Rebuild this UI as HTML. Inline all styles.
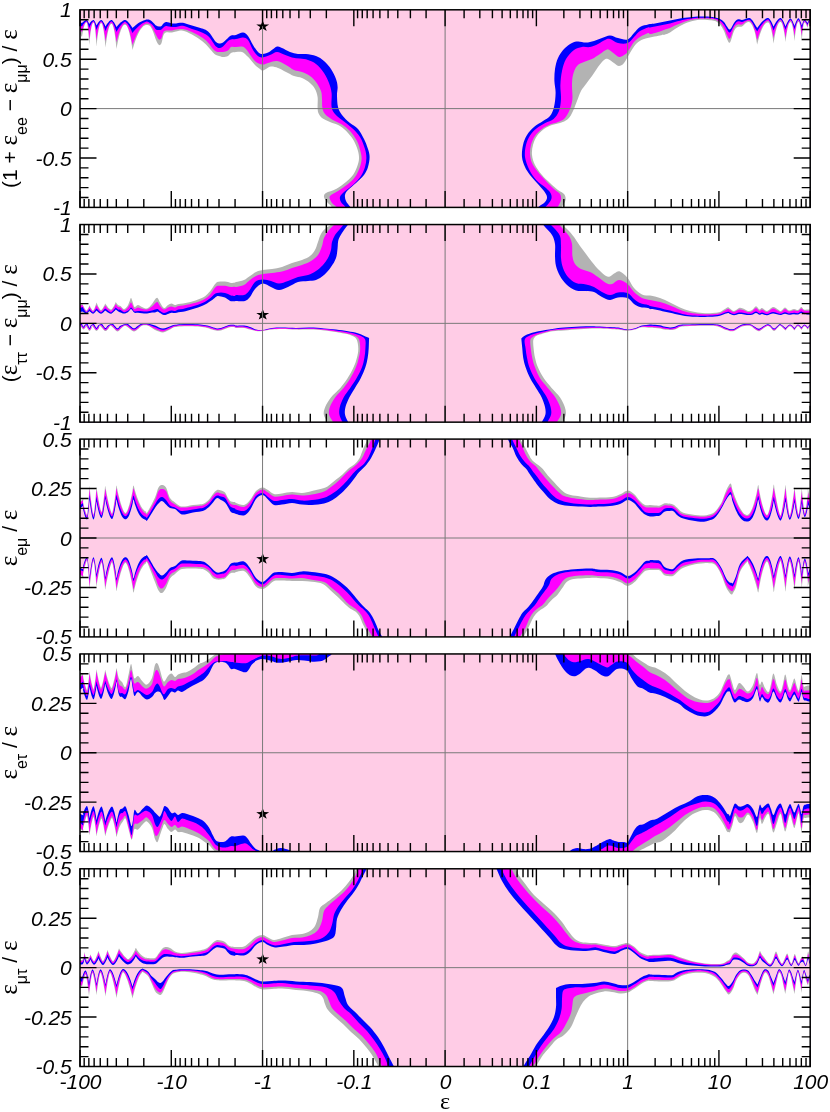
<!DOCTYPE html>
<html><head><meta charset="utf-8"><title>chart</title>
<style>
html,body{margin:0;padding:0;background:#fff;}
body{width:830px;height:1112px;overflow:hidden;}
svg{display:block;}
text{font-family:"Liberation Sans",sans-serif;fill:#000;}
.tl{font-size:21px;font-style:italic;}
.yl{font-size:21px;}
.xe{font-family:"Liberation Serif",serif;font-size:24px;}
.sub{font-size:16px;}
.eps{font-family:"Liberation Serif",serif;font-size:25px;}
</style></head><body>
<svg width="830" height="1112" viewBox="0 0 830 1112">
<rect width="830" height="1112" fill="#fff"/>
<defs>
<clipPath id="c0"><rect x="80" y="9.8" width="730.2" height="197.6"/></clipPath>
<clipPath id="c1"><rect x="80" y="224.55" width="730.2" height="197.6"/></clipPath>
<clipPath id="c2"><rect x="80" y="439.1" width="730.2" height="197.8"/></clipPath>
<clipPath id="c3"><rect x="80" y="653.95" width="730.2" height="197.6"/></clipPath>
<clipPath id="c4"><rect x="80" y="868.8" width="730.2" height="197.7"/></clipPath>
</defs>
<g clip-path="url(#c0)">
<rect x="80" y="9.8" width="730.2" height="197.6" fill="#ffcce6"/>
<path d="M76,21C77,21.33 80.8,22.6 82,23C82.11,22.89 82.33,22.65 82.54,22.45C82.75,22.24 82.98,22.02 83.26,21.77C83.55,21.53 83.92,21.22 84.25,20.99C84.58,20.76 84.95,20.54 85.24,20.39C85.52,20.24 85.75,20.17 85.96,20.1C86.17,20.04 86.36,19.99 86.5,20C86.64,20.01 86.7,20.05 86.82,20.13C86.95,20.22 87.09,20.32 87.26,20.52C87.43,20.72 87.65,21.01 87.85,21.32C88.05,21.63 88.27,22.04 88.44,22.36C88.62,22.69 88.75,22.99 88.88,23.26C89,23.53 89.14,23.85 89.2,24C89.3,23.85 89.52,23.53 89.72,23.26C89.92,22.99 90.13,22.69 90.4,22.36C90.68,22.04 91.03,21.63 91.35,21.32C91.67,21.01 92.02,20.72 92.3,20.52C92.57,20.32 92.78,20.22 92.98,20.13C93.18,20.05 93.35,19.99 93.5,20C93.65,20.01 93.72,20.07 93.86,20.18C94,20.3 94.15,20.45 94.34,20.72C94.53,20.99 94.78,21.39 95,21.81C95.22,22.24 95.47,22.81 95.66,23.25C95.85,23.7 96,24.11 96.14,24.48C96.28,24.86 96.43,25.3 96.5,25.5C96.61,25.3 96.84,24.86 97.06,24.48C97.28,24.11 97.52,23.7 97.82,23.25C98.11,22.81 98.51,22.24 98.85,21.81C99.19,21.39 99.59,20.99 99.88,20.72C100.18,20.45 100.42,20.3 100.64,20.18C100.86,20.07 101.02,19.99 101.2,20C101.38,20.01 101.52,20.08 101.72,20.22C101.92,20.36 102.13,20.53 102.4,20.85C102.68,21.17 103.03,21.65 103.35,22.14C103.67,22.64 104.02,23.32 104.3,23.84C104.57,24.37 104.78,24.85 104.98,25.3C105.18,25.74 105.4,26.26 105.5,26.5C105.64,26.26 105.94,25.74 106.22,25.3C106.5,24.85 106.8,24.37 107.18,23.84C107.56,23.32 108.06,22.64 108.5,22.14C108.94,21.65 109.44,21.17 109.82,20.85C110.2,20.53 110.5,20.36 110.78,20.22C111.06,20.08 111.28,20 111.5,20C111.72,20 111.87,20.08 112.1,20.24C112.33,20.39 112.58,20.57 112.9,20.91C113.22,21.26 113.63,21.77 114,22.31C114.37,22.85 114.78,23.57 115.1,24.14C115.42,24.7 115.67,25.23 115.9,25.71C116.13,26.18 116.38,26.74 116.5,27C116.7,26.74 117.12,26.18 117.52,25.71C117.92,25.23 118.34,24.7 118.88,24.14C119.42,23.57 120.13,22.85 120.75,22.31C121.37,21.77 122.08,21.26 122.62,20.91C123.16,20.57 123.58,20.39 123.98,20.24C124.38,20.08 124.68,19.99 125,20C125.32,20.01 125.55,20.1 125.9,20.27C126.25,20.44 126.62,20.65 127.1,21.04C127.57,21.44 128.2,22.02 128.75,22.64C129.3,23.25 129.93,24.08 130.4,24.73C130.88,25.38 131.25,25.98 131.6,26.52C131.95,27.07 132.32,27.7 132.5,28C132.85,27.69 133.56,27.02 134.24,26.45C134.92,25.87 135.64,25.25 136.56,24.57C137.48,23.89 138.69,23.02 139.75,22.37C140.81,21.73 142.02,21.11 142.94,20.7C143.86,20.28 144.58,20.07 145.26,19.88C145.94,19.7 146.21,19.58 147,19.6C147.79,19.62 149,19.52 150,20C151,20.48 152,21.58 153,22.5C154,23.42 155,24.83 156,25.5C157,26.17 158.08,26.42 159,26.5C159.92,26.58 160.75,26.5 161.5,26C162.25,25.5 162.75,24.17 163.5,23.5C164.25,22.83 165.08,22.17 166,22C166.92,21.83 168,22.25 169,22.5C170,22.75 170.83,23.33 172,23.5C173.17,23.67 174.67,23.62 176,23.5C177.33,23.38 178.83,22.92 180,22.8C181.17,22.68 181.83,22.6 183,22.8C184.17,23 185.5,23.55 187,24C188.5,24.45 190.33,25 192,25.5C193.67,26 195.33,26.5 197,27C198.67,27.5 200.5,28 202,28.5C203.5,29 204.67,29.17 206,30C207.33,30.83 208.83,32.17 210,33.5C211.17,34.83 212,36.58 213,38C214,39.42 215,41.08 216,42C217,42.92 217.83,43.42 219,43.5C220.17,43.58 221.5,43.42 223,42.5C224.5,41.58 226.67,39.15 228,38C229.33,36.85 229.67,36.1 231,35.6C232.33,35.1 234,35.5 236,35C238,34.5 241,32.43 243,32.6C245,32.77 246.33,33.93 248,36C249.67,38.07 251.33,42.33 253,45C254.67,47.67 256.4,50.5 258,52C259.6,53.5 260.6,54.1 262.6,54C264.6,53.9 267.6,52.63 270,51.4C272.4,50.17 275,47.17 277,46.6C279,46.03 279.83,47.1 282,48C284.17,48.9 287.33,51 290,52C292.67,53 295.33,53.67 298,54C300.67,54.33 303,53.67 306,54C309,54.33 313,54.83 316,56C319,57.17 321.5,58.83 324,61C326.5,63.17 329,66 331,69C333,72 334.9,76 336,79C337.1,82 337.43,84.33 337.6,87C337.77,89.67 336.93,91.67 337,95C337.07,98.33 337.17,103.67 338,107C338.83,110.33 340,112.33 342,115C344,117.67 347.33,120.67 350,123C352.67,125.33 355.67,126.33 358,129C360.33,131.67 362.33,135.67 364,139C365.67,142.33 367.07,146 368,149C368.93,152 369.6,154 369.6,157C369.6,160 368.93,164 368,167C367.07,170 366,172.33 364,175C362,177.67 358.67,180.5 356,183C353.33,185.5 349.83,188 348,190C346.17,192 345.33,193.17 345,195C344.67,196.83 345.17,199.07 346,201C346.83,202.93 348.67,204.6 350,206.6C351.33,208.6 353.33,211.93 354,213L70,220L70,24Z" fill="#0000ff"/>
<path d="M76,23C77,23.58 80.8,25.8 82,26.5C82.11,26.3 82.33,25.88 82.54,25.52C82.75,25.16 82.98,24.76 83.26,24.33C83.55,23.9 83.92,23.36 84.25,22.95C84.58,22.54 84.95,22.15 85.24,21.89C85.52,21.63 85.75,21.49 85.96,21.38C86.17,21.26 86.36,21.19 86.5,21.2C86.64,21.21 86.7,21.28 86.82,21.43C86.95,21.58 87.09,21.75 87.26,22.09C87.43,22.42 87.65,22.92 87.85,23.44C88.05,23.97 88.27,24.67 88.44,25.22C88.62,25.77 88.75,26.28 88.88,26.74C89,27.21 89.14,27.75 89.2,28C89.3,27.75 89.52,27.21 89.72,26.74C89.92,26.28 90.13,25.77 90.4,25.22C90.68,24.67 91.03,23.97 91.35,23.44C91.67,22.92 92.02,22.42 92.3,22.09C92.57,21.75 92.78,21.58 92.98,21.43C93.18,21.28 93.35,21.19 93.5,21.2C93.65,21.21 93.72,21.3 93.86,21.5C94,21.69 94.15,21.91 94.34,22.35C94.53,22.78 94.78,23.43 95,24.1C95.22,24.78 95.47,25.69 95.66,26.4C95.85,27.11 96,27.77 96.14,28.37C96.28,28.97 96.43,29.67 96.5,30C96.61,29.68 96.84,28.98 97.06,28.39C97.28,27.8 97.52,27.15 97.82,26.44C98.11,25.74 98.51,24.84 98.85,24.17C99.19,23.5 99.59,22.86 99.88,22.43C100.18,22.01 100.42,21.78 100.64,21.59C100.86,21.4 101.02,21.29 101.2,21.3C101.38,21.31 101.52,21.42 101.72,21.63C101.92,21.84 102.13,22.09 102.4,22.57C102.68,23.04 103.03,23.75 103.35,24.5C103.67,25.24 104.02,26.25 104.3,27.03C104.57,27.82 104.78,28.54 104.98,29.21C105.18,29.87 105.4,30.64 105.5,31C105.64,30.65 105.94,29.89 106.22,29.24C106.5,28.6 106.8,27.88 107.18,27.12C107.56,26.35 108.06,25.36 108.5,24.63C108.94,23.9 109.44,23.21 109.82,22.74C110.2,22.27 110.5,22.03 110.78,21.82C111.06,21.61 111.28,21.49 111.5,21.5C111.72,21.51 111.87,21.62 112.1,21.85C112.33,22.08 112.58,22.35 112.9,22.87C113.22,23.39 113.63,24.16 114,24.96C114.37,25.77 114.78,26.86 115.1,27.71C115.42,28.56 115.67,29.34 115.9,30.06C116.13,30.77 116.38,31.61 116.5,32C116.7,31.62 117.12,30.81 117.52,30.11C117.92,29.42 118.34,28.65 118.88,27.83C119.42,27.01 120.13,25.95 120.75,25.16C121.37,24.38 122.08,23.63 122.62,23.13C123.16,22.63 123.58,22.36 123.98,22.14C124.38,21.92 124.68,21.79 125,21.8C125.32,21.81 125.55,21.93 125.9,22.18C126.25,22.42 126.62,22.71 127.1,23.26C127.57,23.81 128.2,24.63 128.75,25.49C129.3,26.35 129.93,27.52 130.4,28.42C130.88,29.33 131.25,30.17 131.6,30.93C131.95,31.69 132.32,32.59 132.5,33C132.85,32.57 133.56,31.66 134.24,30.87C134.92,30.09 135.64,29.23 136.56,28.3C137.48,27.37 138.69,26.18 139.75,25.29C140.81,24.41 142.02,23.57 142.94,23C143.86,22.43 144.58,22.14 145.26,21.89C145.94,21.64 146.21,21.31 147,21.5C147.79,21.69 149,22.33 150,23C151,23.67 152,24.42 153,25.5C154,26.58 155,28.75 156,29.5C157,30.25 158.08,30 159,30C159.92,30 160.75,29.92 161.5,29.5C162.25,29.08 162.75,28.08 163.5,27.5C164.25,26.92 165.08,26.17 166,26C166.92,25.83 168,26.33 169,26.5C170,26.67 170.83,26.92 172,27C173.17,27.08 174.67,27.17 176,27C177.33,26.83 178.83,26.2 180,26C181.17,25.8 181.83,25.63 183,25.8C184.17,25.97 185.5,26.47 187,27C188.5,27.53 190.33,28.42 192,29C193.67,29.58 195.33,29.92 197,30.5C198.67,31.08 200.5,31.83 202,32.5C203.5,33.17 204.67,33.58 206,34.5C207.33,35.42 208.83,36.67 210,38C211.17,39.33 212,41.08 213,42.5C214,43.92 215,45.58 216,46.5C217,47.42 217.83,48 219,48C220.17,48 221.5,47.67 223,46.5C224.5,45.33 226.67,42.18 228,41C229.33,39.82 229.67,39.73 231,39.4C232.33,39.07 234,39.33 236,39C238,38.67 241,37.23 243,37.4C245,37.57 246.33,37.9 248,40C249.67,42.1 251.33,47.33 253,50C254.67,52.67 256.4,54.77 258,56C259.6,57.23 260.6,57.57 262.6,57.4C264.6,57.23 267.6,55.9 270,55C272.4,54.1 274.67,52.07 277,52C279.33,51.93 281.5,53.7 284,54.6C286.5,55.5 289.33,56.73 292,57.4C294.67,58.07 297.33,58.17 300,58.6C302.67,59.03 305.33,59.1 308,60C310.67,60.9 313.33,61.83 316,64C318.67,66.17 321.83,69.83 324,73C326.17,76.17 327.73,79.67 329,83C330.27,86.33 331.17,89 331.6,93C332.03,97 331.03,103.5 331.6,107C332.17,110.5 333.27,111.83 335,114C336.73,116.17 339.17,117.67 342,120C344.83,122.33 349,125.17 352,128C355,130.83 357.83,133.5 360,137C362.17,140.5 363.93,145.5 365,149C366.07,152.5 366.4,155 366.4,158C366.4,161 365.9,164 365,167C364.1,170 362.83,173.17 361,176C359.17,178.83 356.83,181.33 354,184C351.17,186.67 346.33,189.83 344,192C341.67,194.17 340.5,195.33 340,197C339.5,198.67 340.17,200.4 341,202C341.83,203.6 343.67,204.77 345,206.6C346.33,208.43 348.33,211.93 349,213L70,220L70,24Z" fill="#ff00ff"/>
<path d="M76,26C77,27 80.8,30.8 82,32C82.11,31.57 82.33,30.62 82.54,29.84C82.75,29.07 82.98,28.22 83.26,27.36C83.55,26.5 83.92,25.42 84.25,24.68C84.58,23.93 84.95,23.31 85.24,22.89C85.52,22.47 85.75,22.33 85.96,22.18C86.17,22.03 86.36,21.98 86.5,22C86.64,22.02 86.7,22.05 86.82,22.3C86.95,22.55 87.09,22.8 87.26,23.51C87.43,24.22 87.65,25.29 87.85,26.56C88.05,27.82 88.27,29.64 88.44,31.11C88.62,32.57 88.75,34.02 88.88,35.33C89,36.65 89.14,38.27 89.2,39C89.3,38.28 89.52,36.68 89.72,35.38C89.92,34.08 90.13,32.65 90.4,31.2C90.68,29.75 91.03,27.95 91.35,26.7C91.67,25.45 92.02,24.4 92.3,23.7C92.57,23 92.78,22.75 92.98,22.5C93.18,22.25 93.35,22.2 93.5,22.2C93.65,22.2 93.72,22.25 93.86,22.52C94,22.78 94.15,23.04 94.34,23.78C94.53,24.53 94.78,25.64 95,26.97C95.22,28.29 95.47,30.2 95.66,31.74C95.85,33.27 96,34.78 96.14,36.16C96.28,37.54 96.43,39.23 96.5,40C96.61,39.25 96.84,37.58 97.06,36.23C97.28,34.87 97.52,33.38 97.82,31.87C98.11,30.37 98.51,28.49 98.85,27.19C99.19,25.89 99.59,24.79 99.88,24.06C100.18,23.33 100.42,23.07 100.64,22.81C100.86,22.55 101.02,22.5 101.2,22.5C101.38,22.5 101.52,22.55 101.72,22.83C101.92,23.1 102.13,23.38 102.4,24.15C102.68,24.92 103.03,26.08 103.35,27.46C103.67,28.83 104.02,30.82 104.3,32.41C104.57,34 104.78,35.58 104.98,37.01C105.18,38.44 105.4,40.2 105.5,41C105.64,40.22 105.94,38.51 106.22,37.12C106.5,35.73 106.8,34.19 107.18,32.64C107.56,31.09 108.06,29.16 108.5,27.82C108.94,26.48 109.44,25.35 109.82,24.6C110.2,23.85 110.5,23.59 110.78,23.32C111.06,23.05 111.28,23 111.5,23C111.72,23 111.87,23.06 112.1,23.34C112.33,23.62 112.58,23.9 112.9,24.69C113.22,25.48 113.63,26.68 114,28.09C114.37,29.51 114.78,31.54 115.1,33.18C115.42,34.81 115.67,36.43 115.9,37.9C116.13,39.37 116.38,41.18 116.5,42C116.7,41.21 117.12,39.46 117.52,38.03C117.92,36.61 118.34,35.04 118.88,33.46C119.42,31.87 120.13,29.9 120.75,28.53C121.37,27.16 122.08,26.01 122.62,25.24C123.16,24.47 123.58,24.2 123.98,23.93C124.38,23.65 124.68,23.59 125,23.6C125.32,23.61 125.55,23.66 125.9,23.98C126.25,24.3 126.62,24.61 127.1,25.51C127.57,26.4 128.2,27.74 128.75,29.33C129.3,30.93 129.93,33.22 130.4,35.06C130.88,36.91 131.25,38.73 131.6,40.39C131.95,42.04 132.32,44.08 132.5,45C132.85,44.07 133.56,42.03 134.24,40.36C134.92,38.7 135.64,36.87 136.56,35.02C137.48,33.17 138.69,30.86 139.75,29.26C140.81,27.66 142.02,26.31 142.94,25.41C143.86,24.52 144.58,24.2 145.26,23.88C145.94,23.56 146.21,23.4 147,23.5C147.79,23.6 149,23.58 150,24.5C151,25.42 152,27.25 153,29C154,30.75 155,33.25 156,35C157,36.75 158.08,39 159,39.5C159.92,40 160.75,39.25 161.5,38C162.25,36.75 162.75,33.25 163.5,32C164.25,30.75 165.08,30.75 166,30.5C166.92,30.25 168,30.5 169,30.5C170,30.5 170.83,30.67 172,30.5C173.17,30.33 174.67,29.75 176,29.5C177.33,29.25 178.83,29.08 180,29C181.17,28.92 181.83,28.83 183,29C184.17,29.17 185.5,29.5 187,30C188.5,30.5 190.33,31.25 192,32C193.67,32.75 195.33,33.58 197,34.5C198.67,35.42 200.5,36.5 202,37.5C203.5,38.5 204.67,39.25 206,40.5C207.33,41.75 208.83,43.58 210,45C211.17,46.42 212,47.92 213,49C214,50.08 215,51 216,51.5C217,52 217.83,51.92 219,52C220.17,52.08 221.5,52.23 223,52C224.5,51.77 226.67,51.43 228,50.6C229.33,49.77 229.67,47.6 231,47C232.33,46.4 234.17,47.07 236,47C237.83,46.93 240.33,46.27 242,46.6C243.67,46.93 244.5,47.43 246,49C247.5,50.57 249.33,53.83 251,56C252.67,58.17 254.07,60.57 256,62C257.93,63.43 260.6,64.43 262.6,64.6C264.6,64.77 265.6,63.6 268,63C270.4,62.4 274,60.67 277,61C280,61.33 283.17,63.5 286,65C288.83,66.5 291.33,68.83 294,70C296.67,71.17 299.33,71 302,72C304.67,73 307.67,74.33 310,76C312.33,77.67 314.17,79.5 316,82C317.83,84.5 320,88.17 321,91C322,93.83 321.77,96.17 322,99C322.23,101.83 321.9,105.5 322.4,108C322.9,110.5 323.4,112.1 325,114C326.6,115.9 329.17,117.67 332,119.4C334.83,121.13 339,122.47 342,124.4C345,126.33 347.5,128.23 350,131C352.5,133.77 355.27,137.67 357,141C358.73,144.33 359.63,148 360.4,151C361.17,154 361.73,156.17 361.6,159C361.47,161.83 360.7,165 359.6,168C358.5,171 356.93,174.33 355,177C353.07,179.67 350.83,181.67 348,184C345.17,186.33 340.83,189.17 338,191C335.17,192.83 332.4,193.83 331,195C329.6,196.17 329.43,196.67 329.6,198C329.77,199.33 330.93,201.57 332,203C333.07,204.43 334.67,204.93 336,206.6C337.33,208.27 339.33,211.93 340,213L70,220L70,24Z" fill="#b3b3b3"/>
<path d="M76,28C77,29.5 80.8,35.2 82,37C82.11,36.32 82.33,34.79 82.54,33.59C82.75,32.38 82.98,31.06 83.26,29.77C83.55,28.49 83.92,26.93 84.25,25.88C84.58,24.84 84.95,24.04 85.24,23.5C85.52,22.97 85.75,22.84 85.96,22.67C86.17,22.5 86.36,22.48 86.5,22.5C86.64,22.52 86.7,22.5 86.82,22.76C86.95,23.02 87.09,23.22 87.26,24.05C87.43,24.88 87.65,26.13 87.85,27.75C88.05,29.37 88.27,31.79 88.44,33.79C88.62,35.78 88.75,37.83 88.88,39.7C89,41.57 89.14,43.94 89.2,45C89.3,43.95 89.52,41.62 89.72,39.77C89.92,37.93 90.13,35.9 90.4,33.94C90.68,31.97 91.03,29.58 91.35,27.98C91.67,26.38 92.02,25.15 92.3,24.33C92.57,23.51 92.78,23.31 92.98,23.06C93.18,22.8 93.35,22.8 93.5,22.8C93.65,22.8 93.72,22.8 93.86,23.08C94,23.35 94.15,23.56 94.34,24.44C94.53,25.31 94.78,26.62 95,28.33C95.22,30.04 95.47,32.59 95.66,34.69C95.85,36.79 96,38.95 96.14,40.92C96.28,42.89 96.43,45.38 96.5,46.5C96.61,45.41 96.84,42.96 97.06,41.04C97.28,39.11 97.52,36.99 97.82,34.94C98.11,32.88 98.51,30.38 98.85,28.71C99.19,27.04 99.59,25.76 99.88,24.9C100.18,24.04 100.42,23.84 100.64,23.57C100.86,23.3 101.02,23.3 101.2,23.3C101.38,23.3 101.52,23.3 101.72,23.58C101.92,23.86 102.13,24.08 102.4,24.97C102.68,25.86 103.03,27.2 103.35,28.94C103.67,30.69 104.02,33.3 104.3,35.44C104.57,37.58 104.78,39.79 104.98,41.8C105.18,43.81 105.4,46.36 105.5,47.5C105.64,46.39 105.94,43.92 106.22,41.97C106.5,40.02 106.8,37.87 107.18,35.79C107.56,33.71 108.06,31.18 108.5,29.48C108.94,27.79 109.44,26.49 109.82,25.62C110.2,24.75 110.5,24.54 110.78,24.27C111.06,24 111.28,24 111.5,24C111.72,24 111.87,24 112.1,24.29C112.33,24.58 112.58,24.8 112.9,25.73C113.22,26.65 113.63,28.03 114,29.83C114.37,31.63 114.78,34.33 115.1,36.54C115.42,38.75 115.67,41.04 115.9,43.11C116.13,45.19 116.38,47.82 116.5,49C116.7,47.86 117.12,45.31 117.52,43.3C117.92,41.29 118.34,39.08 118.88,36.94C119.42,34.8 120.13,32.19 120.75,30.44C121.37,28.7 122.08,27.36 122.62,26.47C123.16,25.58 123.58,25.36 123.98,25.08C124.38,24.8 124.68,24.8 125,24.8C125.32,24.8 125.55,24.8 125.9,25.09C126.25,25.38 126.62,25.61 127.1,26.54C127.57,27.47 128.2,28.86 128.75,30.68C129.3,32.5 129.93,35.21 130.4,37.44C130.88,39.67 131.25,41.97 131.6,44.07C131.95,46.16 132.32,48.81 132.5,50C132.85,48.82 133.56,46.19 134.24,44.11C134.92,42.04 135.64,39.75 136.56,37.54C137.48,35.33 138.69,32.63 139.75,30.83C140.81,29.03 142.02,27.65 142.94,26.73C143.86,25.8 144.58,25.58 145.26,25.29C145.94,25 146.21,24.88 147,25C147.79,25.12 149,24.92 150,26C151,27.08 152,29.17 153,31.5C154,33.83 155,37.75 156,40C157,42.25 158.08,44.5 159,45C159.92,45.5 160.75,44.67 161.5,43C162.25,41.33 162.75,36.75 163.5,35C164.25,33.25 165.08,32.92 166,32.5C166.92,32.08 168,32.5 169,32.5C170,32.5 170.83,32.67 172,32.5C173.17,32.33 174.67,31.83 176,31.5C177.33,31.17 178.83,30.62 180,30.5C181.17,30.38 181.83,30.55 183,30.8C184.17,31.05 185.5,31.38 187,32C188.5,32.62 190.33,33.58 192,34.5C193.67,35.42 195.33,36.42 197,37.5C198.67,38.58 200.5,39.83 202,41C203.5,42.17 204.67,43.17 206,44.5C207.33,45.83 208.83,47.67 210,49C211.17,50.33 212,51.5 213,52.5C214,53.5 215,54.42 216,55C217,55.58 217.83,55.67 219,56C220.17,56.33 221.5,57 223,57C224.5,57 226.67,56.67 228,56C229.33,55.33 229.67,53.67 231,53C232.33,52.33 234.17,52.17 236,52C237.83,51.83 240.33,51.5 242,52C243.67,52.5 244.67,53.83 246,55C247.33,56.17 248.5,57.33 250,59C251.5,60.67 253.33,63.33 255,65C256.67,66.67 258.73,68.07 260,69C261.27,69.93 261.6,70.6 262.6,70.6C263.6,70.6 264.6,69.67 266,69C267.4,68.33 269,66.77 271,66.6C273,66.43 275.5,67.1 278,68C280.5,68.9 283.33,70.67 286,72C288.67,73.33 291.33,75 294,76C296.67,77 299.33,76.83 302,78C304.67,79.17 307.83,81.17 310,83C312.17,84.83 313.73,86.67 315,89C316.27,91.33 317.17,94 317.6,97C318.03,100 317.47,104.33 317.6,107C317.73,109.67 317.67,111.17 318.4,113C319.13,114.83 320.07,116.5 322,118C323.93,119.5 327,120.67 330,122C333,123.33 337,124.17 340,126C343,127.83 345.67,130.5 348,133C350.33,135.5 352.33,138 354,141C355.67,144 357.17,148 358,151C358.83,154 359.17,156.33 359,159C358.83,161.67 358,164.33 357,167C356,169.67 354.83,172.5 353,175C351.17,177.5 348.83,179.67 346,182C343.17,184.33 339.33,187.17 336,189C332.67,190.83 328,191.67 326,193C324,194.33 323.83,195.5 324,197C324.17,198.5 325.83,200.5 327,202C328.17,203.5 329.67,204.17 331,206C332.33,207.83 334.33,211.83 335,213L70,220L70,24Z" fill="#ffffff"/>
<path d="M533,213C534,211.93 537,208.43 539,206.6C541,204.77 543.67,203.6 545,202C546.33,200.4 547.17,198.83 547,197C546.83,195.17 545.67,193.33 544,191C542.33,188.67 539.33,185.67 537,183C534.67,180.33 532,177.67 530,175C528,172.33 526.33,170 525,167C523.67,164 522.33,160.67 522,157C521.67,153.33 522.17,148.67 523,145C523.83,141.33 525.17,138 527,135C528.83,132 531.33,129.33 534,127C536.67,124.67 540.33,122.83 543,121C545.67,119.17 548.17,118.33 550,116C551.83,113.67 553.07,110.83 554,107C554.93,103.17 555.53,97.33 555.6,93C555.67,88.67 554.5,85 554.4,81C554.3,77 554.4,72.83 555,69C555.6,65.17 556.5,61.33 558,58C559.5,54.67 561.67,51.5 564,49C566.33,46.5 569.67,44.27 572,43C574.33,41.73 575.67,41.47 578,41.4C580.33,41.33 583.33,42.67 586,42.6C588.67,42.53 591.33,41.77 594,41C596.67,40.23 599.33,38.93 602,38C604.67,37.07 607.33,35.4 610,35.4C612.67,35.4 615.07,37.33 618,38C620.93,38.67 624.93,40.23 627.6,39.4C630.27,38.57 631.93,35.07 634,33C636.07,30.93 637.67,28.4 640,27C642.33,25.6 646.33,25.1 648,24.6C649.67,24.1 648.83,24.18 650,24C651.17,23.82 653.33,23.75 655,23.5C656.67,23.25 658.33,22.83 660,22.5C661.67,22.17 663.33,21.83 665,21.5C666.67,21.17 668.33,20.83 670,20.5C671.67,20.17 673.33,19.83 675,19.5C676.67,19.17 678.33,18.78 680,18.5C681.67,18.22 683.33,18 685,17.8C686.67,17.6 688.33,17.47 690,17.3C691.67,17.13 693.33,16.93 695,16.8C696.67,16.67 698.33,16.55 700,16.5C701.67,16.45 703.33,16.45 705,16.5C706.67,16.55 708.33,16.63 710,16.8C711.67,16.97 713.33,17.13 715,17.5C716.67,17.87 718.5,18.25 720,19C721.5,19.75 722.83,20.75 724,22C725.17,23.25 726,25.25 727,26.5C728,27.75 728.83,30.08 730,29.5C731.17,28.92 732.75,24.67 734,23C735.25,21.33 736.17,20 737.5,19.5C738.83,19 740.58,20.12 742,20C743.42,19.88 744.75,19.13 746,18.8C747.25,18.47 748.42,17.72 749.5,18C750.58,18.28 751.58,19.42 752.5,20.5C753.42,21.58 754.22,23.25 755,24.5C755.78,25.75 756.76,27.3 757.2,28C757.46,27.63 757.99,26.83 758.5,26.15C759,25.47 759.54,24.72 760.22,23.91C760.91,23.1 761.81,22.07 762.6,21.3C763.39,20.53 764.29,19.8 764.98,19.3C765.66,18.81 766.2,18.55 766.7,18.34C767.21,18.12 767.67,18.01 768,18C768.33,17.99 768.4,18.1 768.66,18.29C768.92,18.47 769.19,18.69 769.54,19.11C769.89,19.53 770.35,20.15 770.75,20.8C771.15,21.46 771.61,22.34 771.96,23.03C772.31,23.71 772.58,24.35 772.84,24.93C773.1,25.51 773.37,26.19 773.5,26.5C773.67,26.19 774.01,25.51 774.34,24.93C774.67,24.35 775.02,23.71 775.46,23.03C775.9,22.34 776.49,21.46 777,20.8C777.51,20.15 778.1,19.53 778.54,19.11C778.98,18.69 779.33,18.47 779.66,18.29C779.99,18.1 780.26,18 780.5,18C780.74,18 780.87,18.1 781.1,18.29C781.33,18.47 781.58,18.69 781.9,19.11C782.22,19.53 782.63,20.15 783,20.8C783.37,21.46 783.78,22.34 784.1,23.03C784.42,23.71 784.67,24.35 784.9,24.93C785.13,25.51 785.38,26.19 785.5,26.5C785.62,26.2 785.87,25.57 786.1,25.02C786.33,24.48 786.58,23.88 786.9,23.23C787.22,22.58 787.63,21.75 788,21.14C788.37,20.52 788.78,19.94 789.1,19.54C789.42,19.15 789.67,18.94 789.9,18.77C790.13,18.6 790.32,18.5 790.5,18.5C790.68,18.5 790.79,18.59 790.98,18.75C791.17,18.92 791.37,19.11 791.62,19.48C791.87,19.85 792.21,20.4 792.5,20.97C792.79,21.55 793.13,22.33 793.38,22.93C793.63,23.54 793.83,24.1 794.02,24.61C794.21,25.12 794.4,25.72 794.5,26C794.6,25.72 794.79,25.1 794.98,24.58C795.17,24.05 795.37,23.47 795.62,22.85C795.87,22.23 796.21,21.43 796.5,20.84C796.79,20.25 797.13,19.68 797.38,19.3C797.63,18.92 797.83,18.73 798.02,18.56C798.21,18.39 798.35,18.3 798.5,18.3C798.65,18.3 798.74,18.39 798.9,18.54C799.05,18.7 799.21,18.88 799.42,19.24C799.63,19.59 799.91,20.12 800.15,20.68C800.39,21.23 800.67,21.97 800.88,22.56C801.09,23.14 801.25,23.68 801.4,24.17C801.56,24.66 801.72,25.23 801.8,25.5C801.86,25.29 802,24.83 802.12,24.45C802.25,24.06 802.38,23.63 802.56,23.17C802.73,22.71 802.95,22.12 803.15,21.68C803.35,21.24 803.57,20.83 803.74,20.54C803.92,20.26 804.05,20.12 804.18,19.99C804.3,19.87 804.39,19.81 804.5,19.8C804.61,19.79 804.72,19.84 804.86,19.91C805,19.98 805.15,20.06 805.34,20.22C805.53,20.38 805.78,20.61 806,20.86C806.22,21.1 806.47,21.43 806.66,21.69C806.85,21.95 807,22.19 807.14,22.41C807.28,22.63 807.43,22.88 807.5,23C807.55,22.89 807.65,22.65 807.74,22.45C807.83,22.24 807.93,22.02 808.06,21.77C808.19,21.53 808.35,21.22 808.5,20.99C808.65,20.76 808.81,20.54 808.94,20.39C809.07,20.24 809.17,20.17 809.26,20.1C809.35,20.04 808.04,19.52 809.5,20C810.96,20.48 816.58,22.5 818,23L820,220Z" fill="#0000ff"/>
<path d="M541,213C541.83,211.93 544.33,208.77 546,206.6C547.67,204.43 550.17,202.1 551,200C551.83,197.9 551.83,196 551,194C550.17,192 548.43,190.3 546,188C543.57,185.7 539.2,183.3 536.4,180.2C533.6,177.1 531.1,173.27 529.2,169.4C527.3,165.53 525.53,161.07 525,157C524.47,152.93 525.17,148.6 526,145C526.83,141.4 528.2,138.2 530,135.4C531.8,132.6 534.27,130.27 536.8,128.2C539.33,126.13 542.4,124.53 545.2,123C548,121.47 551.3,121 553.6,119C555.9,117 557.77,114.33 559,111C560.23,107.67 560.77,103.33 561,99C561.23,94.67 560.23,89.67 560.4,85C560.57,80.33 561.07,75.33 562,71C562.93,66.67 564,62.5 566,59C568,55.5 571.33,52 574,50C576.67,48 579.33,47.5 582,47C584.67,46.5 587.33,47.5 590,47C592.67,46.5 595.5,45.17 598,44C600.5,42.83 603,40.83 605,40C607,39.17 607.83,38.5 610,39C612.17,39.5 615.07,42.33 618,43C620.93,43.67 624.93,44 627.6,43C630.27,42 631.93,39 634,37C636.07,35 637.67,32.6 640,31C642.33,29.4 646.33,27.98 648,27.4C649.67,26.82 648.83,27.65 650,27.5C651.17,27.35 653.33,26.83 655,26.5C656.67,26.17 658.33,25.83 660,25.5C661.67,25.17 663.33,24.83 665,24.5C666.67,24.17 668.33,23.92 670,23.5C671.67,23.08 673.33,22.45 675,22C676.67,21.55 678.33,21.22 680,20.8C681.67,20.38 683.33,19.85 685,19.5C686.67,19.15 688.33,18.95 690,18.7C691.67,18.45 693.33,18.17 695,18C696.67,17.83 698.33,17.75 700,17.7C701.67,17.65 703.33,17.68 705,17.7C706.67,17.72 708.33,17.67 710,17.8C711.67,17.93 713.33,18.05 715,18.5C716.67,18.95 718.5,19.5 720,20.5C721.5,21.5 722.83,23 724,24.5C725.17,26 726,28.17 727,29.5C728,30.83 728.83,33.17 730,32.5C731.17,31.83 732.75,27.33 734,25.5C735.25,23.67 736.17,22.08 737.5,21.5C738.83,20.92 740.58,22.17 742,22C743.42,21.83 744.75,20.87 746,20.5C747.25,20.13 748.42,19.38 749.5,19.8C750.58,20.22 751.58,21.63 752.5,23C753.42,24.37 754.22,26.58 755,28C755.78,29.42 756.76,30.8 757.2,31.5C757.46,31.06 757.99,30.1 758.5,29.28C759,28.46 759.54,27.56 760.22,26.59C760.91,25.62 761.81,24.38 762.6,23.46C763.39,22.54 764.29,21.66 764.98,21.07C765.66,20.47 766.2,20.16 766.7,19.9C767.21,19.64 767.67,19.51 768,19.5C768.33,19.49 768.4,19.63 768.66,19.87C768.92,20.11 769.19,20.39 769.54,20.93C769.89,21.48 770.35,22.28 770.75,23.13C771.15,23.97 771.61,25.11 771.96,26C772.31,26.89 772.58,27.72 772.84,28.47C773.1,29.21 773.37,30.09 773.5,30.5C773.67,30.09 774.01,29.21 774.34,28.47C774.67,27.72 775.02,26.89 775.46,26C775.9,25.11 776.49,23.97 777,23.13C777.51,22.28 778.1,21.48 778.54,20.93C778.98,20.39 779.33,20.11 779.66,19.87C779.99,19.63 780.26,19.5 780.5,19.5C780.74,19.5 780.87,19.62 781.1,19.85C781.33,20.08 781.58,20.35 781.9,20.87C782.22,21.39 782.63,22.16 783,22.96C783.37,23.77 783.78,24.86 784.1,25.71C784.42,26.56 784.67,27.34 784.9,28.06C785.13,28.77 785.38,29.61 785.5,30C785.62,29.62 785.87,28.81 786.1,28.11C786.33,27.42 786.58,26.65 786.9,25.83C787.22,25.01 787.63,23.95 788,23.16C788.37,22.38 788.78,21.63 789.1,21.13C789.42,20.63 789.67,20.36 789.9,20.14C790.13,19.92 790.32,19.8 790.5,19.8C790.68,19.8 790.79,19.92 790.98,20.13C791.17,20.34 791.37,20.59 791.62,21.07C791.87,21.54 792.21,22.25 792.5,23C792.79,23.74 793.13,24.75 793.38,25.53C793.63,26.32 793.83,27.04 794.02,27.71C794.21,28.37 794.4,29.14 794.5,29.5C794.6,29.14 794.79,28.35 794.98,27.69C795.17,27.02 795.37,26.29 795.62,25.49C795.87,24.7 796.21,23.69 796.5,22.93C796.79,22.18 797.13,21.46 797.38,20.98C797.63,20.49 797.83,20.24 798.02,20.03C798.21,19.82 798.35,19.7 798.5,19.7C798.65,19.7 798.74,19.81 798.9,20.01C799.05,20.21 799.21,20.45 799.42,20.91C799.63,21.37 799.91,22.05 800.15,22.77C800.39,23.48 800.67,24.45 800.88,25.2C801.09,25.95 801.25,26.65 801.4,27.28C801.56,27.91 801.72,28.66 801.8,29C801.86,28.7 802,28.04 802.12,27.48C802.25,26.92 802.38,26.31 802.56,25.65C802.73,24.98 802.95,24.13 803.15,23.5C803.35,22.88 803.57,22.27 803.74,21.87C803.92,21.46 804.05,21.25 804.18,21.08C804.3,20.9 804.39,20.82 804.5,20.8C804.61,20.78 804.72,20.85 804.86,20.94C805,21.03 805.15,21.14 805.34,21.35C805.53,21.56 805.78,21.86 806,22.19C806.22,22.51 806.47,22.94 806.66,23.28C806.85,23.62 807,23.94 807.14,24.22C807.28,24.51 807.43,24.84 807.5,25C807.55,24.85 807.65,24.53 807.74,24.26C807.83,23.99 807.93,23.69 808.06,23.36C808.19,23.04 808.35,22.63 808.5,22.32C808.65,22.01 808.81,21.72 808.94,21.52C809.07,21.32 809.17,21.22 809.26,21.13C809.35,21.05 808.04,20.52 809.5,21C810.96,21.48 816.58,23.5 818,24L820,220Z" fill="#ff00ff"/>
<path d="M554,213C554.67,211.93 556.83,208.77 558,206.6C559.17,204.43 560.67,202.1 561,200C561.33,197.9 561.17,195.83 560,194C558.83,192.17 556.33,191.17 554,189C551.67,186.83 548.67,183.83 546,181C543.33,178.17 540.33,175 538,172C535.67,169 533.33,166 532,163C530.67,160 530.17,157 530,154C529.83,151 530.17,148 531,145C531.83,142 533.17,138.67 535,136C536.83,133.33 539.5,130.9 542,129C544.5,127.1 547.33,125.77 550,124.6C552.67,123.43 555.5,123.1 558,122C560.5,120.9 563,120.17 565,118C567,115.83 568.77,112.17 570,109C571.23,105.83 572.07,103 572.4,99C572.73,95 571.9,89 572,85C572.1,81 572.17,78.17 573,75C573.83,71.83 575.17,68.17 577,66C578.83,63.83 581.5,63.17 584,62C586.5,60.83 589.33,60.33 592,59C594.67,57.67 597.5,55.6 600,54C602.5,52.4 605,49.73 607,49.4C609,49.07 610,50.73 612,52C614,53.27 617,56.5 619,57C621,57.5 622.57,55.83 624,55C625.43,54.17 625.93,54.17 627.6,52C629.27,49.83 631.93,44.5 634,42C636.07,39.5 637.67,38.5 640,37C642.33,35.5 646.33,33.5 648,33C649.67,32.5 648.83,34 650,34C651.17,34 653.33,33.42 655,33C656.67,32.58 658.33,32.08 660,31.5C661.67,30.92 663.33,30.08 665,29.5C666.67,28.92 668.33,28.67 670,28C671.67,27.33 673.33,26.25 675,25.5C676.67,24.75 678.33,24.17 680,23.5C681.67,22.83 683.33,22.08 685,21.5C686.67,20.92 688.33,20.42 690,20C691.67,19.58 693.33,19.25 695,19C696.67,18.75 698.33,18.58 700,18.5C701.67,18.42 703.33,18.45 705,18.5C706.67,18.55 708.33,18.63 710,18.8C711.67,18.97 713.33,18.88 715,19.5C716.67,20.12 718.5,21.08 720,22.5C721.5,23.92 722.83,25.92 724,28C725.17,30.08 726,33.25 727,35C728,36.75 728.83,39.67 730,38.5C731.17,37.33 732.75,30.33 734,28C735.25,25.67 736.17,25.08 737.5,24.5C738.83,23.92 740.58,25 742,24.5C743.42,24 744.75,22.08 746,21.5C747.25,20.92 748.42,20.5 749.5,21C750.58,21.5 751.58,22.83 752.5,24.5C753.42,26.17 754.22,28.42 755,31C755.78,33.58 756.76,38.2 757.2,40C757.46,39.18 757.99,37.37 758.5,35.9C759,34.43 759.54,32.81 760.22,31.18C760.91,29.54 761.81,27.51 762.6,26.09C763.39,24.68 764.29,23.48 764.98,22.69C765.66,21.9 766.2,21.62 766.7,21.34C767.21,21.06 767.67,21.01 768,21C768.33,20.99 768.4,21.05 768.66,21.3C768.92,21.55 769.19,21.8 769.54,22.51C769.89,23.22 770.35,24.29 770.75,25.56C771.15,26.82 771.61,28.64 771.96,30.11C772.31,31.57 772.58,33.02 772.84,34.33C773.1,35.65 773.37,37.27 773.5,38C773.67,37.25 774.01,35.58 774.34,34.23C774.67,32.87 775.02,31.38 775.46,29.87C775.9,28.37 776.49,26.49 777,25.19C777.51,23.89 778.1,22.79 778.54,22.06C778.98,21.33 779.33,21.07 779.66,20.81C779.99,20.55 780.26,20.5 780.5,20.5C780.74,20.5 780.87,20.55 781.1,20.81C781.33,21.07 781.58,21.33 781.9,22.06C782.22,22.79 782.63,23.89 783,25.19C783.37,26.49 783.78,28.37 784.1,29.87C784.42,31.38 784.67,32.87 784.9,34.23C785.13,35.58 785.38,37.25 785.5,38C785.62,37.27 785.87,35.65 786.1,34.33C786.33,33.02 786.58,31.57 786.9,30.11C787.22,28.64 787.63,26.82 788,25.56C788.37,24.29 788.78,23.22 789.1,22.51C789.42,21.8 789.67,21.55 789.9,21.3C790.13,21.05 790.32,21.01 790.5,21C790.68,20.99 790.79,21.04 790.98,21.27C791.17,21.49 791.37,21.71 791.62,22.34C791.87,22.96 792.21,23.9 792.5,25.02C792.79,26.14 793.13,27.74 793.38,29.04C793.63,30.33 793.83,31.6 794.02,32.77C794.21,33.93 794.4,35.35 794.5,36C794.6,35.34 794.79,33.9 794.98,32.72C795.17,31.55 795.37,30.25 795.62,28.94C795.87,27.63 796.21,26 796.5,24.87C796.79,23.74 797.13,22.79 797.38,22.15C797.63,21.52 797.83,21.3 798.02,21.07C798.21,20.84 798.35,20.8 798.5,20.8C798.65,20.8 798.74,20.84 798.9,21.07C799.05,21.3 799.21,21.52 799.42,22.15C799.63,22.79 799.91,23.74 800.15,24.87C800.39,26 800.67,27.63 800.88,28.94C801.09,30.25 801.25,31.55 801.4,32.72C801.56,33.9 801.72,35.34 801.8,36C801.86,35.39 802,34.04 802.12,32.94C802.25,31.84 802.38,30.63 802.56,29.41C802.73,28.18 802.95,26.66 803.15,25.6C803.35,24.55 803.57,23.66 803.74,23.06C803.92,22.47 804.05,22.26 804.18,22.05C804.3,21.84 804.39,21.83 804.5,21.8C804.61,21.77 804.72,21.82 804.86,21.89C805,21.97 805.15,22.05 805.34,22.26C805.53,22.48 805.78,22.81 806,23.19C806.22,23.58 806.47,24.14 806.66,24.59C806.85,25.03 807,25.48 807.14,25.88C807.28,26.28 807.43,26.78 807.5,27C807.55,26.78 807.65,26.31 807.74,25.92C807.83,25.53 807.93,25.11 808.06,24.68C808.19,24.25 808.35,23.71 808.5,23.34C808.65,22.97 808.81,22.65 808.94,22.45C809.07,22.24 809.17,22.16 809.26,22.09C809.35,22.01 808.04,21.51 809.5,22C810.96,22.49 816.58,24.5 818,25L820,220Z" fill="#b3b3b3"/>
<path d="M558,213C558.67,211.93 560.73,208.77 562,206.6C563.27,204.43 565.27,202.1 565.6,200C565.93,197.9 565.27,195.67 564,194C562.73,192.33 560.33,191.83 558,190C555.67,188.17 552.67,185.5 550,183C547.33,180.5 544.5,178 542,175C539.5,172 536.67,168.33 535,165C533.33,161.67 532.33,158.33 532,155C531.67,151.67 532.17,148.17 533,145C533.83,141.83 535.17,138.67 537,136C538.83,133.33 541.5,130.83 544,129C546.5,127.17 549.33,126 552,125C554.67,124 557.33,124 560,123C562.67,122 565.83,121 568,119C570.17,117 571.5,114 573,111C574.5,108 575.67,104.33 577,101C578.33,97.67 579.5,93.83 581,91C582.5,88.17 584.17,86.5 586,84C587.83,81.5 590,78.83 592,76C594,73.17 596,69.67 598,67C600,64.33 602.33,61.33 604,60C605.67,58.67 606.33,58.5 608,59C609.67,59.5 612.17,61.83 614,63C615.83,64.17 617.33,66 619,66C620.67,66 622.17,65.17 624,63C625.83,60.83 628,56.17 630,53C632,49.83 633.67,46.33 636,44C638.33,41.67 640,40.42 644,39C648,37.58 656.5,36.25 660,35.5C663.5,34.75 663.33,35 665,34.5C666.67,34 668.33,33.42 670,32.5C671.67,31.58 673.33,30.08 675,29C676.67,27.92 678.33,26.92 680,26C681.67,25.08 683.33,24.2 685,23.5C686.67,22.8 688.33,22.3 690,21.8C691.67,21.3 693.33,20.83 695,20.5C696.67,20.17 698.33,19.92 700,19.8C701.67,19.68 703.33,19.73 705,19.8C706.67,19.87 708.33,20 710,20.2C711.67,20.4 713.33,20.28 715,21C716.67,21.72 718.5,22.83 720,24.5C721.5,26.17 722.83,28.58 724,31C725.17,33.42 726,37.08 727,39C728,40.92 728.83,43.83 730,42.5C731.17,41.17 732.75,33.58 734,31C735.25,28.42 736.17,27.75 737.5,27C738.83,26.25 740.58,27.17 742,26.5C743.42,25.83 744.75,23.72 746,23C747.25,22.28 748.42,21.7 749.5,22.2C750.58,22.7 751.58,24.2 752.5,26C753.42,27.8 754.22,29.92 755,33C755.78,36.08 756.76,42.2 757.2,44.5C757.46,43.46 757.99,41.15 758.5,39.32C759,37.49 759.54,35.48 760.22,33.54C760.91,31.59 761.81,29.22 762.6,27.63C763.39,26.05 764.29,24.83 764.98,24.02C765.66,23.21 766.2,23.01 766.7,22.76C767.21,22.5 767.67,22.5 768,22.5C768.33,22.5 768.4,22.5 768.66,22.74C768.92,22.99 769.19,23.17 769.54,23.95C769.89,24.73 770.35,25.88 770.75,27.4C771.15,28.91 771.61,31.18 771.96,33.03C772.31,34.89 772.58,36.81 772.84,38.56C773.1,40.3 773.37,42.51 773.5,43.5C773.67,42.49 774.01,40.22 774.34,38.44C774.67,36.65 775.02,34.69 775.46,32.79C775.9,30.88 776.49,28.57 777,27.02C777.51,25.46 778.1,24.28 778.54,23.48C778.98,22.69 779.33,22.5 779.66,22.25C779.99,22 780.26,22 780.5,22C780.74,22 780.87,22 781.1,22.23C781.33,22.46 781.58,22.64 781.9,23.38C782.22,24.12 782.63,25.22 783,26.67C783.37,28.11 783.78,30.26 784.1,32.03C784.42,33.8 784.67,35.63 784.9,37.29C785.13,38.95 785.38,41.06 785.5,42C785.62,41.07 785.87,38.98 786.1,37.34C786.33,35.69 786.58,33.89 786.9,32.13C787.22,30.38 787.63,28.25 788,26.82C788.37,25.39 788.78,24.3 789.1,23.57C789.42,22.84 789.67,22.66 789.9,22.43C790.13,22.2 790.32,22.2 790.5,22.2C790.68,22.2 790.79,22.2 790.98,22.42C791.17,22.64 791.37,22.8 791.62,23.5C791.87,24.19 792.21,25.23 792.5,26.59C792.79,27.94 793.13,29.97 793.38,31.63C793.63,33.3 793.83,35.01 794.02,36.57C794.21,38.14 794.4,40.11 794.5,41C794.6,40.11 794.79,38.1 794.98,36.53C795.17,34.95 795.37,33.21 795.62,31.53C795.87,29.85 796.21,27.8 796.5,26.43C796.79,25.06 797.13,24.01 797.38,23.31C797.63,22.61 797.83,22.44 798.02,22.22C798.21,22 798.35,22 798.5,22C798.65,22 798.74,22 798.9,22.22C799.05,22.44 799.21,22.61 799.42,23.31C799.63,24.01 799.91,25.06 800.15,26.43C800.39,27.8 800.67,29.85 800.88,31.53C801.09,33.21 801.25,34.95 801.4,36.53C801.56,38.1 801.72,40.11 801.8,41C801.86,40.14 802,38.23 802.12,36.72C802.25,35.2 802.38,33.54 802.56,31.93C802.73,30.32 802.95,28.36 803.15,27.05C803.35,25.73 803.57,24.73 803.74,24.06C803.92,23.38 804.05,23.22 804.18,23.01C804.3,22.8 804.39,22.83 804.5,22.8C804.61,22.77 804.72,22.8 804.86,22.86C805,22.92 805.15,22.97 805.34,23.16C805.53,23.35 805.78,23.64 806,24.01C806.22,24.39 806.47,24.95 806.66,25.41C806.85,25.87 807,26.34 807.14,26.78C807.28,27.21 807.43,27.76 807.5,28C807.55,27.76 807.65,27.24 807.74,26.82C807.83,26.41 807.93,25.95 808.06,25.51C808.19,25.07 808.35,24.53 808.5,24.17C808.65,23.81 808.81,23.53 808.94,23.35C809.07,23.16 809.17,23.12 809.26,23.06C809.35,23 808.04,22.51 809.5,23C810.96,23.49 816.58,25.5 818,26L820,220Z" fill="#ffffff"/>
<polygon points="262.7,20.5 264.3,24.42 269.17,24.51 265.29,27.02 266.7,30.99 262.7,28.62 258.7,30.99 260.11,27.02 256.23,24.51 261.1,24.42" fill="#000"/>
<path d="M262.55,9.8V207.4M445.1,9.8V207.4M627.65,9.8V207.4M80,108.6H810.2" stroke="#7a7a7a" stroke-width="1" fill="none"/>
</g>
<path d="M80,9.8v16.5M80,207.4v-16.5M171.28,9.8v16.5M171.28,207.4v-16.5M262.55,9.8v16.5M262.55,207.4v-16.5M353.83,9.8v16.5M353.83,207.4v-16.5M445.1,9.8v16.5M445.1,207.4v-16.5M536.38,9.8v16.5M536.38,207.4v-16.5M627.65,9.8v16.5M627.65,207.4v-16.5M718.93,9.8v16.5M718.93,207.4v-16.5M810.2,9.8v16.5M810.2,207.4v-16.5M84.18,9.8v8.5M84.18,207.4v-8.5M88.85,9.8v8.5M88.85,207.4v-8.5M94.14,9.8v8.5M94.14,207.4v-8.5M100.25,9.8v8.5M100.25,207.4v-8.5M107.48,9.8v8.5M107.48,207.4v-8.5M116.32,9.8v8.5M116.32,207.4v-8.5M127.73,9.8v8.5M127.73,207.4v-8.5M143.8,9.8v8.5M143.8,207.4v-8.5M175.45,9.8v8.5M175.45,207.4v-8.5M180.12,9.8v8.5M180.12,207.4v-8.5M185.41,9.8v8.5M185.41,207.4v-8.5M191.52,9.8v8.5M191.52,207.4v-8.5M198.75,9.8v8.5M198.75,207.4v-8.5M207.6,9.8v8.5M207.6,207.4v-8.5M219,9.8v8.5M219,207.4v-8.5M235.07,9.8v8.5M235.07,207.4v-8.5M266.73,9.8v8.5M266.73,207.4v-8.5M271.4,9.8v8.5M271.4,207.4v-8.5M276.69,9.8v8.5M276.69,207.4v-8.5M282.8,9.8v8.5M282.8,207.4v-8.5M290.03,9.8v8.5M290.03,207.4v-8.5M298.87,9.8v8.5M298.87,207.4v-8.5M310.28,9.8v8.5M310.28,207.4v-8.5M326.35,9.8v8.5M326.35,207.4v-8.5M357.58,9.8v8.5M357.58,207.4v-8.5M362.28,9.8v8.5M362.28,207.4v-8.5M367.18,9.8v8.5M367.18,207.4v-8.5M373.08,9.8v8.5M373.08,207.4v-8.5M379.88,9.8v8.5M379.88,207.4v-8.5M388.08,9.8v8.5M388.08,207.4v-8.5M397.79,9.8v8.5M397.79,207.4v-8.5M410.39,9.8v8.5M410.39,207.4v-8.5M426.09,9.8v8.5M426.09,207.4v-8.5M464.11,9.8v8.5M464.11,207.4v-8.5M479.81,9.8v8.5M479.81,207.4v-8.5M492.41,9.8v8.5M492.41,207.4v-8.5M502.12,9.8v8.5M502.12,207.4v-8.5M510.32,9.8v8.5M510.32,207.4v-8.5M517.12,9.8v8.5M517.12,207.4v-8.5M523.02,9.8v8.5M523.02,207.4v-8.5M527.92,9.8v8.5M527.92,207.4v-8.5M532.62,9.8v8.5M532.62,207.4v-8.5M563.85,9.8v8.5M563.85,207.4v-8.5M579.92,9.8v8.5M579.92,207.4v-8.5M591.33,9.8v8.5M591.33,207.4v-8.5M600.17,9.8v8.5M600.17,207.4v-8.5M607.4,9.8v8.5M607.4,207.4v-8.5M613.51,9.8v8.5M613.51,207.4v-8.5M618.8,9.8v8.5M618.8,207.4v-8.5M623.47,9.8v8.5M623.47,207.4v-8.5M655.13,9.8v8.5M655.13,207.4v-8.5M671.2,9.8v8.5M671.2,207.4v-8.5M682.6,9.8v8.5M682.6,207.4v-8.5M691.45,9.8v8.5M691.45,207.4v-8.5M698.68,9.8v8.5M698.68,207.4v-8.5M704.79,9.8v8.5M704.79,207.4v-8.5M710.08,9.8v8.5M710.08,207.4v-8.5M714.75,9.8v8.5M714.75,207.4v-8.5M746.4,9.8v8.5M746.4,207.4v-8.5M762.47,9.8v8.5M762.47,207.4v-8.5M773.88,9.8v8.5M773.88,207.4v-8.5M782.72,9.8v8.5M782.72,207.4v-8.5M789.95,9.8v8.5M789.95,207.4v-8.5M796.06,9.8v8.5M796.06,207.4v-8.5M801.35,9.8v8.5M801.35,207.4v-8.5M806.02,9.8v8.5M806.02,207.4v-8.5M80,19.68h8.5M810.2,19.68h-8.5M80,29.56h8.5M810.2,29.56h-8.5M80,39.44h8.5M810.2,39.44h-8.5M80,49.32h8.5M810.2,49.32h-8.5M80,59.2h16.5M810.2,59.2h-16.5M80,69.08h8.5M810.2,69.08h-8.5M80,78.96h8.5M810.2,78.96h-8.5M80,88.84h8.5M810.2,88.84h-8.5M80,98.72h8.5M810.2,98.72h-8.5M80,108.6h16.5M810.2,108.6h-16.5M80,118.48h8.5M810.2,118.48h-8.5M80,128.36h8.5M810.2,128.36h-8.5M80,138.24h8.5M810.2,138.24h-8.5M80,148.12h8.5M810.2,148.12h-8.5M80,158h16.5M810.2,158h-16.5M80,167.88h8.5M810.2,167.88h-8.5M80,177.76h8.5M810.2,177.76h-8.5M80,187.64h8.5M810.2,187.64h-8.5M80,197.52h8.5M810.2,197.52h-8.5" stroke="#000" stroke-width="1.4" fill="none"/>
<rect x="80" y="9.8" width="730.2" height="197.6" fill="none" stroke="#000" stroke-width="1.5"/>
<g clip-path="url(#c1)">
<rect x="80" y="224.55" width="730.2" height="197.6" fill="#ffcce6"/>
<path d="M72,313.2C73.75,312.92 80.4,311.84 82.5,311.5C82.6,311.56 82.79,311.69 82.98,311.81C83.17,311.92 83.37,312.05 83.62,312.2C83.87,312.34 84.21,312.53 84.5,312.69C84.79,312.84 85.13,313 85.38,313.12C85.63,313.23 85.83,313.31 86.02,313.37C86.21,313.44 86.36,313.51 86.5,313.5C86.64,313.49 86.72,313.42 86.86,313.34C87,313.26 87.15,313.16 87.34,313.02C87.53,312.88 87.78,312.68 88,312.48C88.22,312.29 88.47,312.05 88.66,311.87C88.85,311.69 89,311.53 89.14,311.38C89.28,311.24 89.43,311.08 89.5,311C89.58,311.09 89.76,311.27 89.92,311.43C90.08,311.59 90.26,311.77 90.48,311.97C90.7,312.18 90.99,312.45 91.25,312.66C91.51,312.88 91.8,313.1 92.02,313.26C92.24,313.42 92.42,313.53 92.58,313.62C92.74,313.71 92.86,313.81 93,313.8C93.14,313.79 93.26,313.7 93.42,313.59C93.58,313.49 93.76,313.36 93.98,313.17C94.2,312.98 94.49,312.71 94.75,312.46C95.01,312.21 95.3,311.89 95.52,311.65C95.74,311.4 95.92,311.2 96.08,311.01C96.24,310.81 96.42,310.6 96.5,310.5C96.61,310.6 96.83,310.81 97.04,311.01C97.25,311.2 97.48,311.4 97.76,311.65C98.05,311.89 98.42,312.21 98.75,312.46C99.08,312.71 99.45,312.98 99.74,313.17C100.02,313.36 100.25,313.49 100.46,313.59C100.67,313.7 100.83,313.8 101,313.8C101.17,313.8 101.31,313.7 101.5,313.59C101.7,313.49 101.91,313.36 102.18,313.17C102.44,312.98 102.79,312.71 103.1,312.46C103.41,312.21 103.76,311.89 104.02,311.65C104.29,311.4 104.5,311.2 104.7,311.01C104.89,310.81 105.1,310.6 105.2,310.5C105.34,310.6 105.63,310.81 105.9,311.01C106.17,311.2 106.46,311.4 106.82,311.65C107.19,311.89 107.67,312.21 108.1,312.46C108.53,312.71 109.01,312.98 109.38,313.17C109.74,313.36 110.03,313.49 110.3,313.59C110.57,313.7 110.79,313.81 111,313.8C111.21,313.79 111.35,313.66 111.58,313.53C111.8,313.39 112.04,313.22 112.34,312.98C112.65,312.73 113.05,312.38 113.4,312.05C113.75,311.72 114.15,311.31 114.46,310.99C114.76,310.68 115,310.41 115.22,310.16C115.45,309.91 115.68,309.63 115.8,309.5C116.24,309.84 117.22,310.7 118,311.2C118.78,311.7 119.5,312.12 120.5,312.5C121.5,312.88 122.83,313.5 124,313.5C125.17,313.5 126.58,313 127.5,312.5C128.42,312 128.92,311.08 129.5,310.5C130.08,309.92 130.5,309 131,309C131.5,309 131.92,309.87 132.5,310.5C133.08,311.13 133.58,312.42 134.5,312.8C135.42,313.18 136.75,312.73 138,312.8C139.25,312.87 140.5,313.08 142,313.2C143.5,313.32 145.33,313.62 147,313.5C148.67,313.38 150.67,312.67 152,312.5C153.33,312.33 154.08,312.67 155,312.5C155.92,312.33 156.67,311.42 157.5,311.5C158.33,311.58 158.92,312.42 160,313C161.08,313.58 162.67,314.83 164,315C165.33,315.17 166.75,314.37 168,314C169.25,313.63 170.33,312.97 171.5,312.8C172.67,312.63 173.83,313.1 175,313C176.17,312.9 177.17,312.4 178.5,312.2C179.83,312 181.42,312.08 183,311.8C184.58,311.52 186.33,310.97 188,310.5C189.67,310.03 191.33,309.5 193,309C194.67,308.5 196.33,308.08 198,307.5C199.67,306.92 201.5,306.17 203,305.5C204.5,304.83 205.67,304.28 207,303.5C208.33,302.72 209.83,301.63 211,300.8C212.17,299.97 213,299.27 214,298.5C215,297.73 215.83,296.53 217,296.2C218.17,295.87 219.67,296.28 221,296.5C222.33,296.72 223.83,297 225,297.5C226.17,298 227,298.88 228,299.5C229,300.12 229.83,300.92 231,301.2C232.17,301.48 234.17,301.23 235,301.2C235.83,301.17 234.33,301.03 236,301C237.67,300.97 242.67,301.67 245,301C247.33,300.33 248.33,299 250,297C251.67,295 252.9,291.23 255,289C257.1,286.77 259.93,283.93 262.6,283.6C265.27,283.27 268.27,285.93 271,287C273.73,288.07 276.17,290 279,290C281.83,290 284.83,288.33 288,287C291.17,285.67 294.67,283 298,282C301.33,281 305,281.33 308,281C311,280.67 313.33,281 316,280C318.67,279 321.5,277.17 324,275C326.5,272.83 329,269.83 331,267C333,264.17 334.9,261.17 336,258C337.1,254.83 337.2,251 337.6,248C338,245 337.67,242.5 338.4,240C339.13,237.5 340.57,235.33 342,233C343.43,230.67 345.67,227.67 347,226C348.33,224.33 348.5,224.67 350,223C351.5,221.33 355,217.17 356,216L72,215Z" fill="#0000ff"/>
<path d="M72,311.5C73.75,310.75 80.4,307.9 82.5,307C82.6,307.16 82.79,307.5 82.98,307.81C83.17,308.12 83.37,308.46 83.62,308.85C83.87,309.25 84.21,309.77 84.5,310.19C84.79,310.61 85.13,311.06 85.38,311.38C85.63,311.7 85.83,311.92 86.02,312.11C86.21,312.3 86.36,312.48 86.5,312.5C86.64,312.52 86.72,312.37 86.86,312.25C87,312.13 87.15,311.99 87.34,311.79C87.53,311.58 87.78,311.3 88,311.03C88.22,310.76 88.47,310.43 88.66,310.18C88.85,309.93 89,309.71 89.14,309.52C89.28,309.32 89.43,309.1 89.5,309C89.58,309.1 89.76,309.32 89.92,309.52C90.08,309.71 90.26,309.93 90.48,310.18C90.7,310.43 90.99,310.76 91.25,311.03C91.51,311.3 91.8,311.58 92.02,311.79C92.24,311.99 92.42,312.13 92.58,312.25C92.74,312.37 92.86,312.51 93,312.5C93.14,312.49 93.26,312.35 93.42,312.22C93.58,312.08 93.76,311.92 93.98,311.69C94.2,311.45 94.49,311.12 94.75,310.82C95.01,310.51 95.3,310.13 95.52,309.85C95.74,309.56 95.92,309.32 96.08,309.09C96.24,308.87 96.42,308.62 96.5,308.5C96.61,308.62 96.83,308.87 97.04,309.09C97.25,309.32 97.48,309.56 97.76,309.85C98.05,310.13 98.42,310.51 98.75,310.82C99.08,311.12 99.45,311.45 99.74,311.69C100.02,311.92 100.25,312.08 100.46,312.22C100.67,312.35 100.83,312.5 101,312.5C101.17,312.5 101.31,312.35 101.5,312.22C101.7,312.08 101.91,311.92 102.18,311.69C102.44,311.45 102.79,311.12 103.1,310.82C103.41,310.51 103.76,310.13 104.02,309.85C104.29,309.56 104.5,309.32 104.7,309.09C104.89,308.87 105.1,308.62 105.2,308.5C105.34,308.62 105.63,308.87 105.9,309.09C106.17,309.32 106.46,309.56 106.82,309.85C107.19,310.13 107.67,310.51 108.1,310.82C108.53,311.12 109.01,311.45 109.38,311.69C109.74,311.92 110.03,312.08 110.3,312.22C110.57,312.35 110.79,312.51 111,312.5C111.21,312.49 111.35,312.32 111.58,312.15C111.8,311.98 112.04,311.77 112.34,311.48C112.65,311.19 113.05,310.78 113.4,310.4C113.75,310.01 114.15,309.54 114.46,309.18C114.76,308.82 115,308.52 115.22,308.24C115.45,307.96 115.68,307.65 115.8,307.5C116.24,307.9 117.22,309.08 118,309.5C118.78,309.92 119.5,309.55 120.5,310C121.5,310.45 122.83,312.03 124,312.2C125.17,312.37 126.58,311.45 127.5,311C128.42,310.55 128.92,310.08 129.5,309.5C130.08,308.92 130.5,307.58 131,307.5C131.5,307.42 131.92,308.33 132.5,309C133.08,309.67 133.58,311.17 134.5,311.5C135.42,311.83 136.75,311.05 138,311C139.25,310.95 140.5,311.12 142,311.2C143.5,311.28 145.33,311.62 147,311.5C148.67,311.38 150.67,310.83 152,310.5C153.33,310.17 154.08,309.75 155,309.5C155.92,309.25 156.67,308.75 157.5,309C158.33,309.25 158.92,310.33 160,311C161.08,311.67 162.67,312.92 164,313C165.33,313.08 166.75,311.92 168,311.5C169.25,311.08 170.33,310.58 171.5,310.5C172.67,310.42 173.83,311.17 175,311C176.17,310.83 177.17,309.83 178.5,309.5C179.83,309.17 181.42,309.33 183,309C184.58,308.67 186.33,307.97 188,307.5C189.67,307.03 191.33,306.65 193,306.2C194.67,305.75 196.33,305.37 198,304.8C199.67,304.23 201.5,303.52 203,302.8C204.5,302.08 205.67,301.38 207,300.5C208.33,299.62 209.83,298.5 211,297.5C212.17,296.5 213,295.25 214,294.5C215,293.75 215.83,293.33 217,293C218.17,292.67 219.67,292.5 221,292.5C222.33,292.5 223.83,292.75 225,293C226.17,293.25 227,293.58 228,294C229,294.42 229.83,295.17 231,295.5C232.17,295.83 234.17,296.08 235,296C235.83,295.92 234.5,295.17 236,295C237.5,294.83 241.83,295.67 244,295C246.17,294.33 247.17,293.17 249,291C250.83,288.83 252.73,283.9 255,282C257.27,280.1 259.93,279.77 262.6,279.6C265.27,279.43 268.27,280.33 271,281C273.73,281.67 276.17,283.6 279,283.6C281.83,283.6 284.83,282.1 288,281C291.17,279.9 294.67,278 298,277C301.33,276 305,276 308,275C311,274 313.5,272.67 316,271C318.5,269.33 321,267.17 323,265C325,262.83 326.67,260.5 328,258C329.33,255.5 330.33,252.67 331,250C331.67,247.33 331.33,244.5 332,242C332.67,239.5 333.67,237.17 335,235C336.33,232.83 338.33,231 340,229C341.67,227 343.17,225.17 345,223C346.83,220.83 350,217.17 351,216L72,215Z" fill="#ff00ff"/>
<path d="M72,308.5C73.75,307.92 80.4,305.7 82.5,305C82.6,305.21 82.79,305.64 82.98,306.03C83.17,306.42 83.37,306.84 83.62,307.33C83.87,307.81 84.21,308.45 84.5,308.95C84.79,309.45 85.13,309.97 85.38,310.33C85.63,310.7 85.83,310.93 86.02,311.13C86.21,311.32 86.36,311.49 86.5,311.5C86.64,311.51 86.72,311.36 86.86,311.21C87,311.06 87.15,310.88 87.34,310.6C87.53,310.32 87.78,309.92 88,309.54C88.22,309.15 88.47,308.67 88.66,308.29C88.85,307.92 89,307.59 89.14,307.29C89.28,306.99 89.43,306.66 89.5,306.5C89.58,306.66 89.76,306.99 89.92,307.29C90.08,307.59 90.26,307.92 90.48,308.29C90.7,308.67 90.99,309.15 91.25,309.54C91.51,309.92 91.8,310.32 92.02,310.6C92.24,310.88 92.42,311.06 92.58,311.21C92.74,311.36 92.86,311.51 93,311.5C93.14,311.49 93.26,311.32 93.42,311.13C93.58,310.93 93.76,310.7 93.98,310.33C94.2,309.97 94.49,309.45 94.75,308.95C95.01,308.45 95.3,307.81 95.52,307.33C95.74,306.84 95.92,306.42 96.08,306.03C96.24,305.64 96.42,305.21 96.5,305C96.61,305.2 96.83,305.61 97.04,305.98C97.25,306.35 97.48,306.76 97.76,307.22C98.05,307.69 98.42,308.29 98.75,308.77C99.08,309.25 99.45,309.74 99.74,310.09C100.02,310.43 100.25,310.66 100.46,310.85C100.67,311.03 100.83,311.2 101,311.2C101.17,311.2 101.31,311.04 101.5,310.87C101.7,310.7 101.91,310.5 102.18,310.18C102.44,309.86 102.79,309.4 103.1,308.96C103.41,308.52 103.76,307.97 104.02,307.54C104.29,307.12 104.5,306.74 104.7,306.4C104.89,306.06 105.1,305.68 105.2,305.5C105.34,305.67 105.63,306.02 105.9,306.34C106.17,306.66 106.46,307 106.82,307.4C107.19,307.8 107.67,308.31 108.1,308.72C108.53,309.13 109.01,309.55 109.38,309.85C109.74,310.15 110.03,310.34 110.3,310.5C110.57,310.66 110.79,310.81 111,310.8C111.21,310.79 111.35,310.61 111.58,310.41C111.8,310.21 112.04,309.96 112.34,309.58C112.65,309.2 113.05,308.66 113.4,308.13C113.75,307.61 114.15,306.94 114.46,306.44C114.76,305.93 115,305.48 115.22,305.08C115.45,304.67 115.68,304.22 115.8,304C116.24,304.56 117.22,306.22 118,306.8C118.78,307.38 119.5,306.88 120.5,307.5C121.5,308.12 122.83,310.42 124,310.5C125.17,310.58 126.58,308.92 127.5,308C128.42,307.08 128.92,305.92 129.5,305C130.08,304.08 130.5,302.5 131,302.5C131.5,302.5 131.92,303.92 132.5,305C133.08,306.08 133.58,308.58 134.5,309C135.42,309.42 136.75,307.53 138,307.5C139.25,307.47 140.5,308.47 142,308.8C143.5,309.13 145.33,309.88 147,309.5C148.67,309.12 150.67,307.5 152,306.5C153.33,305.5 154.08,304.25 155,303.5C155.92,302.75 156.67,301.58 157.5,302C158.33,302.42 158.92,304.75 160,306C161.08,307.25 162.67,309.25 164,309.5C165.33,309.75 166.75,308 168,307.5C169.25,307 170.33,306.5 171.5,306.5C172.67,306.5 173.83,307.58 175,307.5C176.17,307.42 177.17,306.33 178.5,306C179.83,305.67 181.42,305.75 183,305.5C184.58,305.25 186.33,304.88 188,304.5C189.67,304.12 191.33,303.62 193,303.2C194.67,302.78 196.33,302.53 198,302C199.67,301.47 201.5,300.75 203,300C204.5,299.25 205.67,298.58 207,297.5C208.33,296.42 209.83,294.92 211,293.5C212.17,292.08 213,290.25 214,289C215,287.75 215.83,286.53 217,286C218.17,285.47 219.67,285.83 221,285.8C222.33,285.77 223.83,285.68 225,285.8C226.17,285.92 227,286.3 228,286.5C229,286.7 229.83,286.95 231,287C232.17,287.05 234.17,286.8 235,286.8C235.83,286.8 234.5,287.3 236,287C237.5,286.7 241.67,286.17 244,285C246.33,283.83 248,281.5 250,280C252,278.5 253.9,277 256,276C258.1,275 259.93,274.5 262.6,274C265.27,273.5 268.77,273.4 272,273C275.23,272.6 278.67,272.43 282,271.6C285.33,270.77 288.67,269.1 292,268C295.33,266.9 298.83,266.17 302,265C305.17,263.83 308.33,262.67 311,261C313.67,259.33 316.17,257.5 318,255C319.83,252.5 321,248.83 322,246C323,243.17 322.83,240.67 324,238C325.17,235.33 327,232.5 329,230C331,227.5 333.83,225.33 336,223C338.17,220.67 341,217.17 342,216L72,215Z" fill="#b3b3b3"/>
<path d="M72,307.5C73.75,306.92 80.4,304.7 82.5,304C82.6,304.23 82.79,304.71 82.98,305.13C83.17,305.56 83.37,306.02 83.62,306.53C83.87,307.04 84.21,307.7 84.5,308.2C84.79,308.7 85.13,309.2 85.38,309.54C85.63,309.87 85.83,310.07 86.02,310.23C86.21,310.39 86.36,310.49 86.5,310.5C86.64,310.51 86.72,310.41 86.86,310.27C87,310.14 87.15,309.97 87.34,309.69C87.53,309.4 87.78,308.98 88,308.56C88.22,308.13 88.47,307.57 88.66,307.14C88.85,306.71 89,306.32 89.14,305.96C89.28,305.6 89.43,305.19 89.5,305C89.58,305.19 89.76,305.6 89.92,305.96C90.08,306.32 90.26,306.71 90.48,307.14C90.7,307.57 90.99,308.13 91.25,308.56C91.51,308.98 91.8,309.4 92.02,309.69C92.24,309.97 92.42,310.14 92.58,310.27C92.74,310.41 92.86,310.52 93,310.5C93.14,310.48 93.26,310.36 93.42,310.17C93.58,309.97 93.76,309.73 93.98,309.31C94.2,308.9 94.49,308.29 94.75,307.67C95.01,307.05 95.3,306.24 95.52,305.61C95.74,304.98 95.92,304.41 96.08,303.9C96.24,303.38 96.42,302.78 96.5,302.5C96.61,302.76 96.83,303.32 97.04,303.81C97.25,304.29 97.48,304.83 97.76,305.42C98.05,306.01 98.42,306.77 98.75,307.35C99.08,307.93 99.45,308.5 99.74,308.89C100.02,309.28 100.25,309.5 100.46,309.69C100.67,309.87 100.83,309.99 101,310C101.17,310.01 101.31,309.89 101.5,309.73C101.7,309.57 101.91,309.37 102.18,309.04C102.44,308.7 102.79,308.2 103.1,307.7C103.41,307.2 103.76,306.54 104.02,306.03C104.29,305.52 104.5,305.06 104.7,304.63C104.89,304.21 105.1,303.73 105.2,303.5C105.34,303.71 105.63,304.16 105.9,304.55C106.17,304.94 106.46,305.36 106.82,305.83C107.19,306.31 107.67,306.92 108.1,307.38C108.53,307.84 109.01,308.3 109.38,308.61C109.74,308.92 110.03,309.1 110.3,309.25C110.57,309.4 110.79,309.51 111,309.5C111.21,309.49 111.35,309.37 111.58,309.19C111.8,309 112.04,308.78 112.34,308.39C112.65,308 113.05,307.43 113.4,306.85C113.75,306.27 114.15,305.51 114.46,304.92C114.76,304.33 115,303.79 115.22,303.31C115.45,302.82 115.68,302.26 115.8,302C116.24,302.6 117.22,304.33 118,305C118.78,305.67 119.5,305.33 120.5,306C121.5,306.67 122.83,309 124,309C125.17,309 126.58,307.25 127.5,306C128.42,304.75 128.92,302.83 129.5,301.5C130.08,300.17 130.5,298 131,298C131.5,298 131.92,300 132.5,301.5C133.08,303 133.58,306.42 134.5,307C135.42,307.58 136.75,305 138,305C139.25,305 140.5,306.42 142,307C143.5,307.58 145.33,309 147,308.5C148.67,308 150.67,305.5 152,304C153.33,302.5 154.08,300.5 155,299.5C155.92,298.5 156.67,297.5 157.5,298C158.33,298.5 158.92,300.83 160,302.5C161.08,304.17 162.67,307.58 164,308C165.33,308.42 166.75,305.75 168,305C169.25,304.25 170.33,303.5 171.5,303.5C172.67,303.5 173.83,304.92 175,305C176.17,305.08 177.17,304.25 178.5,304C179.83,303.75 181.42,303.75 183,303.5C184.58,303.25 186.33,302.88 188,302.5C189.67,302.12 191.33,301.7 193,301.2C194.67,300.7 196.33,300.12 198,299.5C199.67,298.88 201.5,298.33 203,297.5C204.5,296.67 205.67,295.75 207,294.5C208.33,293.25 209.83,291.5 211,290C212.17,288.5 213,286.8 214,285.5C215,284.2 215.83,282.87 217,282.2C218.17,281.53 219.67,281.62 221,281.5C222.33,281.38 223.83,281.42 225,281.5C226.17,281.58 227,281.75 228,282C229,282.25 229.83,282.92 231,283C232.17,283.08 234.17,282.67 235,282.5C235.83,282.33 234.5,282.42 236,282C237.5,281.58 241.67,281 244,280C246.33,279 248,277.33 250,276C252,274.67 253.9,273 256,272C258.1,271 259.93,270.5 262.6,270C265.27,269.5 268.77,269.5 272,269C275.23,268.5 278.67,268 282,267C285.33,266 288.67,264.17 292,263C295.33,261.83 299,261.17 302,260C305,258.83 307.83,257.67 310,256C312.17,254.33 313.67,252.33 315,250C316.33,247.67 317,244.67 318,242C319,239.33 319.67,236.33 321,234C322.33,231.67 323.83,229.83 326,228C328.17,226.17 331.67,225 334,223C336.33,221 339,217.17 340,216L72,215Z" fill="#ffffff"/>
<path d="M72,324.5C73.55,324.38 79.58,323.71 81.3,323.8C83.02,323.89 82,324.62 82.29,325.01C82.58,325.41 82.81,325.93 83.02,326.18C83.22,326.42 83.34,326.5 83.5,326.5C83.66,326.5 83.78,326.42 83.98,326.18C84.19,325.93 84.16,325.41 84.71,325.01C85.26,324.62 86.7,323.7 87.3,323.8C87.9,323.9 88,325.01 88.29,325.6C88.58,326.19 88.81,326.95 89.02,327.32C89.22,327.69 89.34,327.8 89.5,327.8C89.66,327.8 89.78,327.69 89.98,327.32C90.19,326.95 90.12,326.19 90.71,325.6C91.3,325.01 92.81,323.8 93.5,323.8C94.19,323.8 94.46,325.01 94.85,325.6C95.24,326.19 95.56,326.95 95.84,327.32C96.12,327.69 96.28,327.8 96.5,327.8C96.72,327.8 96.88,327.69 97.16,327.32C97.44,326.95 97.43,326.19 98.15,325.6C98.87,325.01 100.64,323.79 101.5,323.8C102.36,323.81 102.78,325.07 103.3,325.69C103.82,326.31 104.25,327.11 104.62,327.5C104.99,327.88 105.21,328 105.5,328C105.79,328 106.01,327.88 106.38,327.5C106.75,327.11 106.71,326.31 107.7,325.69C108.69,325.07 111.14,323.79 112.3,323.8C113.46,323.81 113.96,325.13 114.64,325.78C115.32,326.43 115.88,327.27 116.36,327.67C116.83,328.08 117.12,328.2 117.5,328.2C117.88,328.2 118.17,328.08 118.64,327.67C119.12,327.27 119,326.43 120.36,325.78C121.72,325.13 125.19,323.8 126.8,323.8C128.41,323.8 129.1,325.13 130.04,325.78C130.98,326.43 131.76,327.27 132.42,327.67C133.08,328.08 133.47,328.2 134,328.2C134.53,328.2 134.92,328.08 135.58,327.67C136.24,327.27 136.89,326.43 137.96,325.78C139.03,325.13 140.33,324.13 142,323.8C143.67,323.47 145.83,323.52 148,323.8C150.17,324.08 153.17,324.88 155,325.5C156.83,326.12 157.67,327 159,327.5C160.33,328 161.67,328.5 163,328.5C164.33,328.5 165.67,327.92 167,327.5C168.33,327.08 169.67,326.45 171,326C172.33,325.55 173.33,325.1 175,324.8C176.67,324.5 178.5,324.33 181,324.2C183.5,324.07 186.83,323.95 190,324C193.17,324.05 197.17,324.25 200,324.5C202.83,324.75 205,325.08 207,325.5C209,325.92 210.33,326.5 212,327C213.67,327.5 215.5,328.33 217,328.5C218.5,328.67 219.67,328.33 221,328C222.33,327.67 223.67,327 225,326.5C226.33,326 227.5,325.28 229,325C230.5,324.72 232.83,324.7 234,324.8C235.17,324.9 234.33,325.47 236,325.6C237.67,325.73 241.67,325.37 244,325.6C246.33,325.83 248,326.33 250,327C252,327.67 253.9,329.1 256,329.6C258.1,330.1 259.93,330.27 262.6,330C265.27,329.73 268.77,328.4 272,328C275.23,327.6 278,327.6 282,327.6C286,327.6 291.33,328 296,328C300.67,328 305.33,327.53 310,327.6C314.67,327.67 319.67,328.07 324,328.4C328.33,328.73 332,329.12 336,329.6C340,330.08 344.37,330.7 348,331.3C351.63,331.9 354.28,332.08 357.8,333.2C361.32,334.32 366.84,337.04 369.1,338C369.02,340.08 368.93,345.1 368.7,348.4C368.47,351.7 368.25,354.65 367.7,357.8C367.15,360.95 366.58,363.83 365.4,367.3C364.22,370.77 362.33,375.15 360.6,378.6C358.87,382.05 356.88,384.85 355,388C353.12,391.15 350.88,394.33 349.3,397.5C347.72,400.67 346.22,404.17 345.5,407C344.78,409.83 344.6,412.07 345,414.5C345.4,416.93 346.73,419.02 347.9,421.6C349.07,424.18 351.32,428.6 352,430L72,440Z" fill="#0000ff"/>
<path d="M72,325.02C73.44,324.93 79.01,324.33 80.67,324.47C82.33,324.6 81.58,325.39 81.94,325.84C82.31,326.28 82.62,326.87 82.88,327.15C83.14,327.43 83.29,327.51 83.5,327.51C83.71,327.51 83.86,327.43 84.12,327.15C84.38,326.87 84.63,326.28 85.06,325.84C85.48,325.39 86.19,324.36 86.67,324.47C87.15,324.57 87.58,325.81 87.94,326.45C88.31,327.1 88.62,327.95 88.88,328.35C89.14,328.76 89.29,328.88 89.5,328.88C89.71,328.88 89.86,328.76 90.12,328.35C90.38,327.95 90.6,327.1 91.06,326.45C91.51,325.81 92.3,324.47 92.87,324.47C93.44,324.47 94.03,325.81 94.5,326.45C94.98,327.1 95.37,327.95 95.7,328.35C96.03,328.76 96.23,328.88 96.5,328.88C96.77,328.88 96.97,328.76 97.3,328.35C97.63,327.95 97.9,327.1 98.5,326.45C99.09,325.81 100.13,324.45 100.87,324.47C101.61,324.48 102.35,325.87 102.95,326.54C103.56,327.22 104.06,328.11 104.48,328.53C104.91,328.95 105.16,329.09 105.5,329.09C105.84,329.09 106.09,328.95 106.52,328.53C106.94,328.11 107.19,327.22 108.05,326.54C108.91,325.87 110.63,324.45 111.67,324.47C112.71,324.48 113.54,325.94 114.29,326.65C115.05,327.36 115.68,328.29 116.22,328.74C116.75,329.18 117.07,329.32 117.5,329.32C117.93,329.32 118.25,329.18 118.78,328.74C119.32,328.29 119.48,327.36 120.71,326.65C121.94,325.94 124.67,324.47 126.17,324.47C127.67,324.47 128.68,325.94 129.69,326.65C130.71,327.36 131.56,328.29 132.28,328.74C133,329.18 133.43,329.32 134,329.32C134.57,329.32 135,329.18 135.72,328.74C136.44,328.29 137.26,327.36 138.31,326.65C139.35,325.94 140.38,324.83 142,324.47C143.62,324.1 145.83,324.04 148,324.47C150.17,324.89 153.17,326.31 155,327.04C156.83,327.77 157.67,328.39 159,328.87C160.33,329.34 161.67,329.89 163,329.87C164.33,329.84 165.67,329.17 167,328.69C168.33,328.21 169.67,327.53 171,327.01C172.33,326.5 173.33,325.95 175,325.61C176.67,325.26 178.5,325.11 181,324.97C183.5,324.83 186.83,324.72 190,324.77C193.17,324.82 197.17,325.01 200,325.27C202.83,325.53 205,325.91 207,326.34C209,326.77 210.33,327.35 212,327.84C213.67,328.33 215.5,329.1 217,329.27C218.5,329.44 219.67,329.16 221,328.84C222.33,328.52 223.67,327.84 225,327.34C226.33,326.84 227.5,326.13 229,325.84C230.5,325.55 232.83,325.5 234,325.61C235.17,325.71 234.33,326.3 236,326.44C237.67,326.58 241.67,326.19 244,326.44C246.33,326.69 248,327.3 250,327.91C252,328.52 253.9,329.68 256,330.09C258.1,330.5 259.93,330.61 262.6,330.35C265.27,330.1 268.77,328.94 272,328.56C275.23,328.18 278,328.09 282,328.09C286,328.09 291.33,328.52 296,328.56C300.67,328.6 305.33,328.21 310,328.3C314.67,328.39 319.67,328.74 324,329.1C328.33,329.46 332,329.91 336,330.44C340,330.97 344.37,331.59 348,332.3C351.63,333.01 354.98,333.6 357.8,334.7C360.62,335.8 363.63,336.62 364.9,338.9C366.17,341.18 365.48,345.25 365.4,348.4C365.32,351.55 364.97,354.65 364.4,357.8C363.83,360.95 363.33,363.83 362,367.3C360.67,370.77 358.37,375.15 356.4,378.6C354.43,382.05 352.33,384.85 350.2,388C348.07,391.15 345.33,394.33 343.6,397.5C341.87,400.67 340.5,404.17 339.8,407C339.1,409.83 339,412.07 339.4,414.5C339.8,416.93 341.1,419.02 342.2,421.6C343.3,424.18 345.37,428.6 346,430L72,440Z" fill="#ff00ff"/>
<path d="M72,325.62C73.33,325.56 78.36,325.03 79.95,325.23C81.54,325.42 81.09,326.27 81.55,326.78C82.01,327.28 82.39,327.94 82.72,328.26C83.04,328.58 83.24,328.67 83.5,328.67C83.76,328.67 83.96,328.58 84.28,328.26C84.61,327.94 85.17,327.28 85.45,326.78C85.73,326.27 85.6,325.12 85.95,325.23C86.3,325.33 87.09,326.71 87.55,327.43C88.01,328.15 88.39,329.09 88.72,329.54C89.04,329.99 89.24,330.12 89.5,330.12C89.76,330.12 89.96,329.99 90.28,329.54C90.61,329.09 91.14,328.15 91.45,327.43C91.76,326.71 91.71,325.23 92.15,325.23C92.59,325.23 93.54,326.71 94.11,327.43C94.67,328.15 95.14,329.09 95.54,329.54C95.94,329.99 96.18,330.12 96.5,330.12C96.82,330.12 97.06,329.99 97.46,329.54C97.86,329.09 98.44,328.15 98.89,327.43C99.34,326.71 99.54,325.21 100.15,325.23C100.76,325.24 101.86,326.77 102.56,327.52C103.25,328.27 103.83,329.25 104.32,329.71C104.81,330.18 105.11,330.33 105.5,330.33C105.89,330.33 106.19,330.18 106.68,329.71C107.17,329.25 107.73,328.27 108.44,327.52C109.15,326.77 110.04,325.2 110.95,325.23C111.86,325.25 113.05,326.86 113.9,327.64C114.75,328.43 115.46,329.46 116.06,329.96C116.66,330.45 117.02,330.6 117.5,330.6C117.98,330.6 118.34,330.45 118.94,329.96C119.54,329.46 120.02,328.43 121.1,327.64C122.19,326.86 124.08,325.23 125.45,325.23C126.82,325.23 128.19,326.86 129.3,327.64C130.41,328.43 131.34,329.46 132.12,329.96C132.9,330.45 133.37,330.6 134,330.6C134.63,330.6 135.1,330.45 135.88,329.96C136.66,329.46 137.68,328.43 138.7,327.64C139.72,326.86 140.45,325.63 142,325.23C143.55,324.82 145.83,324.63 148,325.23C150.17,325.82 153.17,327.93 155,328.8C156.83,329.67 157.67,329.99 159,330.42C160.33,330.86 161.67,331.49 163,331.42C164.33,331.36 165.67,330.59 167,330.05C168.33,329.51 169.67,328.76 171,328.17C172.33,327.59 173.33,326.91 175,326.53C176.67,326.14 178.5,326 181,325.85C183.5,325.7 186.83,325.6 190,325.65C193.17,325.7 197.17,325.88 200,326.15C202.83,326.42 205,326.86 207,327.3C209,327.74 210.33,328.32 212,328.8C213.67,329.27 215.5,329.98 217,330.15C218.5,330.32 219.67,330.11 221,329.8C222.33,329.49 223.67,328.8 225,328.3C226.33,327.8 227.5,327.1 229,326.8C230.5,326.5 232.83,326.43 234,326.53C235.17,326.63 234.33,327.25 236,327.4C237.67,327.55 241.67,327.14 244,327.4C246.33,327.66 248,328.41 250,328.95C252,329.49 253.9,330.35 256,330.65C258.1,330.95 259.93,330.99 262.6,330.75C265.27,330.51 268.77,329.55 272,329.2C275.23,328.85 278,328.65 282,328.65C286,328.65 291.33,329.13 296,329.2C300.67,329.28 305.33,328.98 310,329.1C314.67,329.22 319.67,329.52 324,329.9C328.33,330.28 332.33,330.85 336,331.4C339.67,331.95 343.17,332.58 346,333.2C348.83,333.82 350.87,334.15 353,335.1C355.13,336.05 357.6,336.68 358.8,338.9C360,341.12 360.2,345.25 360.2,348.4C360.2,351.55 359.52,354.65 358.8,357.8C358.08,360.95 357.33,363.83 355.9,367.3C354.47,370.77 352.25,375.15 350.2,378.6C348.15,382.05 346.12,384.85 343.6,388C341.08,391.15 337.38,394.33 335.1,397.5C332.82,400.67 330.92,404.17 329.9,407C328.88,409.83 328.52,412.07 329,414.5C329.48,416.93 331.47,419.02 332.8,421.6C334.13,424.18 336.3,428.6 337,430L72,440Z" fill="#b3b3b3"/>
<path d="M72,326C73.25,325.95 77.95,325.47 79.5,325.7C81.05,325.93 80.78,326.82 81.3,327.37C81.82,327.91 82.25,328.62 82.62,328.96C82.99,329.3 83.21,329.4 83.5,329.4C83.79,329.4 84.01,329.3 84.38,328.96C84.75,328.62 85.51,327.91 85.7,327.37C85.89,326.82 85.23,325.59 85.5,325.7C85.77,325.81 86.78,327.28 87.3,328.04C87.82,328.8 88.25,329.8 88.62,330.28C88.99,330.75 89.21,330.9 89.5,330.9C89.79,330.9 90.01,330.75 90.38,330.28C90.75,329.8 91.48,328.8 91.7,328.04C91.92,327.28 91.34,325.7 91.7,325.7C92.06,325.7 93.24,327.28 93.86,328.04C94.48,328.8 95,329.8 95.44,330.28C95.88,330.75 96.15,330.9 96.5,330.9C96.85,330.9 97.12,330.75 97.56,330.28C98,329.8 98.78,328.8 99.14,328.04C99.5,327.28 99.17,325.69 99.7,325.7C100.23,325.71 101.56,327.34 102.31,328.13C103.06,328.92 103.69,329.96 104.22,330.45C104.76,330.95 105.07,331.1 105.5,331.1C105.93,331.1 106.24,330.95 106.78,330.45C107.31,329.96 108.07,328.92 108.69,328.13C109.31,327.34 109.67,325.68 110.5,325.7C111.33,325.72 112.74,327.43 113.65,328.26C114.56,329.1 115.32,330.19 115.96,330.72C116.6,331.24 116.99,331.4 117.5,331.4C118.01,331.4 118.4,331.24 119.04,330.72C119.68,330.19 120.36,329.1 121.35,328.26C122.34,327.43 123.72,325.7 125,325.7C126.28,325.7 127.88,327.43 129.05,328.26C130.22,329.1 131.2,330.19 132.02,330.72C132.84,331.24 133.34,331.4 134,331.4C134.66,331.4 135.16,331.24 135.98,330.72C136.8,330.19 137.95,329.1 138.95,328.26C139.95,327.43 140.49,326.13 142,325.7C143.51,325.27 145.83,325 148,325.7C150.17,326.4 153.17,328.95 155,329.9C156.83,330.85 157.67,330.98 159,331.4C160.33,331.82 161.67,332.48 163,332.4C164.33,332.32 165.67,331.48 167,330.9C168.33,330.32 169.67,329.53 171,328.9C172.33,328.27 173.33,327.52 175,327.1C176.67,326.68 178.5,326.55 181,326.4C183.5,326.25 186.83,326.15 190,326.2C193.17,326.25 197.17,326.42 200,326.7C202.83,326.98 205,327.45 207,327.9C209,328.35 210.33,328.93 212,329.4C213.67,329.87 215.5,330.53 217,330.7C218.5,330.87 219.67,330.7 221,330.4C222.33,330.1 223.67,329.4 225,328.9C226.33,328.4 227.5,327.7 229,327.4C230.5,327.1 232.83,327 234,327.1C235.17,327.2 234.33,327.85 236,328C237.67,328.15 241.67,327.73 244,328C246.33,328.27 248,329.1 250,329.6C252,330.1 253.9,330.77 256,331C258.1,331.23 259.93,331.23 262.6,331C265.27,330.77 268.77,329.93 272,329.6C275.23,329.27 278,329 282,329C286,329 291.33,329.5 296,329.6C300.67,329.7 305.33,329.47 310,329.6C314.67,329.73 319.67,330 324,330.4C328.33,330.8 332.67,331.47 336,332C339.33,332.53 341.63,333.08 344,333.6C346.37,334.12 348.13,334.22 350.2,335.1C352.27,335.98 355.05,336.68 356.4,338.9C357.75,341.12 358.22,345.25 358.3,348.4C358.38,351.55 357.68,354.65 356.9,357.8C356.12,360.95 355.18,363.83 353.6,367.3C352.02,370.77 349.62,375.15 347.4,378.6C345.18,382.05 343.05,384.85 340.3,388C337.55,391.15 333.42,394.33 330.9,397.5C328.38,400.67 326.38,404.17 325.2,407C324.02,409.83 323.48,412.07 323.8,414.5C324.12,416.93 325.9,419.02 327.1,421.6C328.3,424.18 330.35,428.6 331,430L72,440Z" fill="#ffffff"/>
<path d="M537,216C537.67,217 539.67,220.17 541,222C542.33,223.83 543.17,224.83 545,227C546.83,229.17 550.33,232.17 552,235C553.67,237.83 554.5,240.5 555,244C555.5,247.5 554.83,252.33 555,256C555.17,259.67 555.17,262.67 556,266C556.83,269.33 558.17,272.83 560,276C561.83,279.17 564.33,282.6 567,285C569.67,287.4 572.83,289.4 576,290.4C579.17,291.4 583,290.73 586,291C589,291.27 591.33,291 594,292C596.67,293 599.33,295.67 602,297C604.67,298.33 607.33,299.9 610,300C612.67,300.1 615.07,297.93 618,297.6C620.93,297.27 624.93,296.93 627.6,298C630.27,299.07 631.93,302.5 634,304C636.07,305.5 637.67,306.33 640,307C642.33,307.67 646.33,307.67 648,308C649.67,308.33 648.83,308.75 650,309C651.17,309.25 653.33,309.25 655,309.5C656.67,309.75 658.33,310.12 660,310.5C661.67,310.88 663.33,311.42 665,311.8C666.67,312.18 668.33,312.43 670,312.8C671.67,313.17 673.33,313.63 675,314C676.67,314.37 678.33,314.67 680,315C681.67,315.33 683.33,315.75 685,316C686.67,316.25 688.33,316.37 690,316.5C691.67,316.63 693.33,316.72 695,316.8C696.67,316.88 698.33,316.97 700,317C701.67,317.03 703.33,317.03 705,317C706.67,316.97 708.33,316.88 710,316.8C711.67,316.72 713.33,316.67 715,316.5C716.67,316.33 718.5,316.18 720,315.8C721.5,315.42 722.67,314.67 724,314.2C725.33,313.73 727,313.03 728,313C729,312.97 729,313.63 730,314C731,314.37 732.5,315.2 734,315.2C735.5,315.2 737.5,314.17 739,314C740.5,313.83 741.5,314.03 743,314.2C744.5,314.37 746.5,314.9 748,315C749.5,315.1 750.67,315.13 752,314.8C753.33,314.47 754.75,313 756,313C757.25,313 758.5,314.63 759.5,314.8C760.5,314.97 760.75,313.93 762,314C763.25,314.07 765.17,315.28 767,315.2C768.83,315.12 771.17,313.62 773,313.5C774.83,313.38 776.67,314.25 778,314.5C779.33,314.75 779.83,315.12 781,315C782.17,314.88 783.67,313.83 785,313.8C786.33,313.77 787.5,314.73 789,314.8C790.5,314.87 792.5,314.25 794,314.2C795.5,314.15 796.8,314.7 798,314.5C799.2,314.3 800.2,313.08 801.2,313C802.2,312.92 802.7,313.75 804,314C805.3,314.25 806.67,314.37 809,314.5C811.33,314.63 816.5,314.75 818,314.8L820,215Z" fill="#0000ff"/>
<path d="M543,216C543.83,217 546.17,220 548,222C549.83,224 552,225.67 554,228C556,230.33 558.83,233 560,236C561.17,239 560.83,242.33 561,246C561.17,249.67 560.67,254.33 561,258C561.33,261.67 561.83,264.83 563,268C564.17,271.17 565.83,274.5 568,277C570.17,279.5 573,281.77 576,283C579,284.23 583,283.73 586,284.4C589,285.07 591.33,285.73 594,287C596.67,288.27 599.33,290.67 602,292C604.67,293.33 607.33,294.93 610,295C612.67,295.07 615.07,292.73 618,292.4C620.93,292.07 624.93,291.9 627.6,293C630.27,294.1 631.93,297.33 634,299C636.07,300.67 637.67,302 640,303C642.33,304 646.33,304.5 648,305C649.67,305.5 648.83,305.67 650,306C651.17,306.33 653.33,306.67 655,307C656.67,307.33 658.33,307.58 660,308C661.67,308.42 663.33,309.08 665,309.5C666.67,309.92 668.33,310.08 670,310.5C671.67,310.92 673.33,311.55 675,312C676.67,312.45 678.33,312.78 680,313.2C681.67,313.62 683.33,314.17 685,314.5C686.67,314.83 688.33,315.03 690,315.2C691.67,315.37 693.33,315.4 695,315.5C696.67,315.6 698.33,315.75 700,315.8C701.67,315.85 703.33,315.85 705,315.8C706.67,315.75 708.33,315.6 710,315.5C711.67,315.4 713.33,315.37 715,315.2C716.67,315.03 718.5,314.87 720,314.5C721.5,314.13 722.67,313.45 724,313C725.33,312.55 727,311.88 728,311.8C729,311.72 729,312.13 730,312.5C731,312.87 732.5,314 734,314C735.5,314 737.5,312.7 739,312.5C740.5,312.3 741.5,312.58 743,312.8C744.5,313.02 746.5,313.68 748,313.8C749.5,313.92 750.67,313.88 752,313.5C753.33,313.12 754.75,311.5 756,311.5C757.25,311.5 758.5,313.33 759.5,313.5C760.5,313.67 760.75,312.42 762,312.5C763.25,312.58 765.17,314.08 767,314C768.83,313.92 771.17,312.13 773,312C774.83,311.87 776.67,312.9 778,313.2C779.33,313.5 779.83,313.97 781,313.8C782.17,313.63 783.67,312.25 785,312.2C786.33,312.15 787.5,313.4 789,313.5C790.5,313.6 792.5,312.85 794,312.8C795.5,312.75 796.8,313.42 798,313.2C799.2,312.98 800.2,311.57 801.2,311.5C802.2,311.43 802.7,312.55 804,312.8C805.3,313.05 806.67,312.93 809,313C811.33,313.07 816.5,313.17 818,313.2L820,215Z" fill="#ff00ff"/>
<path d="M552,216C552.83,217 555.17,219.83 557,222C558.83,224.17 561,226.67 563,229C565,231.33 567.5,233.5 569,236C570.5,238.5 571.43,240.67 572,244C572.57,247.33 571.9,252.67 572.4,256C572.9,259.33 573.57,261.83 575,264C576.43,266.17 578.5,267.67 581,269C583.5,270.33 587.17,270.67 590,272C592.83,273.33 595.33,275.17 598,277C600.67,278.83 603.67,281.83 606,283C608.33,284.17 609.83,284.5 612,284C614.17,283.5 616.4,280 619,280C621.6,280 625.1,282 627.6,284C630.1,286 631.6,289.67 634,292C636.4,294.33 639.33,296.67 642,298C644.67,299.33 647.83,299.5 650,300C652.17,300.5 653.33,300.67 655,301C656.67,301.33 658.33,301.58 660,302C661.67,302.42 663.33,302.92 665,303.5C666.67,304.08 668.33,304.83 670,305.5C671.67,306.17 673.33,306.78 675,307.5C676.67,308.22 678.33,309.13 680,309.8C681.67,310.47 683.33,311 685,311.5C686.67,312 688.33,312.47 690,312.8C691.67,313.13 693.33,313.3 695,313.5C696.67,313.7 698.33,313.88 700,314C701.67,314.12 703.33,314.17 705,314.2C706.67,314.23 708.33,314.23 710,314.2C711.67,314.17 713.33,314.17 715,314C716.67,313.83 718.5,313.7 720,313.2C721.5,312.7 722.67,311.7 724,311C725.33,310.3 727,309.17 728,309C729,308.83 729,309.5 730,310C731,310.5 732.5,312.08 734,312C735.5,311.92 737.5,309.83 739,309.5C740.5,309.17 741.5,309.58 743,310C744.5,310.42 746.5,311.8 748,312C749.5,312.2 750.67,311.87 752,311.2C753.33,310.53 754.75,308.03 756,308C757.25,307.97 758.5,310.75 759.5,311C760.5,311.25 760.75,309.33 762,309.5C763.25,309.67 765.17,312.17 767,312C768.83,311.83 771.17,308.7 773,308.5C774.83,308.3 776.67,310.22 778,310.8C779.33,311.38 779.83,312.3 781,312C782.17,311.7 783.67,309.08 785,309C786.33,308.92 787.5,311.3 789,311.5C790.5,311.7 792.5,310.28 794,310.2C795.5,310.12 796.8,311.28 798,311C799.2,310.72 800.2,308.58 801.2,308.5C802.2,308.42 802.7,310.12 804,310.5C805.3,310.88 806.67,310.72 809,310.8C811.33,310.88 816.5,310.97 818,311L820,215Z" fill="#b3b3b3"/>
<path d="M554,216C554.83,217 556.67,219.67 559,222C561.33,224.33 565.5,227.5 568,230C570.5,232.5 572,234.33 574,237C576,239.67 578,243.17 580,246C582,248.83 584,251.33 586,254C588,256.67 589.83,259.33 592,262C594.17,264.67 596.67,267.67 599,270C601.33,272.33 604.17,274.93 606,276C607.83,277.07 608.5,276.9 610,276.4C611.5,275.9 613.33,273.8 615,273C616.67,272.2 617.9,270.77 620,271.6C622.1,272.43 625.27,275.27 627.6,278C629.93,280.73 631.6,285.27 634,288C636.4,290.73 639.33,293.15 642,294.4C644.67,295.65 647.83,295.15 650,295.5C652.17,295.85 653.33,296.08 655,296.5C656.67,296.92 658.33,297.42 660,298C661.67,298.58 663.33,299.25 665,300C666.67,300.75 668.33,301.67 670,302.5C671.67,303.33 673.33,304.17 675,305C676.67,305.83 678.33,306.75 680,307.5C681.67,308.25 683.33,308.92 685,309.5C686.67,310.08 688.33,310.58 690,311C691.67,311.42 693.33,311.7 695,312C696.67,312.3 698.33,312.6 700,312.8C701.67,313 703.33,313.13 705,313.2C706.67,313.27 708.33,313.27 710,313.2C711.67,313.13 713.33,313 715,312.8C716.67,312.6 718.5,312.55 720,312C721.5,311.45 722.67,310.3 724,309.5C725.33,308.7 727,307.37 728,307.2C729,307.03 729,307.87 730,308.5C731,309.13 732.5,311.08 734,311C735.5,310.92 737.5,308.42 739,308C740.5,307.58 741.5,308 743,308.5C744.5,309 746.5,310.75 748,311C749.5,311.25 750.67,310.8 752,310C753.33,309.2 754.75,306.28 756,306.2C757.25,306.12 758.5,309.2 759.5,309.5C760.5,309.8 760.75,307.75 762,308C763.25,308.25 765.17,311.17 767,311C768.83,310.83 771.17,307.25 773,307C774.83,306.75 776.67,308.83 778,309.5C779.33,310.17 779.83,311.33 781,311C782.17,310.67 783.67,307.58 785,307.5C786.33,307.42 787.5,310.25 789,310.5C790.5,310.75 792.5,309.08 794,309C795.5,308.92 796.8,310.33 798,310C799.2,309.67 800.2,307.08 801.2,307C802.2,306.92 802.7,309.08 804,309.5C805.3,309.92 806.67,309.45 809,309.5C811.33,309.55 816.5,309.75 818,309.8L820,215Z" fill="#ffffff"/>
<path d="M538,430C538.68,428.6 540.87,424.18 542.1,421.6C543.33,419.02 544.92,416.93 545.4,414.5C545.88,412.07 545.62,409.83 545,407C544.38,404.17 543.2,400.67 541.7,397.5C540.2,394.33 537.9,391.15 536,388C534.1,384.85 532.03,382.05 530.3,378.6C528.57,375.15 526.78,370.77 525.6,367.3C524.42,363.83 523.75,360.95 523.2,357.8C522.65,354.65 522.62,351.63 522.3,348.4C521.98,345.17 521.5,340.4 521.3,338.4C522.44,337.64 524.15,335.78 527,334.6C529.85,333.42 534.15,332.23 538.4,331.3C542.65,330.37 548.23,329.62 552.5,329C556.77,328.38 559.42,328 564,327.6C568.58,327.2 574.67,326.8 580,326.6C585.33,326.4 591,326.33 596,326.4C601,326.47 606.33,326.8 610,327C613.67,327.2 615.67,327.27 618,327.6C620.33,327.93 622,328.7 624,329C626,329.3 628,329.57 630,329.4C632,329.23 634,328.63 636,328C638,327.37 639.67,326.18 642,325.6C644.33,325.02 647.83,324.63 650,324.5C652.17,324.37 653.33,324.68 655,324.8C656.67,324.92 658.5,324.92 660,325.2C661.5,325.48 662.33,326.12 664,326.5C665.67,326.88 668.33,327.42 670,327.5C671.67,327.58 672.83,327.28 674,327C675.17,326.72 676,326.17 677,325.8C678,325.43 678.67,325.02 680,324.8C681.33,324.58 682.5,324.6 685,324.5C687.5,324.4 691.67,324.28 695,324.2C698.33,324.12 701.67,324 705,324C708.33,324 712.5,324.03 715,324.2C717.5,324.37 718.5,324.53 720,325C721.5,325.47 722.67,326.42 724,327C725.33,327.58 727,328.13 728,328.5C729,328.87 729,329.12 730,329.2C731,329.28 732.67,329.45 734,329C735.33,328.55 736.67,327.25 738,326.5C739.33,325.75 740.5,324.92 742,324.5C743.5,324.08 745.5,324 747,324C748.5,324 749.67,324 751,324.5C752.33,325 753.67,326.28 755,327C756.33,327.72 757.67,328.88 759,328.8C760.33,328.72 761.67,327.22 763,326.5C764.33,325.78 765.83,324.75 767,324.5C768.17,324.25 768.83,324.33 770,325C771.17,325.67 772.67,328.42 774,328.5C775.33,328.58 776.92,326.22 778,325.5C779.08,324.78 779.25,323.78 780.5,324.2C781.75,324.62 784.5,327.24 785.5,328C786.4,327.3 788.5,324.5 790,324.5C791.5,324.5 793.6,327.3 794.5,328C795.2,327.3 796.83,324.58 798,324.5C799.17,324.42 800.8,326.9 801.5,327.5C802.1,326.9 803.42,324.5 804.5,324.5C805.58,324.5 807.3,326.9 808,327.5C808.4,327 808.33,325.25 810,325C811.67,324.75 816.67,325.83 818,326L820,440Z" fill="#0000ff"/>
<path d="M544,430C544.63,428.6 546.62,424.18 547.8,421.6C548.98,419.02 550.63,416.93 551.1,414.5C551.57,412.07 551.3,409.83 550.6,407C549.9,404.17 548.55,400.67 546.9,397.5C545.25,394.33 542.75,391.15 540.7,388C538.65,384.85 536.48,382.05 534.6,378.6C532.72,375.15 530.67,370.77 529.4,367.3C528.13,363.83 527.63,360.95 527,357.8C526.37,354.65 525.98,351.4 525.6,348.4C525.22,345.4 524.15,341.87 524.7,339.8C525.25,337.73 526.62,337.17 528.9,336C531.18,334.83 534.47,333.83 538.4,332.8C542.33,331.77 548.23,330.5 552.5,329.8C556.77,329.1 559.42,328.96 564,328.58C568.58,328.2 574.67,327.75 580,327.51C585.33,327.27 591,327.14 596,327.17C601,327.2 606.33,327.51 610,327.7C613.67,327.89 615.67,328 618,328.3C620.33,328.6 622,329.24 624,329.49C626,329.74 628,330 630,329.82C632,329.64 634,329.03 636,328.42C638,327.81 639.67,326.62 642,326.16C644.33,325.7 647.83,325.7 650,325.66C652.17,325.62 653.33,325.8 655,325.92C656.67,326.04 658.5,326.11 660,326.39C661.5,326.67 662.33,327.25 664,327.59C665.67,327.92 668.33,328.31 670,328.38C671.67,328.44 672.83,328.25 674,327.98C675.17,327.71 676,327.18 677,326.78C678,326.38 678.67,325.85 680,325.57C681.33,325.29 682.5,325.25 685,325.13C687.5,325.01 691.67,324.91 695,324.83C698.33,324.75 701.67,324.63 705,324.63C708.33,324.63 712.5,324.63 715,324.83C717.5,325.03 718.5,325.31 720,325.81C721.5,326.3 722.67,327.23 724,327.81C725.33,328.38 727,328.89 728,329.24C729,329.58 729,329.82 730,329.9C731,329.98 732.67,330.14 734,329.7C735.33,329.26 736.67,328.02 738,327.27C739.33,326.52 740.5,325.65 742,325.2C743.5,324.75 745.5,324.61 747,324.59C748.5,324.58 749.67,324.57 751,325.09C752.33,325.62 753.67,327.01 755,327.77C756.33,328.53 757.67,329.72 759,329.64C760.33,329.56 761.67,328.03 763,327.27C764.33,326.51 765.83,325.36 767,325.09C768.17,324.83 768.83,324.96 770,325.66C771.17,326.37 772.67,329.25 774,329.34C775.33,329.43 776.92,326.96 778,326.2C779.08,325.44 779.25,324.35 780.5,324.79C781.75,325.24 784.5,328.06 785.5,328.88C786.4,328.12 788.5,325.09 790,325.09C791.5,325.09 793.6,328.12 794.5,328.88C795.2,328.12 796.83,325.18 798,325.09C799.17,325.01 800.8,327.69 801.5,328.34C802.1,327.69 803.42,325.11 804.5,325.09C805.58,325.08 807.3,327.63 808,328.27C808.4,327.73 808.33,325.87 810,325.59C811.67,325.32 816.67,326.43 818,326.59L820,440Z" fill="#ff00ff"/>
<path d="M553,430C553.72,428.6 555.97,424.18 557.3,421.6C558.63,419.02 560.53,416.93 561,414.5C561.47,412.07 561.03,409.83 560.1,407C559.17,404.17 557.45,400.67 555.4,397.5C553.35,394.33 550.33,391.15 547.8,388C545.27,384.85 542.33,382.05 540.2,378.6C538.07,375.15 536.33,370.77 535,367.3C533.67,363.83 532.9,360.95 532.2,357.8C531.5,354.65 531.12,351.32 530.8,348.4C530.48,345.48 529.98,342.2 530.3,340.3C530.62,338.4 531.35,338.02 532.7,337C534.05,335.98 535.1,335.27 538.4,334.2C541.7,333.13 548.23,331.35 552.5,330.6C556.77,329.85 559.42,330.04 564,329.7C568.58,329.36 574.67,328.82 580,328.55C585.33,328.28 591,328.06 596,328.05C601,328.04 606.33,328.32 610,328.5C613.67,328.68 615.67,328.84 618,329.1C620.33,329.36 622,329.85 624,330.05C626,330.25 628,330.49 630,330.3C632,330.11 634,329.48 636,328.9C638,328.32 639.67,327.12 642,326.8C644.33,326.48 647.83,326.91 650,326.98C652.17,327.04 653.33,327.07 655,327.2C656.67,327.33 658.5,327.48 660,327.75C661.5,328.02 662.33,328.55 664,328.83C665.67,329.1 668.33,329.33 670,329.38C671.67,329.42 672.83,329.35 674,329.1C675.17,328.85 676,328.34 677,327.9C678,327.46 678.67,326.79 680,326.45C681.33,326.11 682.5,326 685,325.85C687.5,325.7 691.67,325.63 695,325.55C698.33,325.47 701.67,325.35 705,325.35C708.33,325.35 712.5,325.32 715,325.55C717.5,325.78 718.5,326.2 720,326.73C721.5,327.25 722.67,328.17 724,328.73C725.33,329.28 727,329.75 728,330.08C729,330.4 729,330.63 730,330.7C731,330.77 732.67,330.93 734,330.5C735.33,330.07 736.67,328.9 738,328.15C739.33,327.4 740.5,326.48 742,326C743.5,325.52 745.5,325.31 747,325.27C748.5,325.24 749.67,325.21 751,325.77C752.33,326.34 753.67,327.85 755,328.65C756.33,329.45 757.67,330.68 759,330.6C760.33,330.52 761.67,328.95 763,328.15C764.33,327.35 765.83,326.06 767,325.77C768.17,325.49 768.83,325.67 770,326.42C771.17,327.18 772.67,330.2 774,330.3C775.33,330.4 776.92,327.8 778,327C779.08,326.2 779.25,325 780.5,325.47C781.75,325.95 784.5,329 785.5,329.88C786.4,329.06 788.5,325.77 790,325.77C791.5,325.77 793.6,329.06 794.5,329.88C795.2,329.06 796.83,325.87 798,325.77C799.17,325.68 800.8,328.59 801.5,329.3C802.1,328.59 803.42,325.8 804.5,325.77C805.58,325.75 807.3,328.47 808,329.15C808.4,328.57 808.33,326.59 810,326.27C811.67,325.96 816.67,327.11 818,327.27L820,440Z" fill="#b3b3b3"/>
<path d="M559,430C559.65,428.6 561.77,424.18 562.9,421.6C564.03,419.02 565.48,416.93 565.8,414.5C566.12,412.07 565.75,409.83 564.8,407C563.85,404.17 562.3,400.67 560.1,397.5C557.9,394.33 554.28,391.15 551.6,388C548.92,384.85 546.28,382.05 544,378.6C541.72,375.15 539.4,370.77 537.9,367.3C536.4,363.83 535.72,360.95 535,357.8C534.28,354.65 533.9,351.23 533.6,348.4C533.3,345.57 533.03,342.62 533.2,340.8C533.37,338.98 533.73,338.45 534.6,337.5C535.47,336.55 535.42,336.13 538.4,335.1C541.38,334.07 548.23,332.08 552.5,331.3C556.77,330.52 559.42,330.75 564,330.4C568.58,330.05 574.67,329.5 580,329.2C585.33,328.9 591,328.63 596,328.6C601,328.57 606.33,328.83 610,329C613.67,329.17 615.67,329.37 618,329.6C620.33,329.83 622,330.23 624,330.4C626,330.57 628,330.8 630,330.6C632,330.4 634,329.77 636,329.2C638,328.63 639.67,327.43 642,327.2C644.33,326.97 647.83,327.67 650,327.8C652.17,327.93 653.33,327.87 655,328C656.67,328.13 658.5,328.33 660,328.6C661.5,328.87 662.33,329.37 664,329.6C665.67,329.83 668.33,329.97 670,330C671.67,330.03 672.83,330.03 674,329.8C675.17,329.57 676,329.07 677,328.6C678,328.13 678.67,327.38 680,327C681.33,326.62 682.5,326.47 685,326.3C687.5,326.13 691.67,326.08 695,326C698.33,325.92 701.67,325.8 705,325.8C708.33,325.8 712.5,325.75 715,326C717.5,326.25 718.5,326.75 720,327.3C721.5,327.85 722.67,328.75 724,329.3C725.33,329.85 727,330.28 728,330.6C729,330.92 729,331.13 730,331.2C731,331.27 732.67,331.42 734,331C735.33,330.58 736.67,329.45 738,328.7C739.33,327.95 740.5,327 742,326.5C743.5,326 745.5,325.75 747,325.7C748.5,325.65 749.67,325.62 751,326.2C752.33,326.78 753.67,328.37 755,329.2C756.33,330.03 757.67,331.28 759,331.2C760.33,331.12 761.67,329.53 763,328.7C764.33,327.87 765.83,326.5 767,326.2C768.17,325.9 768.83,326.12 770,326.9C771.17,327.68 772.67,330.8 774,330.9C775.33,331 776.92,328.33 778,327.5C779.08,326.67 779.25,325.4 780.5,325.9C781.75,326.4 784.5,329.58 785.5,330.5C786.4,329.64 788.5,326.2 790,326.2C791.5,326.2 793.6,329.64 794.5,330.5C795.2,329.64 796.83,326.3 798,326.2C799.17,326.1 800.8,329.16 801.5,329.9C802.1,329.16 803.42,326.23 804.5,326.2C805.58,326.17 807.3,329 808,329.7C808.4,329.1 808.33,327.03 810,326.7C811.67,326.37 816.67,327.53 818,327.7L820,440Z" fill="#ffffff"/>
<polygon points="262.7,309.1 264.3,313.02 269.17,313.11 265.29,315.62 266.7,319.59 262.7,317.22 258.7,319.59 260.11,315.62 256.23,313.11 261.1,313.02" fill="#000"/>
<path d="M262.55,224.55V422.15M445.1,224.55V422.15M627.65,224.55V422.15M80,323.35H810.2" stroke="#7a7a7a" stroke-width="1" fill="none"/>
</g>
<path d="M80,224.55v16.5M80,422.15v-16.5M171.28,224.55v16.5M171.28,422.15v-16.5M262.55,224.55v16.5M262.55,422.15v-16.5M353.83,224.55v16.5M353.83,422.15v-16.5M445.1,224.55v16.5M445.1,422.15v-16.5M536.38,224.55v16.5M536.38,422.15v-16.5M627.65,224.55v16.5M627.65,422.15v-16.5M718.93,224.55v16.5M718.93,422.15v-16.5M810.2,224.55v16.5M810.2,422.15v-16.5M84.18,224.55v8.5M84.18,422.15v-8.5M88.85,224.55v8.5M88.85,422.15v-8.5M94.14,224.55v8.5M94.14,422.15v-8.5M100.25,224.55v8.5M100.25,422.15v-8.5M107.48,224.55v8.5M107.48,422.15v-8.5M116.32,224.55v8.5M116.32,422.15v-8.5M127.73,224.55v8.5M127.73,422.15v-8.5M143.8,224.55v8.5M143.8,422.15v-8.5M175.45,224.55v8.5M175.45,422.15v-8.5M180.12,224.55v8.5M180.12,422.15v-8.5M185.41,224.55v8.5M185.41,422.15v-8.5M191.52,224.55v8.5M191.52,422.15v-8.5M198.75,224.55v8.5M198.75,422.15v-8.5M207.6,224.55v8.5M207.6,422.15v-8.5M219,224.55v8.5M219,422.15v-8.5M235.07,224.55v8.5M235.07,422.15v-8.5M266.73,224.55v8.5M266.73,422.15v-8.5M271.4,224.55v8.5M271.4,422.15v-8.5M276.69,224.55v8.5M276.69,422.15v-8.5M282.8,224.55v8.5M282.8,422.15v-8.5M290.03,224.55v8.5M290.03,422.15v-8.5M298.87,224.55v8.5M298.87,422.15v-8.5M310.28,224.55v8.5M310.28,422.15v-8.5M326.35,224.55v8.5M326.35,422.15v-8.5M357.58,224.55v8.5M357.58,422.15v-8.5M362.28,224.55v8.5M362.28,422.15v-8.5M367.18,224.55v8.5M367.18,422.15v-8.5M373.08,224.55v8.5M373.08,422.15v-8.5M379.88,224.55v8.5M379.88,422.15v-8.5M388.08,224.55v8.5M388.08,422.15v-8.5M397.79,224.55v8.5M397.79,422.15v-8.5M410.39,224.55v8.5M410.39,422.15v-8.5M426.09,224.55v8.5M426.09,422.15v-8.5M464.11,224.55v8.5M464.11,422.15v-8.5M479.81,224.55v8.5M479.81,422.15v-8.5M492.41,224.55v8.5M492.41,422.15v-8.5M502.12,224.55v8.5M502.12,422.15v-8.5M510.32,224.55v8.5M510.32,422.15v-8.5M517.12,224.55v8.5M517.12,422.15v-8.5M523.02,224.55v8.5M523.02,422.15v-8.5M527.92,224.55v8.5M527.92,422.15v-8.5M532.62,224.55v8.5M532.62,422.15v-8.5M563.85,224.55v8.5M563.85,422.15v-8.5M579.92,224.55v8.5M579.92,422.15v-8.5M591.33,224.55v8.5M591.33,422.15v-8.5M600.17,224.55v8.5M600.17,422.15v-8.5M607.4,224.55v8.5M607.4,422.15v-8.5M613.51,224.55v8.5M613.51,422.15v-8.5M618.8,224.55v8.5M618.8,422.15v-8.5M623.47,224.55v8.5M623.47,422.15v-8.5M655.13,224.55v8.5M655.13,422.15v-8.5M671.2,224.55v8.5M671.2,422.15v-8.5M682.6,224.55v8.5M682.6,422.15v-8.5M691.45,224.55v8.5M691.45,422.15v-8.5M698.68,224.55v8.5M698.68,422.15v-8.5M704.79,224.55v8.5M704.79,422.15v-8.5M710.08,224.55v8.5M710.08,422.15v-8.5M714.75,224.55v8.5M714.75,422.15v-8.5M746.4,224.55v8.5M746.4,422.15v-8.5M762.47,224.55v8.5M762.47,422.15v-8.5M773.88,224.55v8.5M773.88,422.15v-8.5M782.72,224.55v8.5M782.72,422.15v-8.5M789.95,224.55v8.5M789.95,422.15v-8.5M796.06,224.55v8.5M796.06,422.15v-8.5M801.35,224.55v8.5M801.35,422.15v-8.5M806.02,224.55v8.5M806.02,422.15v-8.5M80,234.43h8.5M810.2,234.43h-8.5M80,244.31h8.5M810.2,244.31h-8.5M80,254.19h8.5M810.2,254.19h-8.5M80,264.07h8.5M810.2,264.07h-8.5M80,273.95h16.5M810.2,273.95h-16.5M80,283.83h8.5M810.2,283.83h-8.5M80,293.71h8.5M810.2,293.71h-8.5M80,303.59h8.5M810.2,303.59h-8.5M80,313.47h8.5M810.2,313.47h-8.5M80,323.35h16.5M810.2,323.35h-16.5M80,333.23h8.5M810.2,333.23h-8.5M80,343.11h8.5M810.2,343.11h-8.5M80,352.99h8.5M810.2,352.99h-8.5M80,362.87h8.5M810.2,362.87h-8.5M80,372.75h16.5M810.2,372.75h-16.5M80,382.63h8.5M810.2,382.63h-8.5M80,392.51h8.5M810.2,392.51h-8.5M80,402.39h8.5M810.2,402.39h-8.5M80,412.27h8.5M810.2,412.27h-8.5" stroke="#000" stroke-width="1.4" fill="none"/>
<rect x="80" y="224.55" width="730.2" height="197.6" fill="none" stroke="#000" stroke-width="1.5"/>
<g clip-path="url(#c2)">
<rect x="80" y="439.1" width="730.2" height="197.8" fill="#ffcce6"/>
<path d="M72,515C73.75,513.58 80.66,507.49 82.5,506.5C84.34,505.51 82.83,508.11 83.04,509.04C83.25,509.97 83.48,510.99 83.76,512.06C84.05,513.14 84.42,514.51 84.75,515.5C85.08,516.49 85.45,517.4 85.74,518.01C86.02,518.61 86.25,518.9 86.46,519.15C86.67,519.4 86.86,519.53 87,519.5C87.14,519.47 87.18,519.34 87.3,518.96C87.42,518.57 87.54,518.14 87.7,517.2C87.86,516.27 88.07,514.87 88.25,513.34C88.43,511.82 88.64,509.71 88.8,508.06C88.96,506.4 89.08,504.83 89.2,503.41C89.32,501.98 89.37,499.5 89.5,499.5C89.63,499.5 89.79,501.98 89.98,503.41C90.17,504.83 90.37,506.4 90.62,508.06C90.87,509.71 91.21,511.82 91.5,513.34C91.79,514.87 92.13,516.27 92.38,517.2C92.63,518.14 92.83,518.57 93.02,518.96C93.21,519.34 93.36,519.49 93.5,519.5C93.64,519.51 93.72,519.35 93.86,519.01C94,518.67 94.15,518.27 94.34,517.43C94.53,516.59 94.78,515.33 95,513.96C95.22,512.59 95.47,510.69 95.66,509.2C95.85,507.71 96,506.3 96.14,505.02C96.28,503.73 96.34,501.55 96.5,501.5C96.66,501.45 96.87,503.55 97.1,504.72C97.33,505.9 97.58,507.19 97.9,508.56C98.22,509.93 98.63,511.66 99,512.92C99.37,514.18 99.78,515.33 100.1,516.1C100.42,516.88 100.67,517.24 100.9,517.55C101.13,517.87 101.33,518.01 101.5,518C101.67,517.99 101.77,517.85 101.94,517.48C102.12,517.12 102.3,516.71 102.54,515.82C102.77,514.93 103.08,513.6 103.35,512.15C103.62,510.7 103.93,508.7 104.16,507.13C104.4,505.56 104.58,504.07 104.76,502.71C104.93,501.36 104.99,498.97 105.2,499C105.41,499.03 105.7,501.48 106.02,502.91C106.33,504.33 106.67,505.9 107.1,507.56C107.53,509.21 108.1,511.32 108.6,512.84C109.1,514.37 109.67,515.77 110.1,516.7C110.53,517.64 110.87,518.07 111.18,518.46C111.5,518.84 111.77,519 112,519C112.23,519 112.33,518.84 112.54,518.47C112.75,518.1 112.98,517.67 113.26,516.76C113.55,515.85 113.92,514.48 114.25,513C114.58,511.51 114.95,509.46 115.24,507.84C115.52,506.23 115.75,504.7 115.96,503.31C116.17,501.92 116.23,499.38 116.5,499.5C116.77,499.62 117.16,502.42 117.58,504.02C118,505.63 118.45,507.39 119.02,509.12C119.59,510.85 120.34,512.97 121,514.41C121.66,515.84 122.41,516.98 122.98,517.73C123.55,518.49 124,518.69 124.42,518.94C124.84,519.18 125.16,519.2 125.5,519.2C125.84,519.2 126.09,519.18 126.46,518.94C126.83,518.69 127.23,518.49 127.74,517.73C128.25,516.98 128.91,515.84 129.5,514.41C130.09,512.97 130.75,510.85 131.26,509.12C131.77,507.39 132.17,505.63 132.54,504.02C132.91,502.42 133.06,499.33 133.5,499.5C133.94,499.67 134.53,503.14 135.18,505.04C135.83,506.94 136.53,509 137.42,510.88C138.31,512.75 139.47,514.91 140.5,516.29C141.53,517.66 142.69,518.51 143.58,519.11C144.47,519.71 145.17,519.74 145.82,519.89C146.47,520.04 145.97,521.98 147.5,520C149.03,518.02 153.17,510.75 155,508C156.83,505.25 157.33,504.67 158.5,503.5C159.67,502.33 160.75,500.83 162,501C163.25,501.17 164.67,503.33 166,504.5C167.33,505.67 168.5,507.25 170,508C171.5,508.75 173.5,508.25 175,509C176.5,509.75 177.83,511.58 179,512.5C180.17,513.42 180.67,514.25 182,514.5C183.33,514.75 185.17,514.33 187,514C188.83,513.67 191,512.87 193,512.5C195,512.13 197.17,512.13 199,511.8C200.83,511.47 202.33,511.3 204,510.5C205.67,509.7 207.5,508.33 209,507C210.5,505.67 211.67,504 213,502.5C214.33,501 215.67,498.42 217,498C218.33,497.58 219.67,499.25 221,500C222.33,500.75 223.83,501.33 225,502.5C226.17,503.67 227,505.42 228,507C229,508.58 229.83,510.92 231,512C232.17,513.08 234.17,513.17 235,513.5C235.83,513.83 234.5,513.68 236,514C237.5,514.32 241.67,516.07 244,515.4C246.33,514.73 248,512.73 250,510C252,507.27 253.9,501.5 256,499C258.1,496.5 260.6,494.93 262.6,495C264.6,495.07 266.1,497.73 268,499.4C269.9,501.07 271.67,504.13 274,505C276.33,505.87 279,504.93 282,504.6C285,504.27 288.67,503 292,503C295.33,503 298.67,504.28 302,504.6C305.33,504.92 308.32,505.1 312,504.9C315.68,504.7 320.68,504.22 324.1,503.4C327.52,502.58 329.88,501.47 332.5,500C335.12,498.53 337.38,496.7 339.8,494.6C342.22,492.5 344.8,489.8 347,487.4C349.2,485 351,482.72 353,480.2C355,477.68 356.98,474.62 359,472.3C361.02,469.98 363.08,468.7 365.1,466.3C367.12,463.9 369.4,460.7 371.1,457.9C372.8,455.1 373.9,452.52 375.3,449.5C376.7,446.48 377.97,443.88 379.5,439.8C381.03,435.72 383.67,427.47 384.5,425L72,425Z" fill="#0000ff"/>
<path d="M72,513C73.75,511.42 80.66,504.66 82.5,503.5C84.34,502.34 82.83,505.09 83.04,506.02C83.25,506.95 83.48,507.97 83.76,509.09C84.05,510.2 84.42,511.64 84.75,512.72C85.08,513.8 85.45,514.84 85.74,515.55C86.02,516.26 86.25,516.65 86.46,516.98C86.67,517.3 86.86,517.55 87,517.5C87.14,517.45 87.18,517.18 87.3,516.66C87.42,516.14 87.54,515.51 87.7,514.37C87.86,513.23 88.07,511.55 88.25,509.82C88.43,508.08 88.64,505.77 88.8,503.98C88.96,502.18 89.08,500.54 89.2,499.04C89.32,497.55 89.37,495.01 89.5,495C89.63,494.99 89.79,497.49 89.98,498.95C90.17,500.42 90.37,502.02 90.62,503.78C90.87,505.53 91.21,507.79 91.5,509.49C91.79,511.18 92.13,512.83 92.38,513.94C92.63,515.06 92.83,515.67 93.02,516.18C93.21,516.69 93.36,516.99 93.5,517C93.64,517.01 93.72,516.72 93.86,516.25C94,515.79 94.15,515.23 94.34,514.22C94.53,513.21 94.78,511.71 95,510.17C95.22,508.63 95.47,506.58 95.66,504.98C95.85,503.38 96,501.92 96.14,500.59C96.28,499.26 96.34,497.04 96.5,497C96.66,496.96 96.87,499.1 97.1,500.33C97.33,501.56 97.58,502.91 97.9,504.38C98.22,505.86 98.63,507.76 99,509.18C99.37,510.61 99.78,511.99 100.1,512.93C100.42,513.87 100.67,514.38 100.9,514.81C101.13,515.24 101.33,515.51 101.5,515.5C101.67,515.49 101.77,515.22 101.94,514.77C102.12,514.32 102.3,513.78 102.54,512.79C102.77,511.8 103.08,510.34 103.35,508.84C103.62,507.34 103.93,505.34 104.16,503.78C104.4,502.22 104.58,500.8 104.76,499.51C104.93,498.21 104.99,495.97 105.2,496C105.41,496.03 105.7,498.32 106.02,499.68C106.33,501.05 106.67,502.54 107.1,504.18C107.53,505.82 108.1,507.92 108.6,509.5C109.1,511.08 109.67,512.61 110.1,513.65C110.53,514.69 110.87,515.26 111.18,515.73C111.5,516.21 111.77,516.51 112,516.5C112.23,516.49 112.33,516.19 112.54,515.7C112.75,515.2 112.98,514.6 113.26,513.51C113.55,512.42 113.92,510.81 114.25,509.16C114.58,507.5 114.95,505.29 115.24,503.58C115.52,501.86 115.75,500.29 115.96,498.86C116.17,497.43 116.23,494.9 116.5,495C116.77,495.1 117.16,497.87 117.58,499.49C118,501.1 118.45,502.88 119.02,504.69C119.59,506.5 120.34,508.77 121,510.36C121.66,511.95 122.41,513.31 122.98,514.21C123.55,515.12 124,515.46 124.42,515.79C124.84,516.12 125.16,516.2 125.5,516.2C125.84,516.2 126.09,516.12 126.46,515.8C126.83,515.48 127.23,515.14 127.74,514.26C128.25,513.38 128.91,512.05 129.5,510.5C130.09,508.95 130.75,506.73 131.26,504.96C131.77,503.19 132.17,501.46 132.54,499.88C132.91,498.3 133.06,495.34 133.5,495.5C133.94,495.66 134.53,499 135.18,500.87C135.83,502.74 136.53,504.79 137.42,506.72C138.31,508.66 139.47,510.96 140.5,512.47C141.53,513.98 142.69,515.05 143.58,515.77C144.47,516.49 145.17,516.61 145.82,516.82C146.47,517.02 145.97,519.05 147.5,517C149.03,514.95 153.17,507.5 155,504.5C156.83,501.5 157.33,500.25 158.5,499C159.67,497.75 160.75,496.83 162,497C163.25,497.17 164.67,498.58 166,500C167.33,501.42 168.5,504.25 170,505.5C171.5,506.75 173.5,506.75 175,507.5C176.5,508.25 177.83,509.42 179,510C180.17,510.58 180.67,510.92 182,511C183.33,511.08 185.17,510.75 187,510.5C188.83,510.25 191,509.83 193,509.5C195,509.17 197.17,508.83 199,508.5C200.83,508.17 202.33,508.25 204,507.5C205.67,506.75 207.5,505.42 209,504C210.5,502.58 211.67,500.42 213,499C214.33,497.58 215.67,495.92 217,495.5C218.33,495.08 219.67,496.08 221,496.5C222.33,496.92 223.83,496.92 225,498C226.17,499.08 227,501.5 228,503C229,504.5 229.83,506.08 231,507C232.17,507.92 234.17,508.1 235,508.5C235.83,508.9 234.5,508.98 236,509.4C237.5,509.82 241.67,511.57 244,511C246.33,510.43 248,508.5 250,506C252,503.5 253.9,498.17 256,496C258.1,493.83 260.6,492.83 262.6,493C264.6,493.17 266.1,495.67 268,497C269.9,498.33 271.67,500.5 274,501C276.33,501.5 279,500.33 282,500C285,499.67 288.67,498.9 292,499C295.33,499.1 298.67,500.43 302,500.6C305.33,500.77 308.32,500.48 312,500C315.68,499.52 320.68,498.8 324.1,497.7C327.52,496.6 329.88,495.02 332.5,493.4C335.12,491.78 337.38,490.1 339.8,488C342.22,485.9 344.8,483.2 347,480.8C349.2,478.4 351.2,475.62 353,473.6C354.8,471.58 355.98,470.32 357.8,468.7C359.62,467.08 362.08,465.9 363.9,463.9C365.72,461.9 367.3,459.3 368.7,456.7C370.1,454.1 371.2,451.12 372.3,448.3C373.4,445.48 373.97,443.68 375.3,439.8C376.63,435.92 379.47,427.47 380.3,425L72,425Z" fill="#ff00ff"/>
<path d="M72,511C73.75,509.25 80.66,501.83 82.5,500.5C84.34,499.17 82.83,502.09 83.04,503.04C83.25,503.99 83.48,505.03 83.76,506.21C84.05,507.4 84.42,508.93 84.75,510.13C85.08,511.32 85.45,512.55 85.74,513.39C86.02,514.24 86.25,514.77 86.46,515.2C86.67,515.64 86.86,516.1 87,516C87.14,515.9 87.18,515.37 87.3,514.61C87.42,513.86 87.54,512.93 87.7,511.46C87.86,509.98 88.07,507.85 88.25,505.77C88.43,503.69 88.64,501.01 88.8,498.95C88.96,496.9 89.08,495.08 89.2,493.42C89.32,491.77 89.37,489.01 89.5,489C89.63,488.99 89.79,491.71 89.98,493.34C90.17,494.97 90.37,496.75 90.62,498.77C90.87,500.79 91.21,503.41 91.5,505.46C91.79,507.5 92.13,509.59 92.38,511.04C92.63,512.49 92.83,513.4 93.02,514.14C93.21,514.88 93.36,515.49 93.5,515.5C93.64,515.51 93.72,514.9 93.86,514.19C94,513.47 94.15,512.6 94.34,511.21C94.53,509.82 94.78,507.81 95,505.84C95.22,503.87 95.47,501.34 95.66,499.4C95.85,497.46 96,495.75 96.14,494.18C96.28,492.61 96.34,490.07 96.5,490C96.66,489.93 96.87,492.36 97.1,493.77C97.33,495.18 97.58,496.73 97.9,498.48C98.22,500.23 98.63,502.51 99,504.28C99.37,506.06 99.78,507.87 100.1,509.13C100.42,510.39 100.67,511.17 100.9,511.82C101.13,512.46 101.33,513.01 101.5,513C101.67,512.99 101.77,512.44 101.94,511.77C102.12,511.09 102.3,510.27 102.54,508.96C102.77,507.65 103.08,505.76 103.35,503.91C103.62,502.05 103.93,499.68 104.16,497.85C104.4,496.02 104.58,494.41 104.76,492.93C104.93,491.46 104.99,488.96 105.2,489C105.41,489.04 105.7,491.61 106.02,493.18C106.33,494.75 106.67,496.46 107.1,498.4C107.53,500.34 108.1,502.87 108.6,504.84C109.1,506.81 109.67,508.82 110.1,510.21C110.53,511.6 110.87,512.47 111.18,513.19C111.5,513.9 111.77,514.5 112,514.5C112.23,514.5 112.33,513.89 112.54,513.16C112.75,512.43 112.98,511.54 113.26,510.12C113.55,508.71 113.92,506.65 114.25,504.65C114.58,502.64 114.95,500.07 115.24,498.09C115.52,496.1 115.75,494.36 115.96,492.76C116.17,491.16 116.23,488.38 116.5,488.5C116.77,488.62 117.16,491.65 117.58,493.47C118,495.28 118.45,497.28 119.02,499.4C119.59,501.52 120.34,504.22 121,506.18C121.66,508.14 122.41,509.96 122.98,511.17C123.55,512.39 124,512.97 124.42,513.47C124.84,513.98 125.16,514.2 125.5,514.2C125.84,514.2 126.09,513.98 126.46,513.47C126.83,512.97 127.23,512.39 127.74,511.17C128.25,509.96 128.91,508.14 129.5,506.18C130.09,504.22 130.75,501.52 131.26,499.4C131.77,497.28 132.17,495.28 132.54,493.47C132.91,491.65 133.06,488.36 133.5,488.5C133.94,488.64 134.53,492.23 135.18,494.28C135.83,496.33 136.53,498.59 137.42,500.81C138.31,503.03 139.47,505.76 140.5,507.61C141.53,509.45 142.69,510.92 143.58,511.89C144.47,512.87 145.17,513.14 145.82,513.46C146.47,513.78 145.97,515.96 147.5,513.8C149.03,511.64 153.17,504.3 155,500.5C156.83,496.7 157.33,492.92 158.5,491C159.67,489.08 160.75,489 162,489C163.25,489 164.67,489.08 166,491C167.33,492.92 168.5,498.25 170,500.5C171.5,502.75 173.5,503.42 175,504.5C176.5,505.58 177.83,506.5 179,507C180.17,507.5 180.67,507.42 182,507.5C183.33,507.58 185.17,507.67 187,507.5C188.83,507.33 191,506.75 193,506.5C195,506.25 197.17,506.25 199,506C200.83,505.75 202.33,505.75 204,505C205.67,504.25 207.5,503 209,501.5C210.5,500 211.67,497.5 213,496C214.33,494.5 215.67,492.92 217,492.5C218.33,492.08 219.67,493.08 221,493.5C222.33,493.92 223.83,493.92 225,495C226.17,496.08 227,498.5 228,500C229,501.5 229.83,503.17 231,504C232.17,504.83 234.17,504.83 235,505C235.83,505.17 234.5,504.67 236,505C237.5,505.33 241.67,507.5 244,507C246.33,506.5 248,504.33 250,502C252,499.67 253.9,495.1 256,493C258.1,490.9 260.6,489.47 262.6,489.4C264.6,489.33 266.1,491.4 268,492.6C269.9,493.8 271.67,496.03 274,496.6C276.33,497.17 279,496.33 282,496C285,495.67 288.67,494.67 292,494.6C295.33,494.53 298.67,495.6 302,495.6C305.33,495.6 308.32,495.27 312,494.6C315.68,493.93 320.88,492.9 324.1,491.6C327.32,490.3 328.88,488.6 331.3,486.8C333.72,485 336.18,483 338.6,480.8C341.02,478.6 343.8,475.52 345.8,473.6C347.8,471.68 348.8,470.82 350.6,469.3C352.4,467.78 354.8,466.2 356.6,464.5C358.4,462.8 360,461.2 361.4,459.1C362.8,457 363.88,454.12 365,451.9C366.12,449.68 367.08,447.82 368.1,445.8C369.12,443.78 369.77,443.27 371.1,439.8C372.43,436.33 375.27,427.47 376.1,425L72,425Z" fill="#b3b3b3"/>
<path d="M72,510C73.75,508.25 80.66,500.84 82.5,499.5C84.34,498.16 82.83,501.03 83.04,501.96C83.25,502.88 83.48,503.89 83.76,505.05C84.05,506.21 84.42,507.72 84.75,508.92C85.08,510.11 85.45,511.35 85.74,512.22C86.02,513.09 86.25,513.65 86.46,514.11C86.67,514.58 86.86,515.13 87,515C87.14,514.87 87.18,514.21 87.3,513.34C87.42,512.48 87.54,511.42 87.7,509.8C87.86,508.18 88.07,505.86 88.25,503.62C88.43,501.39 88.64,498.56 88.8,496.39C88.96,494.22 89.08,492.33 89.2,490.6C89.32,488.87 89.37,486.01 89.5,486C89.63,485.99 89.79,488.82 89.98,490.52C90.17,492.22 90.37,494.08 90.62,496.21C90.87,498.34 91.21,501.12 91.5,503.32C91.79,505.52 92.13,507.8 92.38,509.39C92.63,510.98 92.83,512.02 93.02,512.87C93.21,513.72 93.36,514.49 93.5,514.5C93.64,514.51 93.72,513.75 93.86,512.93C94,512.11 94.15,511.1 94.34,509.57C94.53,508.03 94.78,505.83 95,503.71C95.22,501.59 95.47,498.91 95.66,496.85C95.85,494.79 96,493 96.14,491.36C96.28,489.72 96.34,487.07 96.5,487C96.66,486.93 96.87,489.47 97.1,490.96C97.33,492.46 97.58,494.08 97.9,495.96C98.22,497.83 98.63,500.27 99,502.19C99.37,504.12 99.78,506.12 100.1,507.52C100.42,508.91 100.67,509.82 100.9,510.57C101.13,511.32 101.33,512.01 101.5,512C101.67,511.99 101.77,511.29 101.94,510.51C102.12,509.74 102.3,508.79 102.54,507.34C102.77,505.88 103.08,503.8 103.35,501.8C103.62,499.8 103.93,497.26 104.16,495.31C104.4,493.37 104.58,491.67 104.76,490.12C104.93,488.57 104.99,485.96 105.2,486C105.41,486.04 105.7,488.72 106.02,490.36C106.33,492 106.67,493.79 107.1,495.85C107.53,497.91 108.1,500.59 108.6,502.71C109.1,504.83 109.67,507.03 110.1,508.57C110.53,510.1 110.87,511.11 111.18,511.93C111.5,512.75 111.77,513.5 112,513.5C112.23,513.5 112.33,512.74 112.54,511.9C112.75,511.06 112.98,510.04 113.26,508.48C113.55,506.91 113.92,504.67 114.25,502.52C114.58,500.36 114.95,497.63 115.24,495.53C115.52,493.43 115.75,491.61 115.96,489.94C116.17,488.27 116.23,485.38 116.5,485.5C116.77,485.62 117.16,488.75 117.58,490.64C118,492.54 118.45,494.61 119.02,496.85C119.59,499.08 120.34,501.94 121,504.05C121.66,506.16 122.41,508.16 122.98,509.5C123.55,510.85 124,511.53 124.42,512.11C124.84,512.7 125.16,513 125.5,513C125.84,513 126.09,512.7 126.46,512.11C126.83,511.53 127.23,510.85 127.74,509.5C128.25,508.16 128.91,506.16 129.5,504.05C130.09,501.94 130.75,499.08 131.26,496.85C131.77,494.61 132.17,492.54 132.54,490.64C132.91,488.75 133.06,485.38 133.5,485.5C133.94,485.62 134.53,489.27 135.18,491.37C135.83,493.46 136.53,495.77 137.42,498.07C138.31,500.37 139.47,503.22 140.5,505.18C141.53,507.13 142.69,508.74 143.58,509.81C144.47,510.87 145.17,511.22 145.82,511.58C146.47,511.95 145.97,514.35 147.5,512C149.03,509.65 153.17,501.58 155,497.5C156.83,493.42 157.33,489.58 158.5,487.5C159.67,485.42 160.75,485 162,485C163.25,485 164.67,485.33 166,487.5C167.33,489.67 168.5,495.5 170,498C171.5,500.5 173.5,501.25 175,502.5C176.5,503.75 177.83,504.83 179,505.5C180.17,506.17 180.67,506.38 182,506.5C183.33,506.62 185.17,506.45 187,506.2C188.83,505.95 191,505.28 193,505C195,504.72 197.17,504.75 199,504.5C200.83,504.25 202.33,504.33 204,503.5C205.67,502.67 207.5,501.08 209,499.5C210.5,497.92 211.67,495.58 213,494C214.33,492.42 215.67,490.58 217,490C218.33,489.42 219.67,490.08 221,490.5C222.33,490.92 223.83,491.25 225,492.5C226.17,493.75 227,496.5 228,498C229,499.5 229.83,500.83 231,501.5C232.17,502.17 234.17,501.75 235,502C235.83,502.25 234.5,502.5 236,503C237.5,503.5 241.67,505.5 244,505C246.33,504.5 248,502.33 250,500C252,497.67 253.9,493.1 256,491C258.1,488.9 260.6,487.57 262.6,487.4C264.6,487.23 266.1,488.9 268,490C269.9,491.1 271.67,493.43 274,494C276.33,494.57 279,493.73 282,493.4C285,493.07 288.67,492.07 292,492C295.33,491.93 298.67,493.17 302,493C305.33,492.83 308.32,491.83 312,491C315.68,490.17 321.08,489.1 324.1,488C327.12,486.9 328.1,485.8 330.1,484.4C332.1,483 334.08,481.2 336.1,479.6C338.12,478 340.18,476.62 342.2,474.8C344.22,472.98 346.2,470.42 348.2,468.7C350.2,466.98 352.4,466.1 354.2,464.5C356,462.9 357.7,461.2 359,459.1C360.3,457 361.08,454.12 362,451.9C362.92,449.68 363.58,447.82 364.5,445.8C365.42,443.78 366.17,443.27 367.5,439.8C368.83,436.33 371.67,427.47 372.5,425L72,425Z" fill="#ffffff"/>
<path d="M72,563C73.75,564 80.66,568.39 82.5,569C84.34,569.61 82.83,567.51 83.04,566.66C83.25,565.8 83.48,564.86 83.76,563.87C84.05,562.87 84.42,561.61 84.75,560.69C85.08,559.78 85.45,558.94 85.74,558.38C86.02,557.82 86.25,557.56 86.46,557.33C86.67,557.1 86.86,556.96 87,557C87.14,557.04 87.18,557.17 87.3,557.57C87.42,557.97 87.54,558.43 87.7,559.41C87.86,560.39 88.07,561.86 88.25,563.46C88.43,565.06 88.64,567.27 88.8,569.01C88.96,570.75 89.08,572.4 89.2,573.9C89.32,575.4 89.37,577.99 89.5,578C89.63,578.01 89.79,575.42 89.98,573.94C90.17,572.45 90.37,570.82 90.62,569.1C90.87,567.38 91.21,565.19 91.5,563.6C91.79,562.02 92.13,560.56 92.38,559.59C92.63,558.62 92.83,558.16 93.02,557.77C93.21,557.37 93.36,557.22 93.5,557.2C93.64,557.18 93.72,557.34 93.86,557.66C94,557.98 94.15,558.34 94.34,559.13C94.53,559.92 94.78,561.09 95,562.37C95.22,563.65 95.47,565.42 95.66,566.81C95.85,568.2 96,569.52 96.14,570.72C96.28,571.92 96.34,573.98 96.5,574C96.66,574.02 96.87,571.99 97.1,570.84C97.33,569.68 97.58,568.41 97.9,567.07C98.22,565.73 98.63,564.02 99,562.79C99.37,561.55 99.78,560.42 100.1,559.66C100.42,558.9 100.67,558.55 100.9,558.24C101.13,557.93 101.33,557.79 101.5,557.8C101.67,557.81 101.77,557.95 101.94,558.32C102.12,558.69 102.3,559.11 102.54,560.01C102.77,560.9 103.08,562.25 103.35,563.71C103.62,565.17 103.93,567.19 104.16,568.78C104.4,570.37 104.58,571.88 104.76,573.25C104.93,574.62 104.99,577.02 105.2,577C105.41,576.98 105.7,574.54 106.02,573.13C106.33,571.72 106.67,570.17 107.1,568.53C107.53,566.89 108.1,564.8 108.6,563.29C109.1,561.79 109.67,560.4 110.1,559.47C110.53,558.55 110.87,558.12 111.18,557.74C111.5,557.36 111.77,557.2 112,557.2C112.23,557.2 112.33,557.37 112.54,557.77C112.75,558.16 112.98,558.62 113.26,559.59C113.55,560.56 113.92,562.02 114.25,563.6C114.58,565.19 114.95,567.38 115.24,569.1C115.52,570.82 115.75,572.45 115.96,573.94C116.17,575.42 116.23,578.12 116.5,578C116.77,577.88 117.16,574.92 117.58,573.23C118,571.53 118.45,569.67 119.02,567.84C119.59,566.01 120.34,563.77 121,562.26C121.66,560.74 122.41,559.55 122.98,558.75C123.55,557.95 124,557.73 124.42,557.48C124.84,557.22 125.16,557.2 125.5,557.2C125.84,557.2 126.09,557.22 126.46,557.48C126.83,557.75 127.23,557.97 127.74,558.79C128.25,559.6 128.91,560.83 129.5,562.38C130.09,563.93 130.75,566.23 131.26,568.1C131.77,569.97 132.17,571.88 132.54,573.61C132.91,575.34 133.06,578.7 133.5,578.5C133.94,578.3 134.53,574.5 135.18,572.42C135.83,570.34 136.53,568.07 137.42,566.01C138.31,563.95 139.47,561.58 140.5,560.08C141.53,558.57 142.69,557.63 143.58,556.98C144.47,556.32 145.17,556.28 145.82,556.12C146.47,555.96 145.97,553.94 147.5,556C149.03,558.06 153.17,565.67 155,568.5C156.83,571.33 157.33,571.83 158.5,573C159.67,574.17 160.75,575.58 162,575.5C163.25,575.42 164.67,573.75 166,572.5C167.33,571.25 168.5,569.08 170,568C171.5,566.92 173.5,566.92 175,566C176.5,565.08 177.83,563.42 179,562.5C180.17,561.58 180.67,560.83 182,560.5C183.33,560.17 185.17,560.47 187,560.5C188.83,560.53 191,560.62 193,560.7C195,560.78 197.17,560.82 199,561C200.83,561.18 202.33,561.05 204,561.8C205.67,562.55 207.5,564.22 209,565.5C210.5,566.78 211.67,568.33 213,569.5C214.33,570.67 215.67,572.08 217,572.5C218.33,572.92 219.67,572.33 221,572C222.33,571.67 223.83,571.25 225,570.5C226.17,569.75 227,568.67 228,567.5C229,566.33 229.83,564.33 231,563.5C232.17,562.67 234.17,562.65 235,562.5C235.83,562.35 234.5,562.78 236,562.6C237.5,562.42 241.67,560.5 244,561.4C246.33,562.3 248,565.23 250,568C252,570.77 253.9,575.67 256,578C258.1,580.33 260.6,582 262.6,582C264.6,582 266.1,579.57 268,578C269.9,576.43 271.67,573.6 274,572.6C276.33,571.6 279,571.93 282,572C285,572.07 288.67,573.1 292,573C295.33,572.9 298.67,571.58 302,571.4C305.33,571.22 308.32,571.52 312,571.9C315.68,572.28 320.68,572.9 324.1,573.7C327.52,574.5 329.88,575.4 332.5,576.7C335.12,578 337.38,579.7 339.8,581.5C342.22,583.3 344.8,585.38 347,587.5C349.2,589.62 351,591.88 353,594.2C355,596.52 357.18,599.3 359,601.4C360.82,603.5 362.08,604.9 363.9,606.8C365.72,608.7 368.1,610.38 369.9,612.8C371.7,615.22 373.3,618.48 374.7,621.3C376.1,624.12 377.1,627.2 378.3,629.7C379.5,632.2 380.95,634.42 381.9,636.3C382.85,638.18 383.32,638.72 384,641C384.68,643.28 385.67,648.5 386,650L72,660Z" fill="#0000ff"/>
<path d="M72,564.5C73.75,565.58 80.66,570.29 82.5,571C84.34,571.71 82.83,569.58 83.04,568.75C83.25,567.92 83.48,567.01 83.76,566.01C84.05,565.01 84.42,563.73 84.75,562.77C85.08,561.81 85.45,560.87 85.74,560.24C86.02,559.6 86.25,559.26 86.46,558.97C86.67,558.68 86.86,558.44 87,558.5C87.14,558.56 87.18,558.81 87.3,559.3C87.42,559.8 87.54,560.4 87.7,561.49C87.86,562.58 88.07,564.19 88.25,565.84C88.43,567.5 88.64,569.71 88.8,571.42C88.96,573.14 89.08,574.71 89.2,576.14C89.32,577.57 89.37,579.99 89.5,580C89.63,580.01 89.79,577.6 89.98,576.19C90.17,574.78 90.37,573.23 90.62,571.54C90.87,569.85 91.21,567.67 91.5,566.04C91.79,564.41 92.13,562.82 92.38,561.75C92.63,560.67 92.83,560.08 93.02,559.59C93.21,559.1 93.36,558.82 93.5,558.8C93.64,558.78 93.72,559.06 93.86,559.48C94,559.9 94.15,560.41 94.34,561.33C94.53,562.25 94.78,563.61 95,565.02C95.22,566.42 95.47,568.29 95.66,569.74C95.85,571.19 96,572.52 96.14,573.73C96.28,574.94 96.34,576.97 96.5,577C96.66,577.03 96.87,575.05 97.1,573.91C97.33,572.76 97.58,571.51 97.9,570.14C98.22,568.76 98.63,567 99,565.67C99.37,564.35 99.78,563.06 100.1,562.19C100.42,561.32 100.67,560.84 100.9,560.44C101.13,560.04 101.33,559.78 101.5,559.8C101.67,559.82 101.77,560.08 101.94,560.54C102.12,560.99 102.3,561.54 102.54,562.54C102.77,563.54 103.08,565.01 103.35,566.53C103.62,568.04 103.93,570.07 104.16,571.64C104.4,573.21 104.58,574.65 104.76,575.96C104.93,577.27 104.99,579.52 105.2,579.5C105.41,579.48 105.7,577.2 106.02,575.85C106.33,574.5 106.67,573.02 107.1,571.4C107.53,569.78 108.1,567.7 108.6,566.13C109.1,564.57 109.67,563.05 110.1,562.02C110.53,560.99 110.87,560.43 111.18,559.96C111.5,559.49 111.77,559.19 112,559.2C112.23,559.21 112.33,559.5 112.54,560C112.75,560.49 112.98,561.08 113.26,562.16C113.55,563.24 113.92,564.83 114.25,566.47C114.58,568.11 114.95,570.3 115.24,572C115.52,573.7 115.75,575.25 115.96,576.67C116.17,578.09 116.23,580.6 116.5,580.5C116.77,580.4 117.16,577.66 117.58,576.06C118,574.46 118.45,572.69 119.02,570.9C119.59,569.1 120.34,566.86 121,565.29C121.66,563.71 122.41,562.36 122.98,561.47C123.55,560.57 124,560.23 124.42,559.91C124.84,559.58 125.16,559.5 125.5,559.5C125.84,559.5 126.09,559.58 126.46,559.92C126.83,560.25 127.23,560.6 127.74,561.51C128.25,562.43 128.91,563.81 129.5,565.42C130.09,567.03 130.75,569.33 131.26,571.17C131.77,573.01 132.17,574.81 132.54,576.45C132.91,578.09 133.06,581.16 133.5,581C133.94,580.84 134.53,577.42 135.18,575.51C135.83,573.59 136.53,571.49 137.42,569.51C138.31,567.54 139.47,565.18 140.5,563.63C141.53,562.09 142.69,561 143.58,560.26C144.47,559.52 145.17,559.4 145.82,559.19C146.47,558.98 145.97,556.95 147.5,559C149.03,561.05 153.17,568.42 155,571.5C156.83,574.58 157.33,576.17 158.5,577.5C159.67,578.83 160.75,579.67 162,579.5C163.25,579.33 164.67,577.92 166,576.5C167.33,575.08 168.5,572.33 170,571C171.5,569.67 173.5,569.5 175,568.5C176.5,567.5 177.83,565.83 179,565C180.17,564.17 180.67,563.75 182,563.5C183.33,563.25 185.17,563.47 187,563.5C188.83,563.53 191,563.62 193,563.7C195,563.78 197.17,563.87 199,564C200.83,564.13 202.33,563.92 204,564.5C205.67,565.08 207.5,566.25 209,567.5C210.5,568.75 211.67,570.83 213,572C214.33,573.17 215.67,574.17 217,574.5C218.33,574.83 219.67,574.25 221,574C222.33,573.75 223.83,573.67 225,573C226.17,572.33 227,571.17 228,570C229,568.83 229.83,566.75 231,566C232.17,565.25 234.17,565.5 235,565.5C235.83,565.5 234.5,566.08 236,566C237.5,565.92 241.67,564.17 244,565C246.33,565.83 248,568.4 250,571C252,573.6 253.9,578.33 256,580.6C258.1,582.87 260.6,584.6 262.6,584.6C264.6,584.6 266.1,582.13 268,580.6C269.9,579.07 271.67,576.33 274,575.4C276.33,574.47 279,574.9 282,575C285,575.1 288.67,576.07 292,576C295.33,575.93 298.67,574.68 302,574.6C305.33,574.52 308.32,575.05 312,575.5C315.68,575.95 320.68,576.47 324.1,577.3C327.52,578.13 329.88,579.1 332.5,580.5C335.12,581.9 337.38,583.73 339.8,585.7C342.22,587.67 344.8,590.08 347,592.3C349.2,594.52 351,596.78 353,599C355,601.22 357.18,603.8 359,605.6C360.82,607.4 362.28,608.2 363.9,609.8C365.52,611.4 367.3,613.08 368.7,615.2C370.1,617.32 371.2,620.08 372.3,622.5C373.4,624.92 374.3,627.4 375.3,629.7C376.3,632 377.45,634.42 378.3,636.3C379.15,638.18 379.78,638.72 380.4,641C381.02,643.28 381.73,648.5 382,650L72,660Z" fill="#ff00ff"/>
<path d="M72,567C73.75,568.5 80.66,574.95 82.5,576C84.34,577.05 82.83,574.31 83.04,573.3C83.25,572.28 83.48,571.17 83.76,569.92C84.05,568.66 84.42,567.03 84.75,565.75C85.08,564.48 85.45,563.18 85.74,562.28C86.02,561.38 86.25,560.81 86.46,560.35C86.67,559.89 86.86,559.41 87,559.5C87.14,559.59 87.18,560.13 87.3,560.89C87.42,561.64 87.54,562.57 87.7,564.04C87.86,565.52 88.07,567.65 88.25,569.73C88.43,571.81 88.64,574.49 88.8,576.55C88.96,578.6 89.08,580.42 89.2,582.08C89.32,583.73 89.37,586.49 89.5,586.5C89.63,586.51 89.79,583.79 89.98,582.16C90.17,580.53 90.37,578.75 90.62,576.73C90.87,574.71 91.21,572.09 91.5,570.04C91.79,568 92.13,565.91 92.38,564.46C92.63,563.01 92.83,562.1 93.02,561.36C93.21,560.62 93.36,560.02 93.5,560C93.64,559.98 93.72,560.56 93.86,561.23C94,561.91 94.15,562.73 94.34,564.04C94.53,565.35 94.78,567.24 95,569.09C95.22,570.95 95.47,573.32 95.66,575.15C95.85,576.98 96,578.59 96.14,580.07C96.28,581.54 96.34,583.96 96.5,584C96.66,584.04 96.87,581.7 97.1,580.31C97.33,578.93 97.58,577.42 97.9,575.71C98.22,573.99 98.63,571.76 99,570.03C99.37,568.29 99.78,566.51 100.1,565.29C100.42,564.06 100.67,563.29 100.9,562.66C101.13,562.03 101.33,561.47 101.5,561.5C101.67,561.53 101.77,562.1 101.94,562.81C102.12,563.53 102.3,564.4 102.54,565.79C102.77,567.18 103.08,569.19 103.35,571.16C103.62,573.13 103.93,575.66 104.16,577.6C104.4,579.54 104.58,581.25 104.76,582.82C104.93,584.39 104.99,587.01 105.2,587C105.41,586.99 105.7,584.34 106.02,582.74C106.33,581.14 106.67,579.4 107.1,577.41C107.53,575.43 108.1,572.86 108.6,570.85C109.1,568.85 109.67,566.79 110.1,565.38C110.53,563.96 110.87,563.07 111.18,562.34C111.5,561.61 111.77,560.99 112,561C112.23,561.01 112.33,561.63 112.54,562.39C112.75,563.14 112.98,564.07 113.26,565.54C113.55,567.02 113.92,569.15 114.25,571.23C114.58,573.31 114.95,575.99 115.24,578.05C115.52,580.1 115.75,581.92 115.96,583.58C116.17,585.23 116.23,588.12 116.5,588C116.77,587.88 117.16,584.75 117.58,582.88C118,581.01 118.45,578.95 119.02,576.76C119.59,574.58 120.34,571.79 121,569.77C121.66,567.75 122.41,565.88 122.98,564.62C123.55,563.37 124,562.77 124.42,562.25C124.84,561.73 125.16,561.5 125.5,561.5C125.84,561.5 126.09,561.74 126.46,562.28C126.83,562.82 127.23,563.44 127.74,564.74C128.25,566.04 128.91,567.98 129.5,570.08C130.09,572.18 130.75,575.07 131.26,577.34C131.77,579.6 132.17,581.74 132.54,583.69C132.91,585.63 133.06,589.16 133.5,589C133.94,588.84 134.53,584.95 135.18,582.71C135.83,580.48 136.53,578.03 137.42,575.62C138.31,573.2 139.47,570.24 140.5,568.23C141.53,566.23 142.69,564.64 143.58,563.58C144.47,562.51 145.17,562.22 145.82,561.87C146.47,561.53 145.97,558.98 147.5,561.5C149.03,564.02 153.17,572.92 155,577C156.83,581.08 157.33,584.08 158.5,586C159.67,587.92 160.75,588.83 162,588.5C163.25,588.17 164.67,586.25 166,584C167.33,581.75 168.5,577.08 170,575C171.5,572.92 173.5,572.58 175,571.5C176.5,570.42 177.83,569.25 179,568.5C180.17,567.75 180.67,567.28 182,567C183.33,566.72 185.17,566.83 187,566.8C188.83,566.77 191,566.77 193,566.8C195,566.83 197.17,566.88 199,567C200.83,567.12 202.33,566.92 204,567.5C205.67,568.08 207.5,569.17 209,570.5C210.5,571.83 211.67,574.25 213,575.5C214.33,576.75 215.67,577.58 217,578C218.33,578.42 219.67,578.17 221,578C222.33,577.83 223.83,577.67 225,577C226.17,576.33 227,575.08 228,574C229,572.92 229.83,571.17 231,570.5C232.17,569.83 234.17,570.18 235,570C235.83,569.82 234.5,569.63 236,569.4C237.5,569.17 241.67,567.73 244,568.6C246.33,569.47 248,572.03 250,574.6C252,577.17 253.9,581.93 256,584C258.1,586.07 260.6,587.1 262.6,587C264.6,586.9 266.1,584.8 268,583.4C269.9,582 271.67,579.5 274,578.6C276.33,577.7 279,578 282,578C285,578 288.67,578.6 292,578.6C295.33,578.6 298.67,577.82 302,578C305.33,578.18 308.32,579.02 312,579.7C315.68,580.38 320.88,580.8 324.1,582.1C327.32,583.4 328.88,585.58 331.3,587.5C333.72,589.42 336.18,591.28 338.6,593.6C341.02,595.92 343.8,599.4 345.8,601.4C347.8,603.4 348.8,604.2 350.6,605.6C352.4,607 354.8,608.2 356.6,609.8C358.4,611.4 360.08,613.08 361.4,615.2C362.72,617.32 363.48,620.28 364.5,622.5C365.52,624.72 366.2,626.2 367.5,628.5C368.8,630.8 371.15,634.22 372.3,636.3C373.45,638.38 373.78,638.72 374.4,641C375.02,643.28 375.73,648.5 376,650L72,660Z" fill="#b3b3b3"/>
<path d="M72,568C73.75,569.5 80.66,575.94 82.5,577C84.34,578.06 82.83,575.37 83.04,574.38C83.25,573.4 83.48,572.32 83.76,571.09C84.05,569.85 84.42,568.24 84.75,566.97C85.08,565.7 85.45,564.38 85.74,563.46C86.02,562.54 86.25,561.94 86.46,561.44C86.67,560.95 86.86,560.39 87,560.5C87.14,560.61 87.18,561.28 87.3,562.13C87.42,562.98 87.54,564.02 87.7,565.61C87.86,567.2 88.07,569.48 88.25,571.68C88.43,573.88 88.64,576.66 88.8,578.79C88.96,580.92 89.08,582.78 89.2,584.48C89.32,586.18 89.37,588.99 89.5,589C89.63,589.01 89.79,586.23 89.98,584.56C90.17,582.89 90.37,581.07 90.62,578.97C90.87,576.87 91.21,574.14 91.5,571.98C91.79,569.83 92.13,567.59 92.38,566.02C92.63,564.46 92.83,563.44 93.02,562.6C93.21,561.76 93.36,561.02 93.5,561C93.64,560.98 93.72,561.69 93.86,562.46C94,563.22 94.15,564.15 94.34,565.57C94.53,567 94.78,569.04 95,571C95.22,572.97 95.47,575.46 95.66,577.37C95.85,579.27 96,580.94 96.14,582.46C96.28,583.98 96.34,586.46 96.5,586.5C96.66,586.54 96.87,584.13 97.1,582.7C97.33,581.26 97.58,579.7 97.9,577.9C98.22,576.11 98.63,573.76 99,571.92C99.37,570.07 99.78,568.14 100.1,566.8C100.42,565.46 100.67,564.59 100.9,563.87C101.13,563.15 101.33,562.47 101.5,562.5C101.67,562.53 101.77,563.24 101.94,564.04C102.12,564.85 102.3,565.83 102.54,567.34C102.77,568.85 103.08,571.01 103.35,573.09C103.62,575.17 103.93,577.81 104.16,579.83C104.4,581.85 104.58,583.61 104.76,585.22C104.93,586.83 104.99,589.51 105.2,589.5C105.41,589.49 105.7,586.8 106.02,585.17C106.33,583.54 106.67,581.76 107.1,579.72C107.53,577.68 108.1,575.01 108.6,572.91C109.1,570.81 109.67,568.62 110.1,567.1C110.53,565.57 110.87,564.58 111.18,563.76C111.5,562.94 111.77,562.19 112,562.2C112.23,562.21 112.33,562.98 112.54,563.85C112.75,564.71 112.98,565.76 113.26,567.36C113.55,568.97 113.92,571.28 114.25,573.5C114.58,575.72 114.95,578.53 115.24,580.68C115.52,582.84 115.75,584.72 115.96,586.44C116.17,588.15 116.23,591.12 116.5,591C116.77,590.88 117.16,587.66 117.58,585.73C118,583.79 118.45,581.65 119.02,579.36C119.59,577.07 120.34,574.14 121,571.97C121.66,569.81 122.41,567.76 122.98,566.39C123.55,565.01 124,564.31 124.42,563.71C124.84,563.11 125.16,562.79 125.5,562.8C125.84,562.81 126.09,563.13 126.46,563.76C126.83,564.39 127.23,565.13 127.74,566.58C128.25,568.03 128.91,570.18 129.5,572.46C130.09,574.74 130.75,577.83 131.26,580.24C131.77,582.66 132.17,584.9 132.54,586.94C132.91,588.99 133.06,592.66 133.5,592.5C133.94,592.34 134.53,588.3 135.18,585.97C135.83,583.64 136.53,581.07 137.42,578.51C138.31,575.95 139.47,572.77 140.5,570.6C141.53,568.42 142.69,566.63 143.58,565.44C144.47,564.25 145.17,563.87 145.82,563.46C146.47,563.06 145.97,559.91 147.5,563C149.03,566.09 153.17,577.42 155,582C156.83,586.58 157.33,588.67 158.5,590.5C159.67,592.33 160.75,593.42 162,593C163.25,592.58 164.67,590.42 166,588C167.33,585.58 168.5,580.83 170,578.5C171.5,576.17 173.5,575.33 175,574C176.5,572.67 177.83,571.33 179,570.5C180.17,569.67 180.67,569.33 182,569C183.33,568.67 185.17,568.58 187,568.5C188.83,568.42 191,568.45 193,568.5C195,568.55 197.17,568.63 199,568.8C200.83,568.97 202.33,568.8 204,569.5C205.67,570.2 207.5,571.58 209,573C210.5,574.42 211.67,576.92 213,578C214.33,579.08 215.67,579.25 217,579.5C218.33,579.75 219.67,579.67 221,579.5C222.33,579.33 223.83,579.17 225,578.5C226.17,577.83 227,576.42 228,575.5C229,574.58 229.83,573.45 231,573C232.17,572.55 234.17,572.97 235,572.8C235.83,572.63 234.5,572.3 236,572C237.5,571.7 241.67,570.1 244,571C246.33,571.9 248,574.8 250,577.4C252,580 253.9,584.67 256,586.6C258.1,588.53 260.6,589.1 262.6,589C264.6,588.9 266.1,587.33 268,586C269.9,584.67 271.67,581.9 274,581C276.33,580.1 279,580.6 282,580.6C285,580.6 288.67,580.93 292,581C295.33,581.07 298.67,580.88 302,581C305.33,581.12 308.52,581.22 312,581.7C315.48,582.18 319.88,582.53 322.9,583.9C325.92,585.27 327.7,587.78 330.1,589.9C332.5,592.02 334.88,594.28 337.3,596.6C339.72,598.92 342.58,601.9 344.6,603.8C346.62,605.7 347.6,606.7 349.4,608C351.2,609.3 353.7,610.2 355.4,611.6C357.1,613 358.38,614.38 359.6,616.4C360.82,618.42 361.68,621.48 362.7,623.7C363.72,625.92 364.7,627.6 365.7,629.7C366.7,631.8 367.85,634.42 368.7,636.3C369.55,638.18 370.25,638.72 370.8,641C371.35,643.28 371.8,648.5 372,650L72,660Z" fill="#ffffff"/>
<path d="M503,425C503.85,427.47 506.55,436.13 508.1,439.8C509.65,443.47 510.9,444.18 512.3,447C513.7,449.82 515,453.88 516.5,456.7C518,459.52 519.7,461.9 521.3,463.9C522.9,465.9 524.48,466.68 526.1,468.7C527.72,470.72 529.18,473.38 531,476C532.82,478.62 535,481.8 537,484.4C539,487 541,489.28 543,491.6C545,493.92 546.98,496.48 549,498.3C551.02,500.12 552.88,501.4 555.1,502.5C557.32,503.6 559.1,504.27 562.3,504.9C565.5,505.53 569.68,505.95 574.3,506.3C578.92,506.65 586.05,506.95 590,507C593.95,507.05 594.67,506.77 598,506.6C601.33,506.43 606.33,506.43 610,506C613.67,505.57 617.07,505 620,504C622.93,503 625.27,500.17 627.6,500C629.93,499.83 631.93,501.33 634,503C636.07,504.67 638.17,508.07 640,510C641.83,511.93 643.33,513.52 645,514.6C646.67,515.68 648.33,516.23 650,516.5C651.67,516.77 653.33,516.37 655,516.2C656.67,516.03 658.5,516.2 660,515.5C661.5,514.8 662.67,512.75 664,512C665.33,511.25 666.5,511.17 668,511C669.5,510.83 671.5,510.33 673,511C674.5,511.67 675.67,513.87 677,515C678.33,516.13 679.5,517.1 681,517.8C682.5,518.5 684.17,518.75 686,519.2C687.83,519.65 690,520.12 692,520.5C694,520.88 696,521.28 698,521.5C700,521.72 702.17,521.97 704,521.8C705.83,521.63 707.33,521.05 709,520.5C710.67,519.95 712.5,519.58 714,518.5C715.5,517.42 716.67,515.83 718,514C719.33,512.17 720.67,509.83 722,507.5C723.33,505.17 724.58,502.17 726,500C727.42,497.83 729.42,494.31 730.5,494.5C731.58,494.69 731.71,498.82 732.48,501.15C733.25,503.47 734.08,506.02 735.12,508.44C736.16,510.86 737.54,513.76 738.75,515.66C739.96,517.57 741.34,518.95 742.38,519.88C743.42,520.81 744.25,520.98 745.02,521.25C745.79,521.52 746.45,521.48 747,521.5C747.55,521.52 747.82,521.54 748.34,521.38C748.87,521.22 749.43,521.19 750.14,520.55C750.85,519.9 751.78,518.99 752.6,517.52C753.42,516.04 754.35,513.72 755.06,511.71C755.77,509.7 756.33,507.48 756.86,505.45C757.38,503.41 757.8,499.69 758.2,499.5C758.6,499.31 758.85,502.61 759.26,504.32C759.67,506.03 760.11,507.91 760.66,509.76C761.22,511.6 761.95,513.86 762.6,515.39C763.25,516.92 763.98,518.13 764.54,518.94C765.09,519.74 765.53,519.96 765.94,520.22C766.35,520.48 766.69,520.5 767,520.5C767.31,520.5 767.5,520.48 767.82,520.24C768.13,520 768.47,519.79 768.9,519.05C769.33,518.3 769.9,517.18 770.4,515.76C770.9,514.34 771.47,512.24 771.9,510.52C772.33,508.81 772.67,507.06 772.98,505.48C773.3,503.89 773.53,501.11 773.8,501C774.07,500.89 774.29,503.42 774.6,504.81C774.92,506.2 775.25,507.73 775.68,509.34C776.1,510.96 776.66,513.01 777.15,514.5C777.64,515.98 778.2,517.35 778.62,518.26C779.05,519.17 779.38,519.6 779.7,519.97C780.01,520.34 780.27,520.5 780.5,520.5C780.73,520.5 780.87,520.35 781.1,519.98C781.33,519.62 781.58,519.21 781.9,518.32C782.22,517.43 782.63,516.1 783,514.65C783.37,513.2 783.78,511.2 784.1,509.63C784.42,508.06 784.67,506.57 784.9,505.21C785.13,503.86 785.31,501.52 785.5,501.5C785.69,501.48 785.82,503.77 786.02,505.07C786.22,506.38 786.43,507.82 786.7,509.33C786.98,510.85 787.33,512.77 787.65,514.17C787.97,515.56 788.32,516.84 788.6,517.7C788.87,518.55 789.08,518.95 789.28,519.3C789.48,519.65 789.62,519.8 789.8,519.8C789.98,519.8 790.14,519.66 790.36,519.33C790.58,519 790.82,518.62 791.12,517.81C791.41,517 791.81,515.79 792.15,514.48C792.49,513.16 792.89,511.34 793.18,509.9C793.48,508.47 793.72,507.11 793.94,505.88C794.16,504.65 794.33,502.53 794.5,502.5C794.67,502.47 794.79,504.55 794.98,505.72C795.17,506.9 795.37,508.19 795.62,509.56C795.87,510.93 796.21,512.66 796.5,513.92C796.79,515.18 797.13,516.33 797.38,517.1C797.63,517.88 797.83,518.24 798.02,518.55C798.21,518.87 798.35,519 798.5,519C798.65,519 798.74,518.88 798.9,518.58C799.05,518.28 799.21,517.94 799.42,517.22C799.63,516.49 799.91,515.41 800.15,514.23C800.39,513.05 800.67,511.42 800.88,510.13C801.09,508.85 801.25,507.63 801.4,506.53C801.56,505.42 801.67,503.57 801.8,503.5C801.93,503.43 802.02,505.17 802.16,506.14C802.3,507.1 802.45,508.16 802.64,509.28C802.83,510.39 803.08,511.82 803.3,512.84C803.52,513.87 803.77,514.82 803.96,515.45C804.15,516.08 804.3,516.37 804.44,516.63C804.58,516.89 804.67,516.99 804.8,517C804.93,517.01 805.05,516.9 805.21,516.67C805.37,516.44 805.54,516.18 805.75,515.62C805.97,515.06 806.25,514.22 806.5,513.31C806.75,512.39 807.03,511.13 807.25,510.13C807.46,509.14 807.63,508.2 807.79,507.34C807.95,506.49 807.33,503.39 808.2,505C809.07,506.61 811.37,515 813,517C814.63,519 817.17,517 818,517L818,425Z" fill="#0000ff"/>
<path d="M507,425C507.88,427.47 510.82,436.13 512.3,439.8C513.78,443.47 514.6,444.38 515.9,447C517.2,449.62 518.6,452.98 520.1,455.5C521.6,458.02 523.28,460.2 524.9,462.1C526.52,464 528.18,464.98 529.8,466.9C531.42,468.82 532.8,471.18 534.6,473.6C536.4,476.02 538.6,478.9 540.6,481.4C542.6,483.9 544.58,486.3 546.6,488.6C548.62,490.9 550.68,493.38 552.7,495.2C554.72,497.02 556.5,498.38 558.7,499.5C560.9,500.62 562.9,501.2 565.9,501.9C568.9,502.6 572.68,503.25 576.7,503.7C580.72,504.15 586.45,504.55 590,504.6C593.55,504.65 594.67,504.2 598,504C601.33,503.8 606.33,503.9 610,503.4C613.67,502.9 617.07,502.07 620,501C622.93,499.93 625.27,497.17 627.6,497C629.93,496.83 631.93,498.4 634,500C636.07,501.6 638.17,504.6 640,506.6C641.83,508.6 643.33,510.93 645,512C646.67,513.07 648.33,512.83 650,513C651.67,513.17 653.33,513.08 655,513C656.67,512.92 658.5,513.17 660,512.5C661.5,511.83 662.67,509.75 664,509C665.33,508.25 666.5,508.08 668,508C669.5,507.92 671.5,507.83 673,508.5C674.5,509.17 675.67,510.83 677,512C678.33,513.17 679.5,514.67 681,515.5C682.5,516.33 684.17,516.62 686,517C687.83,517.38 690,517.55 692,517.8C694,518.05 696,518.33 698,518.5C700,518.67 702.17,518.88 704,518.8C705.83,518.72 707.33,518.47 709,518C710.67,517.53 712.5,517 714,516C715.5,515 716.67,513.67 718,512C719.33,510.33 720.67,508.25 722,506C723.33,503.75 724.58,500.83 726,498.5C727.42,496.17 729.42,492.08 730.5,492C731.58,491.92 731.71,495.88 732.48,498.02C733.25,500.16 734.08,502.51 735.12,504.83C736.16,507.15 737.54,510 738.75,511.94C739.96,513.88 741.34,515.43 742.38,516.46C743.42,517.49 744.25,517.79 745.02,518.13C745.79,518.47 746.45,518.47 747,518.5C747.55,518.53 747.82,518.52 748.34,518.31C748.87,518.09 749.43,517.97 750.14,517.21C750.85,516.45 751.78,515.34 752.6,513.76C753.42,512.18 754.35,509.77 755.06,507.75C755.77,505.72 756.33,503.58 756.86,501.62C757.38,499.66 757.8,496.16 758.2,496C758.6,495.84 758.85,498.98 759.26,500.66C759.67,502.33 760.11,504.18 760.66,506.06C761.22,507.94 761.95,510.29 762.6,511.94C763.25,513.59 763.98,515 764.54,515.94C765.09,516.88 765.53,517.23 765.94,517.57C766.35,517.92 766.69,518 767,518C767.31,518 767.5,517.92 767.82,517.59C768.13,517.27 768.47,516.93 768.9,516.03C769.33,515.14 769.9,513.79 770.4,512.21C770.9,510.64 771.47,508.4 771.9,506.6C772.33,504.81 772.67,503.04 772.98,501.44C773.3,499.84 773.53,497.1 773.8,497C774.07,496.9 774.29,499.43 774.6,500.86C774.92,502.29 775.25,503.86 775.68,505.58C776.1,507.29 776.66,509.5 777.15,511.16C777.64,512.81 778.2,514.42 778.62,515.51C779.05,516.6 779.38,517.2 779.7,517.7C780.01,518.19 780.27,518.5 780.5,518.5C780.73,518.5 780.87,518.2 781.1,517.71C781.33,517.23 781.58,516.64 781.9,515.58C782.22,514.52 782.63,512.95 783,511.33C783.37,509.71 783.78,507.55 784.1,505.88C784.42,504.2 784.67,502.67 784.9,501.27C785.13,499.88 785.31,497.51 785.5,497.5C785.69,497.49 785.82,499.82 786.02,501.18C786.22,502.55 786.43,504.04 786.7,505.68C786.98,507.32 787.33,509.42 787.65,511C787.97,512.58 788.32,514.11 788.6,515.15C788.87,516.19 789.08,516.76 789.28,517.23C789.48,517.71 789.62,517.99 789.8,518C789.98,518.01 790.14,517.73 790.36,517.29C790.58,516.85 790.82,516.32 791.12,515.36C791.41,514.4 791.81,512.97 792.15,511.51C792.49,510.05 792.89,508.1 793.18,506.58C793.48,505.07 793.72,503.68 793.94,502.42C794.16,501.15 794.33,499.03 794.5,499C794.67,498.97 794.79,501.04 794.98,502.24C795.17,503.43 795.37,504.75 795.62,506.18C795.87,507.62 796.21,509.47 796.5,510.85C796.79,512.24 797.13,513.59 797.38,514.5C797.63,515.41 797.83,515.91 798.02,516.33C798.21,516.74 798.35,516.99 798.5,517C798.65,517.01 798.74,516.76 798.9,516.36C799.05,515.97 799.21,515.5 799.42,514.64C799.63,513.77 799.91,512.5 800.15,511.19C800.39,509.89 800.67,508.14 800.88,506.78C801.09,505.43 801.25,504.19 801.4,503.06C801.56,501.93 801.67,500.04 801.8,500C801.93,499.96 802.02,501.76 802.16,502.79C802.3,503.82 802.45,504.95 802.64,506.18C802.83,507.42 803.08,509.01 803.3,510.21C803.52,511.4 803.77,512.56 803.96,513.35C804.15,514.13 804.3,514.56 804.44,514.92C804.58,515.28 804.67,515.49 804.8,515.5C804.93,515.51 805.05,515.29 805.21,514.96C805.37,514.62 805.54,514.22 805.75,513.48C805.97,512.75 806.25,511.66 806.5,510.55C806.75,509.43 807.03,507.94 807.25,506.79C807.46,505.63 807.63,504.57 807.79,503.61C807.95,502.64 807.33,499.02 808.2,501C809.07,502.98 811.37,513.08 813,515.5C814.63,517.92 817.17,515.5 818,515.5L818,425Z" fill="#ff00ff"/>
<path d="M513.5,425C514.4,427.47 517.4,436.13 518.9,439.8C520.4,443.47 521.4,444.58 522.5,447C523.6,449.42 524.28,451.98 525.5,454.3C526.72,456.62 528.08,458.9 529.8,460.9C531.52,462.9 534,464.4 535.8,466.3C537.6,468.2 538.8,470.08 540.6,472.3C542.4,474.52 544.58,477.28 546.6,479.6C548.62,481.92 550.68,484.1 552.7,486.2C554.72,488.3 556.9,490.6 558.7,492.2C560.5,493.8 561.7,494.93 563.5,495.8C565.3,496.67 566.88,496.88 569.5,497.4C572.12,497.92 575.78,498.45 579.2,498.9C582.62,499.35 586.53,499.98 590,500.1C593.47,500.22 596.33,499.78 600,499.6C603.67,499.42 608.5,499.6 612,499C615.5,498.4 618.4,497 621,496C623.6,495 625.43,493 627.6,493C629.77,493 631.93,494.33 634,496C636.07,497.67 638.17,501.17 640,503C641.83,504.83 643.33,506.25 645,507C646.67,507.75 648.33,507.42 650,507.5C651.67,507.58 653.33,507.5 655,507.5C656.67,507.5 658.5,507.83 660,507.5C661.5,507.17 662.67,505.83 664,505.5C665.33,505.17 666.5,505.38 668,505.5C669.5,505.62 671.5,505.53 673,506.2C674.5,506.87 675.67,508.28 677,509.5C678.33,510.72 679.5,512.58 681,513.5C682.5,514.42 684.17,514.58 686,515C687.83,515.42 690,515.75 692,516C694,516.25 696,516.37 698,516.5C700,516.63 702.17,516.88 704,516.8C705.83,516.72 707.33,516.47 709,516C710.67,515.53 712.5,515.08 714,514C715.5,512.92 716.67,511.25 718,509.5C719.33,507.75 720.67,506.17 722,503.5C723.33,500.83 724.58,496.25 726,493.5C727.42,490.75 729.42,487.08 730.5,487C731.58,486.92 731.71,490.84 732.48,493.02C733.25,495.19 734.08,497.59 735.12,500.05C736.16,502.51 737.54,505.6 738.75,507.79C739.96,509.97 741.34,511.87 742.38,513.14C743.42,514.41 744.25,514.91 745.02,515.39C745.79,515.86 746.45,515.96 747,516C747.55,516.04 747.82,515.97 748.34,515.63C748.87,515.28 749.43,514.99 750.14,513.92C750.85,512.86 751.78,511.27 752.6,509.27C753.42,507.26 754.35,504.3 755.06,501.88C755.77,499.47 756.33,497.02 756.86,494.79C757.38,492.55 757.8,488.67 758.2,488.5C758.6,488.33 758.85,491.85 759.26,493.78C759.67,495.71 760.11,497.83 760.66,500.08C761.22,502.33 761.95,505.2 762.6,507.28C763.25,509.36 763.98,511.29 764.54,512.58C765.09,513.87 765.53,514.49 765.94,515.03C766.35,515.56 766.69,515.8 767,515.8C767.31,515.8 767.5,515.56 767.82,515.01C768.13,514.47 768.47,513.84 768.9,512.52C769.33,511.21 769.9,509.25 770.4,507.12C770.9,505 771.47,502.08 771.9,499.79C772.33,497.5 772.67,495.34 772.98,493.37C773.3,491.41 773.53,488.12 773.8,488C774.07,487.88 774.29,490.92 774.6,492.67C774.92,494.42 775.25,496.33 775.68,498.51C776.1,500.68 776.66,503.5 777.15,505.7C777.64,507.9 778.2,510.15 778.62,511.7C779.05,513.26 779.38,514.24 779.7,515.04C780.01,515.83 780.27,516.5 780.5,516.5C780.73,516.5 780.87,515.85 781.1,515.06C781.33,514.28 781.58,513.32 781.9,511.79C782.22,510.26 782.63,508.05 783,505.89C783.37,503.73 783.78,500.96 784.1,498.82C784.42,496.69 784.67,494.81 784.9,493.09C785.13,491.37 785.31,488.5 785.5,488.5C785.69,488.5 785.82,491.37 786.02,493.09C786.22,494.81 786.43,496.69 786.7,498.82C786.98,500.96 787.33,503.73 787.65,505.89C787.97,508.05 788.32,510.26 788.6,511.79C788.87,513.32 789.08,514.28 789.28,515.06C789.48,515.85 789.62,516.49 789.8,516.5C789.98,516.51 790.14,515.88 790.36,515.14C790.58,514.4 790.82,513.49 791.12,512.04C791.41,510.59 791.81,508.5 792.15,506.46C792.49,504.41 792.89,501.79 793.18,499.77C793.48,497.75 793.72,495.97 793.94,494.34C794.16,492.71 794.33,490.03 794.5,490C794.67,489.97 794.79,492.61 794.98,494.18C795.17,495.75 795.37,497.46 795.62,499.4C795.87,501.34 796.21,503.87 796.5,505.84C796.79,507.81 797.13,509.82 797.38,511.21C797.63,512.6 797.83,513.47 798.02,514.19C798.21,514.9 798.35,515.49 798.5,515.5C798.65,515.51 798.74,514.93 798.9,514.24C799.05,513.55 799.21,512.71 799.42,511.38C799.63,510.04 799.91,508.11 800.15,506.22C800.39,504.33 800.67,501.9 800.88,500.03C801.09,498.17 801.25,496.52 801.4,495.01C801.56,493.51 801.67,491.04 801.8,491C801.93,490.96 802.02,493.36 802.16,494.77C802.3,496.18 802.45,497.73 802.64,499.48C802.83,501.23 803.08,503.51 803.3,505.28C803.52,507.06 803.77,508.87 803.96,510.13C804.15,511.39 804.3,512.17 804.44,512.82C804.58,513.46 804.67,513.98 804.8,514C804.93,514.02 805.05,513.51 805.21,512.92C805.37,512.33 805.54,511.61 805.75,510.47C805.97,509.32 806.25,507.66 806.5,506.04C806.75,504.42 807.03,502.34 807.25,500.74C807.46,499.14 807.63,497.73 807.79,496.44C807.95,495.15 807.33,490.07 808.2,493C809.07,495.93 811.37,510.5 813,514C814.63,517.5 817.17,514 818,514L818,425Z" fill="#b3b3b3"/>
<path d="M515,425C515.95,427.47 519.05,436.13 520.7,439.8C522.35,443.47 523.58,444.58 524.9,447C526.22,449.42 527.38,452.08 528.6,454.3C529.82,456.52 530.6,458.5 532.2,460.3C533.8,462.1 536.4,463.6 538.2,465.1C540,466.6 541.4,467.58 543,469.3C544.6,471.02 545.98,473.28 547.8,475.4C549.62,477.52 551.88,479.8 553.9,482C555.92,484.2 558.1,486.8 559.9,488.6C561.7,490.4 562.9,491.73 564.7,492.8C566.5,493.87 568.08,494.4 570.7,495C573.32,495.6 577.18,495.95 580.4,496.4C583.62,496.85 586.73,497.5 590,497.7C593.27,497.9 596.33,497.72 600,497.6C603.67,497.48 608.5,497.6 612,497C615.5,496.4 618.4,495.07 621,494C623.6,492.93 625.43,490.6 627.6,490.6C629.77,490.6 631.93,492.27 634,494C636.07,495.73 638.17,499.17 640,501C641.83,502.83 643.33,504.33 645,505C646.67,505.67 648.33,504.92 650,505C651.67,505.08 653.33,505.42 655,505.5C656.67,505.58 658.5,505.83 660,505.5C661.5,505.17 662.67,503.83 664,503.5C665.33,503.17 666.5,503.33 668,503.5C669.5,503.67 671.5,503.83 673,504.5C674.5,505.17 675.67,506.33 677,507.5C678.33,508.67 679.5,510.5 681,511.5C682.5,512.5 684.17,513 686,513.5C687.83,514 690,514.22 692,514.5C694,514.78 696,515.03 698,515.2C700,515.37 702.17,515.62 704,515.5C705.83,515.38 707.33,515 709,514.5C710.67,514 712.5,513.58 714,512.5C715.5,511.42 716.67,509.83 718,508C719.33,506.17 720.67,504.33 722,501.5C723.33,498.67 724.58,494 726,491C727.42,488 729.42,483.69 730.5,483.5C731.58,483.31 731.71,487.53 732.48,489.83C733.25,492.13 734.08,494.66 735.12,497.3C736.16,499.94 737.54,503.28 738.75,505.67C739.96,508.05 741.34,510.2 742.38,511.63C743.42,513.05 744.25,513.68 745.02,514.24C745.79,514.8 746.45,514.95 747,515C747.55,515.05 747.82,514.94 748.34,514.53C748.87,514.11 749.43,513.73 750.14,512.52C750.85,511.31 751.78,509.49 752.6,507.28C753.42,505.06 754.35,501.84 755.06,499.23C755.77,496.62 756.33,494.01 756.86,491.64C757.38,489.27 757.8,485.17 758.2,485C758.6,484.83 758.85,488.55 759.26,490.61C759.67,492.67 760.11,494.94 760.66,497.38C761.22,499.82 761.95,502.94 762.6,505.24C763.25,507.54 763.98,509.72 764.54,511.18C765.09,512.65 765.53,513.4 765.94,514.03C766.35,514.67 766.69,515 767,515C767.31,515 767.5,514.66 767.82,514.02C768.13,513.37 768.47,512.61 768.9,511.12C769.33,509.63 769.9,507.42 770.4,505.08C770.9,502.74 771.47,499.57 771.9,497.09C772.33,494.61 772.67,492.3 772.98,490.21C773.3,488.11 773.53,484.63 773.8,484.5C774.07,484.37 774.29,487.56 774.6,489.41C774.92,491.26 775.25,493.28 775.68,495.6C776.1,497.93 776.66,500.95 777.15,503.34C777.64,505.73 778.2,508.21 778.62,509.94C779.05,511.67 779.38,512.8 779.7,513.73C780.01,514.66 780.27,515.5 780.5,515.5C780.73,515.5 780.87,514.67 781.1,513.76C781.33,512.85 781.58,511.73 781.9,510.03C782.22,508.33 782.63,505.89 783,503.54C783.37,501.18 783.78,498.21 784.1,495.93C784.42,493.64 784.67,491.66 784.9,489.83C785.13,488.01 785.31,485 785.5,485C785.69,485 785.82,488.01 786.02,489.83C786.22,491.66 786.43,493.64 786.7,495.93C786.98,498.21 787.33,501.18 787.65,503.54C787.97,505.89 788.32,508.33 788.6,510.03C788.87,511.73 789.08,512.85 789.28,513.76C789.48,514.67 789.62,515.48 789.8,515.5C789.98,515.52 790.14,514.72 790.36,513.87C790.58,513.02 790.82,511.98 791.12,510.39C791.41,508.8 791.81,506.52 792.15,504.32C792.49,502.12 792.89,499.34 793.18,497.21C793.48,495.08 793.72,493.22 793.94,491.52C794.16,489.82 794.33,487.03 794.5,487C794.67,486.97 794.79,489.72 794.98,491.36C795.17,493 795.37,494.79 795.62,496.85C795.87,498.91 796.21,501.59 796.5,503.71C796.79,505.83 797.13,508.03 797.38,509.57C797.63,511.1 797.83,512.11 798.02,512.93C798.21,513.75 798.35,514.49 798.5,514.5C798.65,514.51 798.74,513.78 798.9,512.99C799.05,512.19 799.21,511.23 799.42,509.75C799.63,508.27 799.91,506.15 800.15,504.1C800.39,502.06 800.67,499.48 800.88,497.49C801.09,495.51 801.25,493.78 801.4,492.2C801.56,490.62 801.67,488.04 801.8,488C801.93,487.96 802.02,490.47 802.16,491.96C802.3,493.46 802.45,495.08 802.64,496.96C802.83,498.83 803.08,501.27 803.3,503.19C803.52,505.12 803.77,507.12 803.96,508.52C804.15,509.91 804.3,510.82 804.44,511.57C804.58,512.32 804.67,512.98 804.8,513C804.93,513.02 805.05,512.37 805.21,511.69C805.37,511 805.54,510.16 805.75,508.88C805.97,507.59 806.25,505.75 806.5,503.98C806.75,502.2 807.03,499.96 807.25,498.24C807.46,496.52 807.63,495.02 807.79,493.65C807.95,492.27 807.33,486.77 808.2,490C809.07,493.23 811.37,509.17 813,513C814.63,516.83 817.17,513 818,513L818,425Z" fill="#ffffff"/>
<path d="M505,648C505.92,645.95 508.98,638.95 510.5,635.7C512.02,632.45 512.8,631.1 514.1,628.5C515.4,625.9 516.9,622.72 518.3,620.1C519.7,617.48 521,614.82 522.5,612.8C524,610.78 525.68,609.8 527.3,608C528.92,606.2 530.38,604.4 532.2,602C534.02,599.6 536.4,596.22 538.2,593.6C540,590.98 541.9,588.42 543,586.3C544.1,584.18 544,582.5 544.8,580.9C545.6,579.3 546.28,578 547.8,576.7C549.32,575.4 551.48,574.1 553.9,573.1C556.32,572.1 558.9,571.35 562.3,570.7C565.7,570.05 569.68,569.57 574.3,569.2C578.92,568.83 586.05,568.47 590,568.5C593.95,568.53 594.67,569.15 598,569.4C601.33,569.65 606.33,569.57 610,570C613.67,570.43 617.07,571 620,572C622.93,573 625.27,575.83 627.6,576C629.93,576.17 631.93,574.5 634,573C636.07,571.5 638.17,568.93 640,567C641.83,565.07 643.33,562.47 645,561.4C646.67,560.33 649.17,560.83 650,560.6C650.83,560.37 649.17,560.05 650,560C650.83,559.95 653.33,560.13 655,560.3C656.67,560.47 658.5,559.97 660,561C661.5,562.03 662.67,565.25 664,566.5C665.33,567.75 666.5,568.08 668,568.5C669.5,568.92 671.5,569.58 673,569C674.5,568.42 675.67,566.25 677,565C678.33,563.75 679.5,562.42 681,561.5C682.5,560.58 684.17,559.95 686,559.5C687.83,559.05 690,559 692,558.8C694,558.6 696,558.4 698,558.3C700,558.2 702.17,558.22 704,558.2C705.83,558.18 707.33,558.15 709,558.2C710.67,558.25 712.5,557.78 714,558.5C715.5,559.22 716.67,560.75 718,562.5C719.33,564.25 720.67,566.42 722,569C723.33,571.58 724.83,575.83 726,578C727.17,580.17 728.08,581.2 729,582C729.92,582.8 730.83,582.63 731.5,582.8C732.17,582.97 732.25,584.13 733,583C733.75,581.87 734.83,579.17 736,576C737.17,572.83 738.17,567.25 740,564C741.83,560.75 745.61,557.65 747,556.5C748.39,555.35 747.82,556.68 748.34,557.1C748.87,557.52 749.43,558 750.14,559.03C750.85,560.06 751.78,561.59 752.6,563.27C753.42,564.95 754.35,567.26 755.06,569.09C755.77,570.91 756.33,572.63 756.86,574.2C757.38,575.77 757.8,578.64 758.2,578.5C758.6,578.36 758.85,575.17 759.26,573.34C759.67,571.5 760.11,569.49 760.66,567.51C761.22,565.53 761.95,563.11 762.6,561.47C763.25,559.83 763.98,558.54 764.54,557.68C765.09,556.81 765.53,556.58 765.94,556.3C766.35,556.02 766.69,556.01 767,556C767.31,555.99 767.5,556.02 767.82,556.26C768.13,556.5 768.47,556.71 768.9,557.45C769.33,558.2 769.9,559.32 770.4,560.74C770.9,562.16 771.47,564.26 771.9,565.98C772.33,567.69 772.67,569.44 772.98,571.02C773.3,572.61 773.53,575.39 773.8,575.5C774.07,575.61 774.29,573.08 774.6,571.69C774.92,570.3 775.25,568.77 775.68,567.16C776.1,565.54 776.66,563.49 777.15,562C777.64,560.52 778.2,559.15 778.62,558.24C779.05,557.33 779.38,556.9 779.7,556.53C780.01,556.16 780.27,556 780.5,556C780.73,556 780.87,556.15 781.1,556.52C781.33,556.88 781.58,557.29 781.9,558.18C782.22,559.07 782.63,560.4 783,561.85C783.37,563.3 783.78,565.3 784.1,566.87C784.42,568.44 784.67,569.93 784.9,571.29C785.13,572.64 785.31,574.98 785.5,575C785.69,575.02 785.82,572.71 786.02,571.39C786.22,570.07 786.43,568.62 786.7,567.08C786.98,565.55 787.33,563.6 787.65,562.19C787.97,560.78 788.32,559.49 788.6,558.62C788.87,557.76 789.08,557.36 789.28,557C789.48,556.65 789.62,556.5 789.8,556.5C789.98,556.5 790.14,556.65 790.36,556.99C790.58,557.33 790.82,557.73 791.12,558.57C791.41,559.41 791.81,560.67 792.15,562.04C792.49,563.41 792.89,565.31 793.18,566.8C793.48,568.29 793.72,569.7 793.94,570.98C794.16,572.27 794.33,574.48 794.5,574.5C794.67,574.52 794.79,572.35 794.98,571.12C795.17,569.89 795.37,568.53 795.62,567.1C795.87,565.66 796.21,563.84 796.5,562.52C796.79,561.21 797.13,560 797.38,559.19C797.63,558.38 797.83,558 798.02,557.67C798.21,557.34 798.35,557.2 798.5,557.2C798.65,557.2 798.74,557.34 798.9,557.66C799.05,557.98 799.21,558.34 799.42,559.13C799.63,559.92 799.91,561.09 800.15,562.37C800.39,563.65 800.67,565.42 800.88,566.81C801.09,568.2 801.25,569.52 801.4,570.72C801.56,571.92 801.67,573.96 801.8,574C801.93,574.04 802.02,572.08 802.16,570.97C802.3,569.87 802.45,568.65 802.64,567.37C802.83,566.08 803.08,564.45 803.3,563.27C803.52,562.09 803.77,561.01 803.96,560.28C804.15,559.56 804.3,559.22 804.44,558.92C804.58,558.62 804.67,558.5 804.8,558.5C804.93,558.5 805.05,558.62 805.21,558.89C805.37,559.17 805.54,559.49 805.75,560.17C805.97,560.84 806.25,561.86 806.5,562.96C806.75,564.07 807.03,565.59 807.25,566.8C807.46,568 807.63,569.13 807.79,570.17C807.95,571.2 807.33,574.61 808.2,573C809.07,571.39 811.37,562.58 813,560.5C814.63,558.42 817.17,560.5 818,560.5L818,660L480,660Z" fill="#0000ff"/>
<path d="M509,648C509.95,645.95 513.25,638.75 514.7,635.7C516.15,632.65 516.5,632.1 517.7,629.7C518.9,627.3 520.6,623.72 521.9,621.3C523.2,618.88 524.18,617.02 525.5,615.2C526.82,613.38 528.28,612 529.8,610.4C531.32,608.8 533,607.6 534.6,605.6C536.2,603.6 537.7,600.82 539.4,598.4C541.1,595.98 543.2,593.32 544.8,591.1C546.4,588.88 547.9,587.1 549,585.1C550.1,583.1 550.18,580.75 551.4,579.1C552.62,577.45 554.28,576.25 556.3,575.2C558.32,574.15 560.5,573.45 563.5,572.8C566.5,572.15 569.88,571.65 574.3,571.3C578.72,570.95 586.05,570.58 590,570.7C593.95,570.82 594.67,571.68 598,572C601.33,572.32 606.33,572.17 610,572.6C613.67,573.03 617.07,573.6 620,574.6C622.93,575.6 625.27,578.47 627.6,578.6C629.93,578.73 631.93,576.93 634,575.4C636.07,573.87 638.17,571.3 640,569.4C641.83,567.5 643.33,565.07 645,564C646.67,562.93 649.17,563.25 650,563C650.83,562.75 649.17,562.53 650,562.5C650.83,562.47 653.33,562.55 655,562.8C656.67,563.05 658.5,562.97 660,564C661.5,565.03 662.67,567.92 664,569C665.33,570.08 666.5,570.17 668,570.5C669.5,570.83 671.5,571.5 673,571C674.5,570.5 675.67,568.67 677,567.5C678.33,566.33 679.5,564.92 681,564C682.5,563.08 684.17,562.5 686,562C687.83,561.5 690,561.33 692,561C694,560.67 696,560.2 698,560C700,559.8 702.17,559.85 704,559.8C705.83,559.75 707.33,559.67 709,559.7C710.67,559.73 712.5,559.28 714,560C715.5,560.72 716.67,562.17 718,564C719.33,565.83 720.67,568.25 722,571C723.33,573.75 724.83,578.25 726,580.5C727.17,582.75 728.08,583.62 729,584.5C729.92,585.38 730.83,585.55 731.5,585.8C732.17,586.05 732.25,587.13 733,586C733.75,584.87 734.83,582.25 736,579C737.17,575.75 738.17,569.92 740,566.5C741.83,563.08 745.61,559.69 747,558.5C748.39,557.31 747.82,558.82 748.34,559.34C748.87,559.86 749.43,560.49 750.14,561.63C750.85,562.77 751.78,564.45 752.6,566.18C753.42,567.92 754.35,570.23 755.06,572.02C755.77,573.82 756.33,575.46 756.86,576.96C757.38,578.45 757.8,581.14 758.2,581C758.6,580.86 758.85,577.89 759.26,576.13C759.67,574.38 760.11,572.45 760.66,570.48C761.22,568.52 761.95,566.06 762.6,564.34C763.25,562.61 763.98,561.14 764.54,560.15C765.09,559.17 765.53,558.8 765.94,558.45C766.35,558.09 766.69,558.01 767,558C767.31,557.99 767.5,558.08 767.82,558.4C768.13,558.72 768.47,559.05 768.9,559.92C769.33,560.8 769.9,562.11 770.4,563.65C770.9,565.18 771.47,567.37 771.9,569.13C772.33,570.88 772.67,572.6 772.98,574.16C773.3,575.72 773.53,578.4 773.8,578.5C774.07,578.6 774.29,576.16 774.6,574.78C774.92,573.4 775.25,571.89 775.68,570.24C776.1,568.59 776.66,566.46 777.15,564.87C777.64,563.28 778.2,561.73 778.62,560.68C779.05,559.63 779.38,559.05 779.7,558.57C780.01,558.09 780.27,557.8 780.5,557.8C780.73,557.8 780.87,558.09 781.1,558.56C781.33,559.02 781.58,559.58 781.9,560.61C782.22,561.63 782.63,563.14 783,564.7C783.37,566.25 783.78,568.33 784.1,569.94C784.42,571.55 784.67,573.03 784.9,574.37C785.13,575.71 785.31,577.99 785.5,578C785.69,578.01 785.82,575.77 786.02,574.46C786.22,573.15 786.43,571.71 786.7,570.14C786.98,568.57 787.33,566.54 787.65,565.03C787.97,563.51 788.32,562.04 788.6,561.04C788.87,560.04 789.08,559.49 789.28,559.04C789.48,558.58 789.62,558.3 789.8,558.3C789.98,558.3 790.14,558.57 790.36,559.02C790.58,559.46 790.82,560 791.12,560.97C791.41,561.94 791.81,563.38 792.15,564.86C792.49,566.34 792.89,568.31 793.18,569.84C793.48,571.37 793.72,572.77 793.94,574.05C794.16,575.33 794.33,577.49 794.5,577.5C794.67,577.51 794.79,575.38 794.98,574.14C795.17,572.9 795.37,571.53 795.62,570.04C795.87,568.55 796.21,566.63 796.5,565.19C796.79,563.75 797.13,562.35 797.38,561.4C797.63,560.45 797.83,559.93 798.02,559.5C798.21,559.07 798.35,558.8 798.5,558.8C798.65,558.8 798.74,559.06 798.9,559.48C799.05,559.9 799.21,560.41 799.42,561.33C799.63,562.25 799.91,563.61 800.15,565.02C800.39,566.42 800.67,568.29 800.88,569.74C801.09,571.19 801.25,572.52 801.4,573.73C801.56,574.94 801.67,576.96 801.8,577C801.93,577.04 802.02,575.07 802.16,573.94C802.3,572.81 802.45,571.57 802.64,570.22C802.83,568.86 803.08,567.11 803.3,565.81C803.52,564.5 803.77,563.23 803.96,562.36C804.15,561.5 804.3,561.03 804.44,560.64C804.58,560.24 804.67,560.01 804.8,560C804.93,559.99 805.05,560.23 805.21,560.6C805.37,560.97 805.54,561.41 805.75,562.22C805.97,563.04 806.25,564.23 806.5,565.46C806.75,566.7 807.03,568.34 807.25,569.62C807.46,570.89 807.63,572.06 807.79,573.12C807.95,574.19 807.33,577.77 808.2,576C809.07,574.23 811.37,564.75 813,562.5C814.63,560.25 817.17,562.5 818,562.5L818,660L480,660Z" fill="#ff00ff"/>
<path d="M515,648C515.95,645.95 519.25,638.55 520.7,635.7C522.15,632.85 522.7,632.7 523.7,630.9C524.7,629.1 525.68,627.1 526.7,624.9C527.72,622.7 528.68,619.82 529.8,617.7C530.92,615.58 532,613.82 533.4,612.2C534.8,610.58 536.6,609.3 538.2,608C539.8,606.7 541.2,606.2 543,604.4C544.8,602.6 546.98,599.42 549,597.2C551.02,594.98 553.28,593.12 555.1,591.1C556.92,589.08 558.5,586.9 559.9,585.1C561.3,583.3 562.1,581.6 563.5,580.3C564.9,579 566.1,578.07 568.3,577.3C570.5,576.53 573.08,576.05 576.7,575.7C580.32,575.35 586.45,575.15 590,575.2C593.55,575.25 594.67,575.77 598,576C601.33,576.23 606.33,576.03 610,576.6C613.67,577.17 617.07,578.27 620,579.4C622.93,580.53 625.27,583.3 627.6,583.4C629.93,583.5 631.93,581.57 634,580C636.07,578.43 638.17,575.9 640,574C641.83,572.1 643.33,569.6 645,568.6C646.67,567.6 649.17,568.02 650,568C650.83,567.98 649.17,568.42 650,568.5C650.83,568.58 653.33,568.42 655,568.5C656.67,568.58 658.5,568.25 660,569C661.5,569.75 662.67,572.17 664,573C665.33,573.83 666.5,573.83 668,574C669.5,574.17 671.5,574.58 673,574C674.5,573.42 675.67,571.67 677,570.5C678.33,569.33 679.5,567.92 681,567C682.5,566.08 684.17,565.58 686,565C687.83,564.42 690,563.97 692,563.5C694,563.03 696,562.48 698,562.2C700,561.92 702.17,561.87 704,561.8C705.83,561.73 707.33,561.68 709,561.8C710.67,561.92 712.5,561.63 714,562.5C715.5,563.37 716.67,565 718,567C719.33,569 720.67,571.58 722,574.5C723.33,577.42 724.83,582.08 726,584.5C727.17,586.92 728.08,587.92 729,589C729.92,590.08 730.83,590.75 731.5,591C732.17,591.25 732.25,591.67 733,590.5C733.75,589.33 734.83,587.42 736,584C737.17,580.58 738.17,573.92 740,570C741.83,566.08 745.61,561.84 747,560.5C748.39,559.16 747.82,561.17 748.34,561.96C748.87,562.76 749.43,563.74 750.14,565.3C750.85,566.85 751.78,569.1 752.6,571.3C753.42,573.5 754.35,576.32 755.06,578.49C755.77,580.67 756.33,582.58 756.86,584.33C757.38,586.08 757.8,589.16 758.2,589C758.6,588.84 758.85,585.45 759.26,583.4C759.67,581.35 760.11,579.09 760.66,576.7C761.22,574.31 761.95,571.26 762.6,569.05C763.25,566.84 763.98,564.79 764.54,563.42C765.09,562.05 765.53,561.39 765.94,560.82C766.35,560.25 766.69,560 767,560C767.31,560 767.5,560.24 767.82,560.79C768.13,561.34 768.47,561.98 768.9,563.3C769.33,564.62 769.9,566.6 770.4,568.74C770.9,570.88 771.47,573.82 771.9,576.12C772.33,578.43 772.67,580.61 772.98,582.59C773.3,584.57 773.53,587.88 773.8,588C774.07,588.12 774.29,585.08 774.6,583.33C774.92,581.58 775.25,579.67 775.68,577.49C776.1,575.32 776.66,572.5 777.15,570.3C777.64,568.1 778.2,565.85 778.62,564.3C779.05,562.74 779.38,561.76 779.7,560.96C780.01,560.17 780.27,559.51 780.5,559.5C780.73,559.49 780.87,560.14 781.1,560.91C781.33,561.68 781.58,562.63 781.9,564.13C782.22,565.63 782.63,567.8 783,569.92C783.37,572.04 783.78,574.77 784.1,576.86C784.42,578.96 784.67,580.8 784.9,582.49C785.13,584.18 785.31,586.99 785.5,587C785.69,587.01 785.82,584.23 786.02,582.58C786.22,580.92 786.43,579.1 786.7,577.05C786.98,574.99 787.33,572.31 787.65,570.23C787.97,568.15 788.32,566.02 788.6,564.54C788.87,563.07 789.08,562.14 789.28,561.39C789.48,560.63 789.62,560.01 789.8,560C789.98,559.99 790.14,560.61 790.36,561.34C790.58,562.07 790.82,562.96 791.12,564.38C791.41,565.79 791.81,567.85 792.15,569.85C792.49,571.86 792.89,574.43 793.18,576.41C793.48,578.4 793.72,580.14 793.94,581.74C794.16,583.34 794.33,585.99 794.5,586C794.67,586.01 794.79,583.39 794.98,581.82C795.17,580.25 795.37,578.54 795.62,576.6C795.87,574.66 796.21,572.13 796.5,570.16C796.79,568.19 797.13,566.18 797.38,564.79C797.63,563.4 797.83,562.53 798.02,561.81C798.21,561.1 798.35,560.52 798.5,560.5C798.65,560.48 798.74,561.05 798.9,561.71C799.05,562.37 799.21,563.17 799.42,564.45C799.63,565.74 799.91,567.59 800.15,569.4C800.39,571.22 800.67,573.55 800.88,575.34C801.09,577.13 801.25,578.71 801.4,580.15C801.56,581.59 801.67,583.97 801.8,584C801.93,584.03 802.02,581.7 802.16,580.31C802.3,578.93 802.45,577.42 802.64,575.71C802.83,573.99 803.08,571.76 803.3,570.03C803.52,568.29 803.77,566.51 803.96,565.29C804.15,564.06 804.3,563.29 804.44,562.66C804.58,562.03 804.67,561.52 804.8,561.5C804.93,561.48 805.05,561.98 805.21,562.55C805.37,563.13 805.54,563.83 805.75,564.95C805.97,566.07 806.25,567.69 806.5,569.27C806.75,570.85 807.03,572.88 807.25,574.44C807.46,576 807.63,577.38 807.79,578.64C807.95,579.9 807.33,584.36 808.2,582C809.07,579.64 811.37,567.42 813,564.5C814.63,561.58 817.17,564.5 818,564.5L818,660L480,660Z" fill="#b3b3b3"/>
<path d="M519,648C519.88,645.95 523.12,638.35 524.3,635.7C525.48,633.05 525.28,633.7 526.1,632.1C526.92,630.5 528.18,628.2 529.2,626.1C530.22,624 531.1,621.52 532.2,619.5C533.3,617.48 534.4,615.62 535.8,614C537.2,612.38 538.9,611.1 540.6,609.8C542.3,608.5 544.2,607.8 546,606.2C547.8,604.6 549.48,602.1 551.4,600.2C553.32,598.3 555.68,596.82 557.5,594.8C559.32,592.78 560.9,590.12 562.3,588.1C563.7,586.08 564.5,584.1 565.9,582.7C567.3,581.3 568.68,580.4 570.7,579.7C572.72,579 574.78,578.8 578,578.5C581.22,578.2 586.67,577.98 590,577.9C593.33,577.82 594.67,577.82 598,578C601.33,578.18 606.33,578.33 610,579C613.67,579.67 617.07,580.83 620,582C622.93,583.17 625.27,585.9 627.6,586C629.93,586.1 631.93,584.27 634,582.6C636.07,580.93 638.17,577.93 640,576C641.83,574.07 643.33,572 645,571C646.67,570 649.17,570.17 650,570C650.83,569.83 649.17,570 650,570C650.83,570 653.33,569.92 655,570C656.67,570.08 658.5,569.67 660,570.5C661.5,571.33 662.67,574.08 664,575C665.33,575.92 666.5,575.83 668,576C669.5,576.17 671.5,576.58 673,576C674.5,575.42 675.67,573.67 677,572.5C678.33,571.33 679.5,569.95 681,569C682.5,568.05 684.17,567.47 686,566.8C687.83,566.13 690,565.5 692,565C694,564.5 696,564.1 698,563.8C700,563.5 702.17,563.3 704,563.2C705.83,563.1 707.33,563.07 709,563.2C710.67,563.33 712.5,563.12 714,564C715.5,564.88 716.67,566.42 718,568.5C719.33,570.58 720.67,573.42 722,576.5C723.33,579.58 724.83,584.42 726,587C727.17,589.58 728.08,590.75 729,592C729.92,593.25 730.83,594.33 731.5,594.5C732.17,594.67 732.25,594.25 733,593C733.75,591.75 734.83,590.5 736,587C737.17,583.5 738.17,576.17 740,572C741.83,567.83 745.61,563.38 747,562C748.39,560.62 747.82,562.83 748.34,563.74C748.87,564.65 749.43,565.77 750.14,567.47C750.85,569.17 751.78,571.61 752.6,573.96C753.42,576.32 754.35,579.29 755.06,581.57C755.77,583.86 756.33,585.84 756.86,587.67C757.38,589.49 757.8,592.66 758.2,592.5C758.6,592.34 758.85,588.83 759.26,586.7C759.67,584.57 760.11,582.23 760.66,579.71C761.22,577.19 761.95,573.96 762.6,571.59C763.25,569.21 763.98,566.96 764.54,565.44C765.09,563.93 765.53,563.16 765.94,562.5C766.35,561.84 766.69,561.5 767,561.5C767.31,561.5 767.5,561.84 767.82,562.48C768.13,563.13 768.47,563.89 768.9,565.38C769.33,566.87 769.9,569.08 770.4,571.42C770.9,573.76 771.47,576.93 771.9,579.41C772.33,581.89 772.67,584.2 772.98,586.29C773.3,588.39 773.53,591.87 773.8,592C774.07,592.13 774.29,588.94 774.6,587.09C774.92,585.24 775.25,583.22 775.68,580.9C776.1,578.57 776.66,575.55 777.15,573.16C777.64,570.77 778.2,568.29 778.62,566.56C779.05,564.83 779.38,563.7 779.7,562.77C780.01,561.84 780.27,561 780.5,561C780.73,561 780.87,561.83 781.1,562.74C781.33,563.65 781.58,564.77 781.9,566.47C782.22,568.17 782.63,570.61 783,572.96C783.37,575.32 783.78,578.29 784.1,580.57C784.42,582.86 784.67,584.84 784.9,586.67C785.13,588.49 785.31,591.49 785.5,591.5C785.69,591.51 785.82,588.54 786.02,586.74C786.22,584.95 786.43,583 786.7,580.75C786.98,578.51 787.33,575.58 787.65,573.27C787.97,570.96 788.32,568.56 788.6,566.88C788.87,565.2 789.08,564.11 789.28,563.21C789.48,562.32 789.62,561.51 789.8,561.5C789.98,561.49 790.14,562.28 790.36,563.13C790.58,563.98 790.82,565.02 791.12,566.61C791.41,568.2 791.81,570.48 792.15,572.68C792.49,574.88 792.89,577.66 793.18,579.79C793.48,581.92 793.72,583.78 793.94,585.48C794.16,587.18 794.33,589.99 794.5,590C794.67,590.01 794.79,587.21 794.98,585.53C795.17,583.85 795.37,582.01 795.62,579.9C795.87,577.79 796.21,575.04 796.5,572.86C796.79,570.69 797.13,568.43 797.38,566.86C797.63,565.28 797.83,564.25 798.02,563.41C798.21,562.57 798.35,561.82 798.5,561.8C798.65,561.78 798.74,562.51 798.9,563.3C799.05,564.08 799.21,565.04 799.42,566.5C799.63,567.96 799.91,570.06 800.15,572.08C800.39,574.1 800.67,576.65 800.88,578.62C801.09,580.58 801.25,582.28 801.4,583.85C801.56,585.41 801.67,587.97 801.8,588C801.93,588.03 802.02,585.53 802.16,584.04C802.3,582.54 802.45,580.92 802.64,579.04C802.83,577.17 803.08,574.73 803.3,572.81C803.52,570.88 803.77,568.88 803.96,567.48C804.15,566.09 804.3,565.18 804.44,564.43C804.58,563.68 804.67,563.03 804.8,563C804.93,562.97 805.05,563.6 805.21,564.26C805.37,564.91 805.54,565.72 805.75,566.95C805.97,568.17 806.25,569.93 806.5,571.63C806.75,573.33 807.03,575.47 807.25,577.12C807.46,578.77 807.63,580.2 807.79,581.51C807.95,582.83 807.33,587.59 808.2,585C809.07,582.41 811.37,569.17 813,566C814.63,562.83 817.17,566 818,566L818,660L480,660Z" fill="#ffffff"/>
<polygon points="262.7,553.2 264.3,557.12 269.17,557.21 265.29,559.72 266.7,563.69 262.7,561.32 258.7,563.69 260.11,559.72 256.23,557.21 261.1,557.12" fill="#000"/>
<path d="M262.55,439.1V636.9M445.1,439.1V636.9M627.65,439.1V636.9M80,538H810.2" stroke="#7a7a7a" stroke-width="1" fill="none"/>
</g>
<path d="M80,439.1v16.5M80,636.9v-16.5M171.28,439.1v16.5M171.28,636.9v-16.5M262.55,439.1v16.5M262.55,636.9v-16.5M353.83,439.1v16.5M353.83,636.9v-16.5M445.1,439.1v16.5M445.1,636.9v-16.5M536.38,439.1v16.5M536.38,636.9v-16.5M627.65,439.1v16.5M627.65,636.9v-16.5M718.93,439.1v16.5M718.93,636.9v-16.5M810.2,439.1v16.5M810.2,636.9v-16.5M84.18,439.1v8.5M84.18,636.9v-8.5M88.85,439.1v8.5M88.85,636.9v-8.5M94.14,439.1v8.5M94.14,636.9v-8.5M100.25,439.1v8.5M100.25,636.9v-8.5M107.48,439.1v8.5M107.48,636.9v-8.5M116.32,439.1v8.5M116.32,636.9v-8.5M127.73,439.1v8.5M127.73,636.9v-8.5M143.8,439.1v8.5M143.8,636.9v-8.5M175.45,439.1v8.5M175.45,636.9v-8.5M180.12,439.1v8.5M180.12,636.9v-8.5M185.41,439.1v8.5M185.41,636.9v-8.5M191.52,439.1v8.5M191.52,636.9v-8.5M198.75,439.1v8.5M198.75,636.9v-8.5M207.6,439.1v8.5M207.6,636.9v-8.5M219,439.1v8.5M219,636.9v-8.5M235.07,439.1v8.5M235.07,636.9v-8.5M266.73,439.1v8.5M266.73,636.9v-8.5M271.4,439.1v8.5M271.4,636.9v-8.5M276.69,439.1v8.5M276.69,636.9v-8.5M282.8,439.1v8.5M282.8,636.9v-8.5M290.03,439.1v8.5M290.03,636.9v-8.5M298.87,439.1v8.5M298.87,636.9v-8.5M310.28,439.1v8.5M310.28,636.9v-8.5M326.35,439.1v8.5M326.35,636.9v-8.5M357.58,439.1v8.5M357.58,636.9v-8.5M362.28,439.1v8.5M362.28,636.9v-8.5M367.18,439.1v8.5M367.18,636.9v-8.5M373.08,439.1v8.5M373.08,636.9v-8.5M379.88,439.1v8.5M379.88,636.9v-8.5M388.08,439.1v8.5M388.08,636.9v-8.5M397.79,439.1v8.5M397.79,636.9v-8.5M410.39,439.1v8.5M410.39,636.9v-8.5M426.09,439.1v8.5M426.09,636.9v-8.5M464.11,439.1v8.5M464.11,636.9v-8.5M479.81,439.1v8.5M479.81,636.9v-8.5M492.41,439.1v8.5M492.41,636.9v-8.5M502.12,439.1v8.5M502.12,636.9v-8.5M510.32,439.1v8.5M510.32,636.9v-8.5M517.12,439.1v8.5M517.12,636.9v-8.5M523.02,439.1v8.5M523.02,636.9v-8.5M527.92,439.1v8.5M527.92,636.9v-8.5M532.62,439.1v8.5M532.62,636.9v-8.5M563.85,439.1v8.5M563.85,636.9v-8.5M579.92,439.1v8.5M579.92,636.9v-8.5M591.33,439.1v8.5M591.33,636.9v-8.5M600.17,439.1v8.5M600.17,636.9v-8.5M607.4,439.1v8.5M607.4,636.9v-8.5M613.51,439.1v8.5M613.51,636.9v-8.5M618.8,439.1v8.5M618.8,636.9v-8.5M623.47,439.1v8.5M623.47,636.9v-8.5M655.13,439.1v8.5M655.13,636.9v-8.5M671.2,439.1v8.5M671.2,636.9v-8.5M682.6,439.1v8.5M682.6,636.9v-8.5M691.45,439.1v8.5M691.45,636.9v-8.5M698.68,439.1v8.5M698.68,636.9v-8.5M704.79,439.1v8.5M704.79,636.9v-8.5M710.08,439.1v8.5M710.08,636.9v-8.5M714.75,439.1v8.5M714.75,636.9v-8.5M746.4,439.1v8.5M746.4,636.9v-8.5M762.47,439.1v8.5M762.47,636.9v-8.5M773.88,439.1v8.5M773.88,636.9v-8.5M782.72,439.1v8.5M782.72,636.9v-8.5M789.95,439.1v8.5M789.95,636.9v-8.5M796.06,439.1v8.5M796.06,636.9v-8.5M801.35,439.1v8.5M801.35,636.9v-8.5M806.02,439.1v8.5M806.02,636.9v-8.5M80,448.99h8.5M810.2,448.99h-8.5M80,458.88h8.5M810.2,458.88h-8.5M80,468.77h8.5M810.2,468.77h-8.5M80,478.66h8.5M810.2,478.66h-8.5M80,488.55h16.5M810.2,488.55h-16.5M80,498.44h8.5M810.2,498.44h-8.5M80,508.33h8.5M810.2,508.33h-8.5M80,518.22h8.5M810.2,518.22h-8.5M80,528.11h8.5M810.2,528.11h-8.5M80,538h16.5M810.2,538h-16.5M80,547.89h8.5M810.2,547.89h-8.5M80,557.78h8.5M810.2,557.78h-8.5M80,567.67h8.5M810.2,567.67h-8.5M80,577.56h8.5M810.2,577.56h-8.5M80,587.45h16.5M810.2,587.45h-16.5M80,597.34h8.5M810.2,597.34h-8.5M80,607.23h8.5M810.2,607.23h-8.5M80,617.12h8.5M810.2,617.12h-8.5M80,627.01h8.5M810.2,627.01h-8.5" stroke="#000" stroke-width="1.4" fill="none"/>
<rect x="80" y="439.1" width="730.2" height="197.8" fill="none" stroke="#000" stroke-width="1.5"/>
<g clip-path="url(#c3)">
<rect x="80" y="653.95" width="730.2" height="197.6" fill="#ffcce6"/>
<path d="M72,696C73.75,694.67 80.66,688.96 82.5,688C84.34,687.04 82.83,689.4 83.04,690.22C83.25,691.04 83.48,691.94 83.76,692.91C84.05,693.88 84.42,695.12 84.75,696.04C85.08,696.96 85.45,697.84 85.74,698.43C86.02,699.03 86.25,699.34 86.46,699.6C86.67,699.86 86.86,700.01 87,700C87.14,699.99 87.18,699.85 87.3,699.56C87.42,699.28 87.54,698.95 87.7,698.3C87.86,697.66 88.07,696.71 88.25,695.71C88.43,694.71 88.64,693.37 88.8,692.31C88.96,691.26 89.08,690.29 89.2,689.4C89.32,688.52 89.37,687.02 89.5,687C89.63,686.98 89.79,688.46 89.98,689.31C90.17,690.16 90.37,691.1 90.62,692.11C90.87,693.12 91.21,694.42 91.5,695.38C91.79,696.34 92.13,697.25 92.38,697.87C92.63,698.49 92.83,698.81 93.02,699.08C93.21,699.35 93.36,699.51 93.5,699.5C93.64,699.49 93.72,699.34 93.86,699.05C94,698.75 94.15,698.41 94.34,697.74C94.53,697.07 94.78,696.08 95,695.05C95.22,694.01 95.47,692.61 95.66,691.52C95.85,690.43 96,689.42 96.14,688.5C96.28,687.58 96.35,686.02 96.5,686C96.65,685.98 96.83,687.52 97.04,688.4C97.25,689.29 97.48,690.26 97.76,691.31C98.05,692.37 98.42,693.71 98.75,694.71C99.08,695.71 99.45,696.66 99.74,697.3C100.02,697.95 100.25,698.28 100.46,698.56C100.67,698.85 100.83,699.01 101,699C101.17,698.99 101.31,698.82 101.5,698.5C101.7,698.17 101.91,697.78 102.18,697.04C102.44,696.3 102.79,695.2 103.1,694.05C103.41,692.9 103.76,691.34 104.02,690.13C104.29,688.92 104.5,687.8 104.7,686.77C104.89,685.75 104.99,684 105.2,684C105.41,684 105.66,685.75 105.96,686.77C106.25,687.8 106.56,688.92 106.96,690.13C107.36,691.34 107.89,692.9 108.35,694.05C108.81,695.2 109.34,696.3 109.74,697.04C110.14,697.78 110.45,698.17 110.74,698.5C111.04,698.82 111.27,699.01 111.5,699C111.73,698.99 111.87,698.8 112.1,698.43C112.33,698.06 112.58,697.62 112.9,696.78C113.22,695.94 113.63,694.7 114,693.39C114.37,692.09 114.78,690.32 115.1,688.95C115.42,687.58 115.67,686.3 115.9,685.14C116.13,683.99 115.98,680.36 116.5,682C117.02,683.64 118.08,692.5 119,695C119.92,697.5 120.92,696.33 122,697C123.08,697.67 124.42,700 125.5,699C126.58,698 127.58,694.33 128.5,691C129.42,687.67 130.28,679.33 131,679C131.72,678.67 132.22,686.17 132.8,689C133.38,691.83 133.63,695.5 134.5,696C135.37,696.5 136.58,691.83 138,692C139.42,692.17 141.5,695.75 143,697C144.5,698.25 145.5,699.5 147,699.5C148.5,699.5 150.67,698.08 152,697C153.33,695.92 154.08,693.92 155,693C155.92,692.08 156.67,691.67 157.5,691.5C158.33,691.33 159.17,691.25 160,692C160.83,692.75 161.75,694.67 162.5,696C163.25,697.33 163.58,700 164.5,700C165.42,700 166.83,697.42 168,696C169.17,694.58 170.33,692.08 171.5,691.5C172.67,690.92 173.92,692.67 175,692.5C176.08,692.33 176.83,690.58 178,690.5C179.17,690.42 180.5,692.25 182,692C183.5,691.75 185.17,690.08 187,689C188.83,687.92 191,686.58 193,685.5C195,684.42 197.17,683.5 199,682.5C200.83,681.5 202.33,681 204,679.5C205.67,678 207.5,675.83 209,673.5C210.5,671.17 211.83,667.33 213,665.5C214.17,663.67 214.83,663.08 216,662.5C217.17,661.92 218.5,662 220,662C221.5,662 223.67,662 225,662.5C226.33,663 227,663.92 228,665C229,666.08 229.83,668.33 231,669C232.17,669.67 232.73,668.45 235,669C237.27,669.55 242.35,672.15 244.6,672.3C246.85,672.45 247.28,671.18 248.5,669.9C249.72,668.62 250.57,666.15 251.9,664.6C253.23,663.05 254.73,661.53 256.5,660.6C258.27,659.67 260.28,659 262.5,659C264.72,659 267.48,660 269.8,660.6C272.12,661.2 274.2,662.27 276.4,662.6C278.6,662.93 280.8,662.82 283,662.6C285.2,662.38 287.38,661.73 289.6,661.3C291.82,660.87 293.87,660.12 296.3,660C298.73,659.88 301.55,660.32 304.2,660.6C306.85,660.88 309.55,661.58 312.2,661.7C314.85,661.82 317.9,661.7 320.1,661.3C322.3,660.9 323.97,660.08 325.4,659.3C326.83,658.52 327.7,657.38 328.7,656.6C329.7,655.82 330.35,656.03 331.4,654.6C332.45,653.17 334.4,649.1 335,648L72,640Z" fill="#0000ff"/>
<path d="M72,691C73.75,689.5 80.66,683.09 82.5,682C84.34,680.91 82.83,683.54 83.04,684.44C83.25,685.35 83.48,686.35 83.76,687.45C84.05,688.55 84.42,689.97 84.75,691.05C85.08,692.13 85.45,693.2 85.74,693.93C86.02,694.65 86.25,695.07 86.46,695.42C86.67,695.76 86.86,696 87,696C87.14,696 87.18,695.76 87.3,695.42C87.42,695.07 87.54,694.65 87.7,693.93C87.86,693.2 88.07,692.13 88.25,691.05C88.43,689.97 88.64,688.55 88.8,687.45C88.96,686.35 89.08,685.35 89.2,684.44C89.32,683.54 89.37,682.03 89.5,682C89.63,681.97 89.79,683.43 89.98,684.27C90.17,685.11 90.37,686.04 90.62,687.06C90.87,688.08 91.21,689.4 91.5,690.4C91.79,691.41 92.13,692.4 92.38,693.07C92.63,693.75 92.83,694.14 93.02,694.46C93.21,694.78 93.36,695 93.5,695C93.64,695 93.72,694.77 93.86,694.44C94,694.11 94.15,693.7 94.34,693C94.53,692.3 94.78,691.27 95,690.23C95.22,689.19 95.47,687.81 95.66,686.75C95.85,685.69 96,684.73 96.14,683.86C96.28,682.98 96.35,681.51 96.5,681.5C96.65,681.49 96.83,682.93 97.04,683.77C97.25,684.61 97.48,685.54 97.76,686.56C98.05,687.58 98.42,688.9 98.75,689.9C99.08,690.91 99.45,691.9 99.74,692.57C100.02,693.25 100.25,693.64 100.46,693.96C100.67,694.28 100.83,694.5 101,694.5C101.17,694.5 101.31,694.27 101.5,693.94C101.7,693.61 101.91,693.2 102.18,692.5C102.44,691.8 102.79,690.77 103.1,689.73C103.41,688.69 103.76,687.31 104.02,686.25C104.29,685.19 104.5,684.23 104.7,683.36C104.89,682.48 104.99,681.01 105.2,681C105.41,680.99 105.66,682.43 105.96,683.27C106.25,684.11 106.56,685.04 106.96,686.06C107.36,687.08 107.89,688.4 108.35,689.4C108.81,690.41 109.34,691.4 109.74,692.07C110.14,692.75 110.45,693.14 110.74,693.46C111.04,693.78 111.27,694.01 111.5,694C111.73,693.99 111.87,693.76 112.1,693.42C112.33,693.07 112.58,692.65 112.9,691.93C113.22,691.2 113.63,690.13 114,689.05C114.37,687.97 114.78,686.55 115.1,685.45C115.42,684.35 115.67,683.35 115.9,682.44C116.13,681.54 115.98,678.41 116.5,680C117.02,681.59 118.08,689.83 119,692C119.92,694.17 120.92,692.67 122,693C123.08,693.33 124.42,695.17 125.5,694C126.58,692.83 127.58,688.83 128.5,686C129.42,683.17 130.28,677.17 131,677C131.72,676.83 132.22,682.5 132.8,685C133.38,687.5 133.63,691.17 134.5,692C135.37,692.83 136.58,689.83 138,690C139.42,690.17 141.5,692.17 143,693C144.5,693.83 145.5,695.17 147,695C148.5,694.83 150.67,693.5 152,692C153.33,690.5 154.08,687.42 155,686C155.92,684.58 156.67,683.33 157.5,683.5C158.33,683.67 159.17,685.42 160,687C160.83,688.58 161.75,691.83 162.5,693C163.25,694.17 163.58,694.67 164.5,694C165.42,693.33 166.83,690 168,689C169.17,688 170.33,688 171.5,688C172.67,688 173.92,689.25 175,689C176.08,688.75 176.83,687.08 178,686.5C179.17,685.92 180.5,686.08 182,685.5C183.5,684.92 185.17,683.92 187,683C188.83,682.08 191,681.17 193,680C195,678.83 197.17,677.25 199,676C200.83,674.75 202.33,674 204,672.5C205.67,671 207.5,668.58 209,667C210.5,665.42 211.83,663.92 213,663C214.17,662.08 214.83,661.75 216,661.5C217.17,661.25 218.5,661.58 220,661.5C221.5,661.42 223.67,661 225,661C226.33,661 227,661.33 228,661.5C229,661.67 229.83,661.83 231,662C232.17,662.17 232.52,662.28 235,662.5C237.48,662.72 243.2,663.62 245.9,663.3C248.6,662.98 249.43,661.48 251.2,660.6C252.97,659.72 254.73,658.8 256.5,658C258.27,657.2 260.22,656.2 261.8,655.8C263.38,655.4 264.23,655.47 266,655.6C267.77,655.73 270.45,656.1 272.4,656.6C274.35,657.1 275.93,658.2 277.7,658.6C279.47,659 281.23,659.1 283,659C284.77,658.9 286.53,658.43 288.3,658C290.07,657.57 291.83,656.82 293.6,656.4C295.37,655.98 296.5,655.68 298.9,655.5C301.3,655.32 304.82,655.38 308,655.3C311.18,655.22 315.67,656.22 318,655C320.33,653.78 321.33,649.17 322,648L72,640Z" fill="#ff00ff"/>
<path d="M72,686C73.75,684.25 80.66,676.8 82.5,675.5C84.34,674.2 82.83,677.19 83.04,678.2C83.25,679.22 83.48,680.33 83.76,681.58C84.05,682.84 84.42,684.47 84.75,685.75C85.08,687.02 85.45,688.32 85.74,689.22C86.02,690.12 86.25,690.69 86.46,691.15C86.67,691.61 86.86,692.02 87,692C87.14,691.98 87.18,691.57 87.3,691.05C87.42,690.53 87.54,689.9 87.7,688.89C87.86,687.88 88.07,686.42 88.25,684.99C88.43,683.56 88.64,681.73 88.8,680.32C88.96,678.91 89.08,677.67 89.2,676.53C89.32,675.39 89.37,673.53 89.5,673.5C89.63,673.47 89.79,675.29 89.98,676.37C90.17,677.44 90.37,678.62 90.62,679.95C90.87,681.29 91.21,683.02 91.5,684.37C91.79,685.72 92.13,687.1 92.38,688.06C92.63,689.01 92.83,689.61 93.02,690.1C93.21,690.59 93.36,691.02 93.5,691C93.64,690.98 93.72,690.54 93.86,690C94,689.45 94.15,688.78 94.34,687.72C94.53,686.65 94.78,685.12 95,683.61C95.22,682.11 95.47,680.17 95.66,678.69C95.85,677.2 96,675.89 96.14,674.7C96.28,673.5 96.35,671.54 96.5,671.5C96.65,671.46 96.83,673.34 97.04,674.45C97.25,675.56 97.48,676.76 97.76,678.14C98.05,679.51 98.42,681.29 98.75,682.68C99.08,684.07 99.45,685.49 99.74,686.47C100.02,687.45 100.25,688.07 100.46,688.58C100.67,689.08 100.83,689.5 101,689.5C101.17,689.5 101.31,689.09 101.5,688.6C101.7,688.11 101.91,687.51 102.18,686.56C102.44,685.6 102.79,684.22 103.1,682.87C103.41,681.52 103.76,679.79 104.02,678.45C104.29,677.12 104.5,675.94 104.7,674.87C104.89,673.79 104.99,671.97 105.2,672C105.41,672.03 105.66,673.89 105.96,675.03C106.25,676.17 106.56,677.41 106.96,678.82C107.36,680.23 107.89,682.06 108.35,683.49C108.81,684.92 109.34,686.38 109.74,687.39C110.14,688.4 110.45,689.03 110.74,689.55C111.04,690.07 111.27,690.51 111.5,690.5C111.73,690.49 111.87,690.04 112.1,689.5C112.33,688.95 112.58,688.28 112.9,687.22C113.22,686.15 113.63,684.62 114,683.11C114.37,681.61 114.78,679.67 115.1,678.19C115.42,676.7 115.67,675.39 115.9,674.2C116.13,673 115.98,669.37 116.5,671C117.02,672.63 118.08,681.42 119,684C119.92,686.58 120.92,685.58 122,686.5C123.08,687.42 124.42,690.42 125.5,689.5C126.58,688.58 127.58,684.25 128.5,681C129.42,677.75 130.28,670.67 131,670C131.72,669.33 132.22,674.75 132.8,677C133.38,679.25 133.63,682.67 134.5,683.5C135.37,684.33 136.58,681.42 138,682C139.42,682.58 141.5,685.92 143,687C144.5,688.08 145.5,689 147,688.5C148.5,688 150.67,686.75 152,684C153.33,681.25 154.08,674.25 155,672C155.92,669.75 156.67,669.83 157.5,670.5C158.33,671.17 159.17,673.75 160,676C160.83,678.25 161.75,682.25 162.5,684C163.25,685.75 163.58,686.83 164.5,686.5C165.42,686.17 166.83,683.08 168,682C169.17,680.92 170.33,680.17 171.5,680C172.67,679.83 173.92,681.17 175,681C176.08,680.83 176.83,679.42 178,679C179.17,678.58 180.5,678.83 182,678.5C183.5,678.17 185.17,677.75 187,677C188.83,676.25 191,675.25 193,674C195,672.75 197.17,670.75 199,669.5C200.83,668.25 202.33,667.58 204,666.5C205.67,665.42 207.5,664.25 209,663C210.5,661.75 211.83,660.08 213,659C214.17,657.92 214.83,657.17 216,656.5C217.17,655.83 218.5,655.5 220,655C221.5,654.5 223.67,654.17 225,653.5C226.33,652.83 227,651.92 228,651C229,650.08 229.83,648.83 231,648C232.17,647.17 234.33,646.33 235,646L72,640Z" fill="#b3b3b3"/>
<path d="M72,684C73.75,682.25 80.66,674.81 82.5,673.5C84.34,672.19 82.83,675.13 83.04,676.12C83.25,677.1 83.48,678.18 83.76,679.41C84.05,680.65 84.42,682.26 84.75,683.53C85.08,684.8 85.45,686.12 85.74,687.04C86.02,687.96 86.25,688.56 86.46,689.06C86.67,689.55 86.86,690.02 87,690C87.14,689.98 87.18,689.5 87.3,688.94C87.42,688.39 87.54,687.72 87.7,686.68C87.86,685.65 88.07,684.17 88.25,682.74C88.43,681.32 88.64,679.51 88.8,678.13C88.96,676.74 89.08,675.54 89.2,674.43C89.32,673.33 89.37,671.53 89.5,671.5C89.63,671.47 89.79,673.23 89.98,674.27C90.17,675.32 90.37,676.46 90.62,677.77C90.87,679.08 91.21,680.79 91.5,682.13C91.79,683.48 92.13,684.88 92.38,685.86C92.63,686.84 92.83,687.48 93.02,688C93.21,688.52 93.36,689.02 93.5,689C93.64,688.98 93.72,688.47 93.86,687.89C94,687.3 94.15,686.59 94.34,685.5C94.53,684.41 94.78,682.85 95,681.35C95.22,679.85 95.47,677.94 95.66,676.48C95.85,675.03 96,673.75 96.14,672.59C96.28,671.43 96.35,669.54 96.5,669.5C96.65,669.46 96.83,671.28 97.04,672.35C97.25,673.43 97.48,674.6 97.76,675.95C98.05,677.3 98.42,679.05 98.75,680.44C99.08,681.83 99.45,683.27 99.74,684.27C100.02,685.28 100.25,685.93 100.46,686.47C100.67,687.01 100.83,687.5 101,687.5C101.17,687.5 101.31,687.02 101.5,686.5C101.7,685.98 101.91,685.34 102.18,684.36C102.44,683.38 102.79,681.98 103.1,680.63C103.41,679.29 103.76,677.58 104.02,676.27C104.29,674.96 104.5,673.82 104.7,672.77C104.89,671.73 104.99,669.99 105.2,670C105.41,670.01 105.66,671.78 105.96,672.85C106.25,673.93 106.56,675.1 106.96,676.45C107.36,677.8 107.89,679.55 108.35,680.94C108.81,682.33 109.34,683.77 109.74,684.77C110.14,685.78 110.45,686.43 110.74,686.97C111.04,687.51 111.27,688.01 111.5,688C111.73,687.99 111.87,687.47 112.1,686.89C112.33,686.3 112.58,685.59 112.9,684.5C113.22,683.41 113.63,681.85 114,680.35C114.37,678.85 114.78,676.94 115.1,675.48C115.42,674.03 115.67,672.75 115.9,671.59C116.13,670.43 115.98,667.35 116.5,668.5C117.02,669.65 118.08,676.25 119,678.5C119.92,680.75 120.92,680.58 122,682C123.08,683.42 124.42,688.17 125.5,687C126.58,685.83 127.58,678.83 128.5,675C129.42,671.17 130.28,664.5 131,664C131.72,663.5 132.22,669.58 132.8,672C133.38,674.42 133.63,677.83 134.5,678.5C135.37,679.17 136.58,675.42 138,676C139.42,676.58 141.5,680.58 143,682C144.5,683.42 145.5,685.17 147,684.5C148.5,683.83 150.67,681.25 152,678C153.33,674.75 154.08,667.42 155,665C155.92,662.58 156.67,662.67 157.5,663.5C158.33,664.33 159.17,667.42 160,670C160.83,672.58 161.75,677.08 162.5,679C163.25,680.92 163.58,682 164.5,681.5C165.42,681 166.83,677.33 168,676C169.17,674.67 170.33,673.33 171.5,673.5C172.67,673.67 173.92,676.83 175,677C176.08,677.17 176.83,675.17 178,674.5C179.17,673.83 180.5,673.42 182,673C183.5,672.58 185.17,672.75 187,672C188.83,671.25 191,669.83 193,668.5C195,667.17 197.17,665.08 199,664C200.83,662.92 202.33,662.83 204,662C205.67,661.17 207.5,660 209,659C210.5,658 211.83,656.92 213,656C214.17,655.08 214.83,654.5 216,653.5C217.17,652.5 218.5,651.25 220,650C221.5,648.75 223.67,646.67 225,646C226.33,645.33 227,646 228,646C229,646 229.83,646 231,646C232.17,646 234.33,646 235,646L72,640Z" fill="#ffffff"/>
<path d="M72,809C73.75,810 80.66,814.28 82.5,815C84.34,815.72 82.83,813.95 83.04,813.34C83.25,812.72 83.48,812.05 83.76,811.32C84.05,810.59 84.42,809.66 84.75,808.97C85.08,808.28 85.45,807.62 85.74,807.17C86.02,806.73 86.25,806.5 86.46,806.3C86.67,806.11 86.86,805.98 87,806C87.14,806.02 87.18,806.14 87.3,806.4C87.42,806.66 87.54,806.97 87.7,807.57C87.86,808.16 88.07,809.04 88.25,809.96C88.43,810.88 88.64,812.12 88.8,813.09C88.96,814.06 89.08,814.96 89.2,815.78C89.32,816.6 89.37,817.99 89.5,818C89.63,818.01 89.79,816.62 89.98,815.82C90.17,815.01 90.37,814.13 90.62,813.18C90.87,812.22 91.21,811 91.5,810.09C91.79,809.19 92.13,808.32 92.38,807.74C92.63,807.16 92.83,806.85 93.02,806.6C93.21,806.34 93.36,806.19 93.5,806.2C93.64,806.21 93.72,806.36 93.86,806.66C94,806.96 94.15,807.32 94.34,808C94.53,808.68 94.78,809.69 95,810.75C95.22,811.81 95.47,813.24 95.66,814.36C95.85,815.47 96,816.51 96.14,817.45C96.28,818.39 96.34,819.99 96.5,820C96.66,820.01 96.87,818.42 97.1,817.5C97.33,816.58 97.58,815.57 97.9,814.48C98.22,813.39 98.63,811.99 99,810.95C99.37,809.92 99.78,808.93 100.1,808.26C100.42,807.59 100.67,807.25 100.9,806.95C101.13,806.66 101.33,806.49 101.5,806.5C101.67,806.51 101.77,806.67 101.94,806.99C102.12,807.3 102.3,807.68 102.54,808.39C102.77,809.11 103.08,810.17 103.35,811.28C103.62,812.4 103.93,813.9 104.16,815.07C104.4,816.24 104.58,817.33 104.76,818.32C104.93,819.31 104.99,821 105.2,821C105.41,821 105.7,819.31 106.02,818.32C106.33,817.33 106.67,816.24 107.1,815.07C107.53,813.9 108.1,812.4 108.6,811.28C109.1,810.17 109.67,809.11 110.1,808.39C110.53,807.68 110.87,807.3 111.18,806.99C111.5,806.67 111.77,806.49 112,806.5C112.23,806.51 112.33,806.68 112.54,807.02C112.75,807.36 112.98,807.76 113.26,808.52C113.55,809.29 113.92,810.42 114.25,811.61C114.58,812.8 114.95,814.41 115.24,815.66C115.52,816.92 115.75,818.08 115.96,819.13C116.17,820.19 115.91,823.44 116.5,822C117.09,820.56 118.5,812.75 119.5,810.5C120.5,808.25 121.5,809.17 122.5,808.5C123.5,807.83 124.5,805.42 125.5,806.5C126.5,807.58 127.5,811.75 128.5,815C129.5,818.25 130.75,825.17 131.5,826C132.25,826.83 132.5,822.67 133,820C133.5,817.33 133.67,811.08 134.5,810C135.33,808.92 136.58,813.75 138,813.5C139.42,813.25 141.5,809.83 143,808.5C144.5,807.17 145.5,805.42 147,805.5C148.5,805.58 150.67,807.83 152,809C153.33,810.17 154.08,811.5 155,812.5C155.92,813.5 156.67,814.33 157.5,815C158.33,815.67 159.17,817.17 160,816.5C160.83,815.83 161.75,812.75 162.5,811C163.25,809.25 163.58,806.5 164.5,806C165.42,805.5 166.83,806.83 168,808C169.17,809.17 170.33,812.25 171.5,813C172.67,813.75 173.92,812.17 175,812.5C176.08,812.83 176.83,814.92 178,815C179.17,815.08 180.5,813.17 182,813C183.5,812.83 185.17,813.5 187,814C188.83,814.5 191,815.25 193,816C195,816.75 197.17,817.58 199,818.5C200.83,819.42 202.33,820 204,821.5C205.67,823 207.5,825.17 209,827.5C210.5,829.83 211.83,833.33 213,835.5C214.17,837.67 214.83,839.42 216,840.5C217.17,841.58 218.5,841.83 220,842C221.5,842.17 223.67,842 225,841.5C226.33,841 227,839.83 228,839C229,838.17 229.83,836.92 231,836.5C232.17,836.08 232.95,836.65 235,836.5C237.05,836.35 241.27,835.37 243.3,835.6C245.33,835.83 245.88,836.53 247.2,837.9C248.52,839.27 249.87,842.03 251.2,843.8C252.53,845.57 253.77,847.28 255.2,848.5C256.63,849.72 258.33,849.85 259.8,851.1C261.27,852.35 262.63,855.18 264,856C265.37,856.82 266.6,856.82 268,856C269.4,855.18 271,852.28 272.4,851.1C273.8,849.92 274.97,849.42 276.4,848.9C277.83,848.38 279.45,847.97 281,848C282.55,848.03 284.03,848.58 285.7,849.1C287.37,849.62 289.45,849.62 291,851.1C292.55,852.58 294.33,856.85 295,858L72,870Z" fill="#0000ff"/>
<path d="M72,814C73.75,815.83 80.66,823.6 82.5,825C84.34,826.4 82.83,823.36 83.04,822.38C83.25,821.41 83.48,820.34 83.76,819.16C84.05,817.98 84.42,816.46 84.75,815.3C85.08,814.15 85.45,813 85.74,812.22C86.02,811.44 86.25,810.99 86.46,810.62C86.67,810.25 86.86,810.01 87,810C87.14,809.99 87.18,810.24 87.3,810.58C87.42,810.93 87.54,811.35 87.7,812.07C87.86,812.8 88.07,813.87 88.25,814.95C88.43,816.03 88.64,817.45 88.8,818.55C88.96,819.65 89.08,820.65 89.2,821.56C89.32,822.46 89.37,823.97 89.5,824C89.63,824.03 89.79,822.57 89.98,821.73C90.17,820.89 90.37,819.96 90.62,818.94C90.87,817.92 91.21,816.6 91.5,815.6C91.79,814.59 92.13,813.6 92.38,812.93C92.63,812.25 92.83,811.86 93.02,811.54C93.21,811.22 93.36,810.99 93.5,811C93.64,811.01 93.72,811.24 93.86,811.58C94,811.93 94.15,812.35 94.34,813.07C94.53,813.8 94.78,814.87 95,815.95C95.22,817.03 95.47,818.45 95.66,819.55C95.85,820.65 96,821.65 96.14,822.56C96.28,823.46 96.34,824.99 96.5,825C96.66,825.01 96.87,823.52 97.1,822.64C97.33,821.77 97.58,820.81 97.9,819.75C98.22,818.69 98.63,817.31 99,816.27C99.37,815.23 99.78,814.2 100.1,813.5C100.42,812.8 100.67,812.39 100.9,812.06C101.13,811.73 101.33,811.5 101.5,811.5C101.67,811.5 101.77,811.74 101.94,812.08C102.12,812.43 102.3,812.85 102.54,813.57C102.77,814.3 103.08,815.37 103.35,816.45C103.62,817.53 103.93,818.95 104.16,820.05C104.4,821.15 104.58,822.15 104.76,823.06C104.93,823.96 104.99,825.5 105.2,825.5C105.41,825.5 105.7,823.96 106.02,823.06C106.33,822.15 106.67,821.15 107.1,820.05C107.53,818.95 108.1,817.53 108.6,816.45C109.1,815.37 109.67,814.3 110.1,813.57C110.53,812.85 110.87,812.43 111.18,812.08C111.5,811.74 111.77,811.49 112,811.5C112.23,811.51 112.33,811.75 112.54,812.12C112.75,812.49 112.98,812.94 113.26,813.72C113.55,814.5 113.92,815.65 114.25,816.8C114.58,817.96 114.95,819.48 115.24,820.66C115.52,821.84 115.75,822.91 115.96,823.88C116.17,824.86 115.91,827.98 116.5,826.5C117.09,825.02 118.5,817.25 119.5,815C120.5,812.75 121.5,813.58 122.5,813C123.5,812.42 124.5,810 125.5,811.5C126.5,813 127.5,818.08 128.5,822C129.5,825.92 130.75,834.5 131.5,835C132.25,835.5 132.5,828.33 133,825C133.5,821.67 133.67,816.58 134.5,815C135.33,813.42 136.58,816 138,815.5C139.42,815 141.5,812.75 143,812C144.5,811.25 145.5,810.5 147,811C148.5,811.5 150.67,812.83 152,815C153.33,817.17 154.08,822 155,824C155.92,826 156.67,827.17 157.5,827C158.33,826.83 159.17,824.67 160,823C160.83,821.33 161.75,819 162.5,817C163.25,815 163.58,811 164.5,811C165.42,811 166.83,815.33 168,817C169.17,818.67 170.33,821.08 171.5,821C172.67,820.92 173.92,816.33 175,816.5C176.08,816.67 176.83,821.67 178,822C179.17,822.33 180.5,818.83 182,818.5C183.5,818.17 185.17,819.42 187,820C188.83,820.58 191,821.17 193,822C195,822.83 197.17,823.83 199,825C200.83,826.17 202.33,827.33 204,829C205.67,830.67 207.5,833 209,835C210.5,837 211.83,839.33 213,841C214.17,842.67 214.83,844 216,845C217.17,846 218.5,846.58 220,847C221.5,847.42 223.67,847.5 225,847.5C226.33,847.5 227,847.25 228,847C229,846.75 229.83,846.17 231,846C232.17,845.83 232.73,846.47 235,846C237.27,845.53 242.33,843.33 244.6,843.2C246.87,843.07 247.28,844.25 248.6,845.2C249.92,846.15 251.3,847.92 252.5,848.9C253.7,849.88 254.72,849.58 255.8,851.1C256.88,852.62 258.47,856.85 259,858L72,870Z" fill="#ff00ff"/>
<path d="M72,819C73.75,820.83 80.66,828.6 82.5,830C84.34,831.4 82.83,828.36 83.04,827.38C83.25,826.4 83.48,825.32 83.76,824.1C84.05,822.88 84.42,821.3 84.75,820.06C85.08,818.83 85.45,817.57 85.74,816.69C86.02,815.82 86.25,815.27 86.46,814.82C86.67,814.37 86.86,813.97 87,814C87.14,814.03 87.18,814.46 87.3,815C87.42,815.55 87.54,816.22 87.7,817.28C87.86,818.35 88.07,819.88 88.25,821.39C88.43,822.89 88.64,824.83 88.8,826.31C88.96,827.8 89.08,829.11 89.2,830.3C89.32,831.5 89.37,833.47 89.5,833.5C89.63,833.53 89.79,831.61 89.98,830.47C90.17,829.33 90.37,828.09 90.62,826.68C90.87,825.27 91.21,823.44 91.5,822.01C91.79,820.58 92.13,819.12 92.38,818.11C92.63,817.1 92.83,816.47 93.02,815.95C93.21,815.43 93.36,815 93.5,815C93.64,815 93.72,815.44 93.86,815.98C94,816.51 94.15,817.16 94.34,818.2C94.53,819.23 94.78,820.73 95,822.2C95.22,823.67 95.47,825.55 95.66,827C95.85,828.44 96,829.72 96.14,830.89C96.28,832.05 96.34,833.97 96.5,834C96.66,834.03 96.87,832.16 97.1,831.05C97.33,829.94 97.58,828.74 97.9,827.36C98.22,825.99 98.63,824.21 99,822.82C99.37,821.43 99.78,820.01 100.1,819.03C100.42,818.05 100.67,817.43 100.9,816.92C101.13,816.42 101.33,816 101.5,816C101.67,816 101.77,816.42 101.94,816.92C102.12,817.43 102.3,818.05 102.54,819.03C102.77,820.01 103.08,821.43 103.35,822.82C103.62,824.21 103.93,825.99 104.16,827.36C104.4,828.74 104.58,829.94 104.76,831.05C104.93,832.16 104.99,834 105.2,834C105.41,834 105.7,832.16 106.02,831.05C106.33,829.94 106.67,828.74 107.1,827.36C107.53,825.99 108.1,824.21 108.6,822.82C109.1,821.43 109.67,820.01 110.1,819.03C110.53,818.05 110.87,817.43 111.18,816.92C111.5,816.42 111.77,816 112,816C112.23,816 112.33,816.42 112.54,816.92C112.75,817.43 112.98,818.05 113.26,819.03C113.55,820.01 113.92,821.43 114.25,822.82C114.58,824.21 114.95,825.99 115.24,827.36C115.52,828.74 115.75,829.94 115.96,831.05C116.17,832.16 115.91,835.34 116.5,834C117.09,832.66 118.5,825.5 119.5,823C120.5,820.5 121.5,820.17 122.5,819C123.5,817.83 124.5,814.67 125.5,816C126.5,817.33 127.5,823.25 128.5,827C129.5,830.75 130.75,837.67 131.5,838.5C132.25,839.33 132.5,834.42 133,832C133.5,829.58 133.67,825.42 134.5,824C135.33,822.58 136.58,824.17 138,823.5C139.42,822.83 141.5,821 143,820C144.5,819 145.5,816.83 147,817.5C148.5,818.17 150.67,821.08 152,824C153.33,826.92 154.08,833.17 155,835C155.92,836.83 156.67,835.83 157.5,835C158.33,834.17 159.17,832 160,830C160.83,828 161.75,824.67 162.5,823C163.25,821.33 163.58,819.83 164.5,820C165.42,820.17 166.83,822.83 168,824C169.17,825.17 170.33,826.83 171.5,827C172.67,827.17 173.92,824.83 175,825C176.08,825.17 176.83,827.75 178,828C179.17,828.25 180.5,826.5 182,826.5C183.5,826.5 185.17,827.33 187,828C188.83,828.67 191,829.58 193,830.5C195,831.42 197.17,832.42 199,833.5C200.83,834.58 202.33,835.75 204,837C205.67,838.25 207.5,839.42 209,841C210.5,842.58 211.83,845.08 213,846.5C214.17,847.92 214.83,848.83 216,849.5C217.17,850.17 218.5,850.22 220,850.5C221.5,850.78 223.67,851.02 225,851.2C226.33,851.38 227,851.38 228,851.6C229,851.82 229.83,851.93 231,852.5C232.17,853.07 234.33,854.58 235,855L72,870Z" fill="#b3b3b3"/>
<path d="M72,821C73.75,822.67 80.66,829.73 82.5,831C84.34,832.27 82.83,829.52 83.04,828.62C83.25,827.73 83.48,826.75 83.76,825.63C84.05,824.5 84.42,823.04 84.75,821.88C85.08,820.73 85.45,819.53 85.74,818.69C86.02,817.85 86.25,817.31 86.46,816.86C86.67,816.41 86.86,815.96 87,816C87.14,816.04 87.18,816.52 87.3,817.09C87.42,817.65 87.54,818.35 87.7,819.41C87.86,820.47 88.07,821.99 88.25,823.45C88.43,824.92 88.64,826.77 88.8,828.19C88.96,829.62 89.08,830.85 89.2,831.99C89.32,833.12 89.37,834.97 89.5,835C89.63,835.03 89.79,833.22 89.98,832.15C90.17,831.07 90.37,829.9 90.62,828.55C90.87,827.2 91.21,825.45 91.5,824.06C91.79,822.67 92.13,821.23 92.38,820.23C92.63,819.22 92.83,818.57 93.02,818.03C93.21,817.49 93.36,816.99 93.5,817C93.64,817.01 93.72,817.52 93.86,818.09C94,818.65 94.15,819.35 94.34,820.41C94.53,821.47 94.78,822.99 95,824.45C95.22,825.92 95.47,827.77 95.66,829.19C95.85,830.62 96,831.85 96.14,832.99C96.28,834.12 96.34,835.96 96.5,836C96.66,836.04 96.87,834.27 97.1,833.23C97.33,832.18 97.58,831.04 97.9,829.73C98.22,828.42 98.63,826.71 99,825.37C99.37,824.02 99.78,822.62 100.1,821.64C100.42,820.66 100.67,820.02 100.9,819.5C101.13,818.98 101.33,818.5 101.5,818.5C101.67,818.5 101.77,818.98 101.94,819.5C102.12,820.02 102.3,820.66 102.54,821.64C102.77,822.62 103.08,824.02 103.35,825.37C103.62,826.71 103.93,828.42 104.16,829.73C104.4,831.04 104.58,832.18 104.76,833.23C104.93,834.27 104.99,836.01 105.2,836C105.41,835.99 105.7,834.22 106.02,833.15C106.33,832.07 106.67,830.9 107.1,829.55C107.53,828.2 108.1,826.45 108.6,825.06C109.1,823.67 109.67,822.23 110.1,821.23C110.53,820.22 110.87,819.57 111.18,819.03C111.5,818.49 111.77,818 112,818C112.23,818 112.33,818.5 112.54,819.06C112.75,819.61 112.98,820.28 113.26,821.32C113.55,822.35 113.92,823.83 114.25,825.26C114.58,826.68 114.95,828.49 115.24,829.87C115.52,831.26 115.75,832.46 115.96,833.57C116.17,834.67 115.91,837.59 116.5,836.5C117.09,835.41 118.5,829.42 119.5,827C120.5,824.58 121.5,823.42 122.5,822C123.5,820.58 124.5,817.33 125.5,818.5C126.5,819.67 127.5,825.5 128.5,829C129.5,832.5 130.75,838.5 131.5,839.5C132.25,840.5 132.5,836.75 133,835C133.5,833.25 133.67,829.92 134.5,829C135.33,828.08 136.58,830.33 138,829.5C139.42,828.67 141.5,825.33 143,824C144.5,822.67 145.5,820.83 147,821.5C148.5,822.17 150.67,825.08 152,828C153.33,830.92 154.08,836.67 155,839C155.92,841.33 156.67,842.67 157.5,842C158.33,841.33 159.17,837.33 160,835C160.83,832.67 161.75,829.83 162.5,828C163.25,826.17 163.58,823.83 164.5,824C165.42,824.17 166.83,827.67 168,829C169.17,830.33 170.33,831.92 171.5,832C172.67,832.08 173.92,829.5 175,829.5C176.08,829.5 176.83,831.58 178,832C179.17,832.42 180.5,831.75 182,832C183.5,832.25 185.17,832.92 187,833.5C188.83,834.08 191,834.75 193,835.5C195,836.25 197.17,837 199,838C200.83,839 202.33,840.33 204,841.5C205.67,842.67 207.5,843.67 209,845C210.5,846.33 211.83,848.25 213,849.5C214.17,850.75 214.83,851.58 216,852.5C217.17,853.42 218.5,853.92 220,855C221.5,856.08 223.67,858.33 225,859C226.33,859.67 227,859 228,859C229,859 229.83,859 231,859C232.17,859 234.33,859 235,859L72,870Z" fill="#ffffff"/>
<path d="M553,646C553.38,647.43 554.25,651.83 555.3,654.6C556.35,657.37 557.75,659.95 559.3,662.6C560.85,665.25 562.83,668.4 564.6,670.5C566.37,672.6 568.13,674.25 569.9,675.2C571.67,676.15 573.43,676.53 575.2,676.2C576.97,675.87 578.73,674.47 580.5,673.2C582.27,671.93 584.25,669.48 585.8,668.6C587.35,667.72 588.25,667.58 589.8,667.9C591.35,668.22 593.12,669.28 595.1,670.5C597.08,671.72 599.72,674.2 601.7,675.2C603.68,676.2 605.45,676.72 607,676.5C608.55,676.28 609.45,675.12 611,673.9C612.55,672.68 614.53,670.08 616.3,669.2C618.07,668.32 619.73,668.27 621.6,668.6C623.47,668.93 625.73,669.43 627.5,671.2C629.27,672.97 630.53,676.67 632.2,679.2C633.87,681.73 635.73,684.87 637.5,686.4C639.27,687.93 640.82,687.4 642.8,688.4C644.78,689.4 647.37,691.55 649.4,692.4C651.43,693.25 653.23,693.07 655,693.5C656.77,693.93 658.33,694.42 660,695C661.67,695.58 663.33,696.25 665,697C666.67,697.75 668.33,698.67 670,699.5C671.67,700.33 673.33,701.17 675,702C676.67,702.83 678.33,703.33 680,704.5C681.67,705.67 683.33,707.75 685,709C686.67,710.25 688.33,711.08 690,712C691.67,712.92 693.33,713.83 695,714.5C696.67,715.17 698.33,715.67 700,716C701.67,716.33 703.33,716.67 705,716.5C706.67,716.33 708.33,715.92 710,715C711.67,714.08 713.33,712.67 715,711C716.67,709.33 718.5,707.33 720,705C721.5,702.67 722.83,699.17 724,697C725.17,694.83 726.25,692.92 727,692C727.75,691.08 728,691.5 728.5,691.5C729,691.5 729.33,690.75 730,692C730.67,693.25 731.67,697.25 732.5,699C733.33,700.75 733.92,702.42 735,702.5C736.08,702.58 737.67,699.75 739,699.5C740.33,699.25 741.5,700.58 743,701C744.5,701.42 746.33,702.5 748,702C749.67,701.5 751.53,700.17 753,698C754.47,695.83 755.88,689.33 756.8,689C757.72,688.67 757.97,693.92 758.5,696C759.03,698.08 759.42,701.33 760,701.5C760.58,701.67 761.17,697.08 762,697C762.83,696.92 763.92,700.08 765,701C766.08,701.92 767.5,703 768.5,702.5C769.5,702 770.17,699.83 771,698C771.83,696.17 772.5,691.33 773.5,691.5C774.5,691.67 775.83,697.17 777,699C778.17,700.83 779.5,702.67 780.5,702.5C781.5,702.33 782.2,699.75 783,698C783.8,696.25 784.47,691.83 785.3,692C786.13,692.17 787.18,697.42 788,699C788.82,700.58 789.45,701.83 790.2,701.5C790.95,701.17 791.78,698.17 792.5,697C793.22,695.83 793.75,694.08 794.5,694.5C795.25,694.92 796.28,698.33 797,699.5C797.72,700.67 798.22,702.08 798.8,701.5C799.38,700.92 800.02,697.58 800.5,696C800.98,694.42 801.2,691.42 801.7,692C802.2,692.58 802.78,698.08 803.5,699.5C804.22,700.92 805.08,700.17 806,700.5C806.92,700.83 807,701.33 809,701.5C811,701.67 816.5,701.5 818,701.5L818,640Z" fill="#0000ff"/>
<path d="M559,646C559.82,647.43 562.3,652.28 563.9,654.6C565.5,656.92 566.93,658.63 568.6,659.9C570.27,661.17 571.92,662.03 573.9,662.2C575.88,662.37 578.3,661.43 580.5,660.9C582.7,660.37 585.12,659.1 587.1,659C589.08,658.9 590.18,659.37 592.4,660.3C594.62,661.23 597.97,663.4 600.4,664.6C602.83,665.8 605.23,667.4 607,667.5C608.77,667.6 609.45,666.17 611,665.2C612.55,664.23 614.53,662.35 616.3,661.7C618.07,661.05 619.73,661.03 621.6,661.3C623.47,661.57 625.73,661.87 627.5,663.3C629.27,664.73 630.53,667.82 632.2,669.9C633.87,671.98 635.73,674.15 637.5,675.8C639.27,677.45 640.82,678.35 642.8,679.8C644.78,681.25 647.37,683.3 649.4,684.5C651.43,685.7 653.23,686.25 655,687C656.77,687.75 658.33,688.25 660,689C661.67,689.75 663.33,690.67 665,691.5C666.67,692.33 668.33,693.08 670,694C671.67,694.92 673.33,696 675,697C676.67,698 678.33,698.83 680,700C681.67,701.17 683.33,702.75 685,704C686.67,705.25 688.33,706.42 690,707.5C691.67,708.58 693.33,709.75 695,710.5C696.67,711.25 698.33,711.67 700,712C701.67,712.33 703.33,712.67 705,712.5C706.67,712.33 708.33,712 710,711C711.67,710 713.33,708.17 715,706.5C716.67,704.83 718.5,703.25 720,701C721.5,698.75 722.83,695 724,693C725.17,691 726.25,689.92 727,689C727.75,688.08 728,687.67 728.5,687.5C729,687.33 729.33,686.75 730,688C730.67,689.25 731.67,693.17 732.5,695C733.33,696.83 733.92,698.83 735,699C736.08,699.17 737.67,696.33 739,696C740.33,695.67 741.5,696.5 743,697C744.5,697.5 746.33,699.33 748,699C749.67,698.67 751.53,697.17 753,695C754.47,692.83 755.88,686.33 756.8,686C757.72,685.67 757.97,691 758.5,693C759.03,695 759.42,697.83 760,698C760.58,698.17 761.17,694 762,694C762.83,694 763.92,697.17 765,698C766.08,698.83 767.5,699.5 768.5,699C769.5,698.5 770.17,696.75 771,695C771.83,693.25 772.5,688.33 773.5,688.5C774.5,688.67 775.83,694.17 777,696C778.17,697.83 779.5,699.67 780.5,699.5C781.5,699.33 782.2,696.75 783,695C783.8,693.25 784.47,688.83 785.3,689C786.13,689.17 787.18,694.5 788,696C788.82,697.5 789.45,698.33 790.2,698C790.95,697.67 791.78,695.08 792.5,694C793.22,692.92 793.75,691.08 794.5,691.5C795.25,691.92 796.28,695.33 797,696.5C797.72,697.67 798.22,699.08 798.8,698.5C799.38,697.92 800.02,694.58 800.5,693C800.98,691.42 801.2,688.33 801.7,689C802.2,689.67 802.78,695.5 803.5,697C804.22,698.5 805.08,697.67 806,698C806.92,698.33 807,698.83 809,699C811,699.17 816.5,699 818,699L818,640Z" fill="#ff00ff"/>
<path d="M620,646C621.37,647.43 626.17,652.6 628.2,654.6C630.23,656.6 630.65,656.67 632.2,658C633.75,659.33 635.73,661.17 637.5,662.6C639.27,664.03 640.82,665.05 642.8,666.6C644.78,668.15 647.37,670.58 649.4,671.9C651.43,673.22 653.23,673.65 655,674.5C656.77,675.35 658.33,676.08 660,677C661.67,677.92 663.33,678.83 665,680C666.67,681.17 668.33,682.58 670,684C671.67,685.42 673.33,687.08 675,688.5C676.67,689.92 678.33,691.17 680,692.5C681.67,693.83 683.33,695.33 685,696.5C686.67,697.67 688.33,698.67 690,699.5C691.67,700.33 693.33,701 695,701.5C696.67,702 698.33,702.25 700,702.5C701.67,702.75 703.33,703 705,703C706.67,703 708.33,703 710,702.5C711.67,702 713.33,701.25 715,700C716.67,698.75 718.5,697.33 720,695C721.5,692.67 722.83,688.42 724,686C725.17,683.58 726.25,681.58 727,680.5C727.75,679.42 728,679.58 728.5,679.5C729,679.42 729.33,678.42 730,680C730.67,681.58 731.67,686.67 732.5,689C733.33,691.33 733.92,694 735,694C736.08,694 737.67,689.58 739,689C740.33,688.42 741.5,689.75 743,690.5C744.5,691.25 746.33,693.58 748,693.5C749.67,693.42 751.53,692.58 753,690C754.47,687.42 755.88,678.67 756.8,678C757.72,677.33 757.97,683.67 758.5,686C759.03,688.33 759.42,691.83 760,692C760.58,692.17 761.17,687 762,687C762.83,687 763.92,690.83 765,692C766.08,693.17 767.5,694.67 768.5,694C769.5,693.33 770.17,690.5 771,688C771.83,685.5 772.5,678.75 773.5,679C774.5,679.25 775.83,687.08 777,689.5C778.17,691.92 779.5,693.75 780.5,693.5C781.5,693.25 782.2,690.33 783,688C783.8,685.67 784.47,679.17 785.3,679.5C786.13,679.83 787.18,687.92 788,690C788.82,692.08 789.45,692.5 790.2,692C790.95,691.5 791.78,688.5 792.5,687C793.22,685.5 793.75,682.42 794.5,683C795.25,683.58 796.28,688.92 797,690.5C797.72,692.08 798.22,693.25 798.8,692.5C799.38,691.75 800.02,688.17 800.5,686C800.98,683.83 801.2,678.83 801.7,679.5C802.2,680.17 802.78,688.17 803.5,690C804.22,691.83 805.08,690.42 806,690.5C806.92,690.58 807,690.5 809,690.5C811,690.5 816.5,690.5 818,690.5L818,640Z" fill="#b3b3b3"/>
<path d="M624,646C625.47,647.43 630.55,652.5 632.8,654.6C635.05,656.7 635.83,657.38 637.5,658.6C639.17,659.82 640.82,660.68 642.8,661.9C644.78,663.12 647.37,664.97 649.4,665.9C651.43,666.83 653.23,666.82 655,667.5C656.77,668.18 658.33,669.08 660,670C661.67,670.92 663.33,671.83 665,673C666.67,674.17 668.33,675.5 670,677C671.67,678.5 673.33,680.42 675,682C676.67,683.58 678.33,685 680,686.5C681.67,688 683.33,689.67 685,691C686.67,692.33 688.33,693.42 690,694.5C691.67,695.58 693.33,696.67 695,697.5C696.67,698.33 698.33,699 700,699.5C701.67,700 703.33,700.42 705,700.5C706.67,700.58 708.33,700.5 710,700C711.67,699.5 713.33,698.83 715,697.5C716.67,696.17 718.5,694.42 720,692C721.5,689.58 722.83,685.58 724,683C725.17,680.42 726.25,677.92 727,676.5C727.75,675.08 728,674.67 728.5,674.5C729,674.33 729.33,673.92 730,675.5C730.67,677.08 731.67,681.58 732.5,684C733.33,686.42 733.92,690.17 735,690C736.08,689.83 737.67,683.67 739,683C740.33,682.33 741.5,684.58 743,686C744.5,687.42 746.33,691.67 748,691.5C749.67,691.33 751.53,688.08 753,685C754.47,681.92 755.88,673.83 756.8,673C757.72,672.17 757.97,678 758.5,680C759.03,682 759.42,684.75 760,685C760.58,685.25 761.17,681 762,681.5C762.83,682 763.92,686.25 765,688C766.08,689.75 767.5,692.67 768.5,692C769.5,691.33 770.17,687.08 771,684C771.83,680.92 772.5,673.33 773.5,673.5C774.5,673.67 775.83,682 777,685C778.17,688 779.5,691.67 780.5,691.5C781.5,691.33 782.2,686.83 783,684C783.8,681.17 784.47,674.17 785.3,674.5C786.13,674.83 787.18,683.42 788,686C788.82,688.58 789.45,690.5 790.2,690C790.95,689.5 791.78,684.92 792.5,683C793.22,681.08 793.75,677.83 794.5,678.5C795.25,679.17 796.28,685 797,687C797.72,689 798.22,691.33 798.8,690.5C799.38,689.67 800.02,684.58 800.5,682C800.98,679.42 801.2,674.33 801.7,675C802.2,675.67 802.78,684.17 803.5,686C804.22,687.83 805.08,686.08 806,686C806.92,685.92 807,685.58 809,685.5C811,685.42 816.5,685.5 818,685.5L818,640Z" fill="#ffffff"/>
<path d="M566,858C566.65,856.85 568.58,852.65 569.9,851.1C571.22,849.55 572.58,849.2 573.9,848.7C575.22,848.2 576.27,848.03 577.8,848.1C579.33,848.17 581.1,849 583.1,849.1C585.1,849.2 587.58,849.25 589.8,848.7C592.02,848.15 594.2,846.95 596.4,845.8C598.6,844.65 600.8,842.95 603,841.8C605.2,840.65 607.83,839.12 609.6,838.9C611.37,838.68 612.05,839.98 613.6,840.5C615.15,841.02 617.13,841.75 618.9,842C620.67,842.25 622.77,841.93 624.2,842C625.63,842.07 626.4,843.32 627.5,842.4C628.6,841.48 629.58,838.7 630.8,836.5C632.02,834.3 633.47,831.08 634.8,829.2C636.13,827.32 637.25,826.08 638.8,825.2C640.35,824.32 642.12,824.72 644.1,823.9C646.08,823.08 648.88,821.03 650.7,820.3C652.52,819.57 653.45,820.05 655,819.5C656.55,818.95 658.33,817.92 660,817C661.67,816.08 663.33,815 665,814C666.67,813 668.33,812 670,811C671.67,810 673.33,808.92 675,808C676.67,807.08 678.33,806.25 680,805.5C681.67,804.75 683.33,804.25 685,803.5C686.67,802.75 688.33,802 690,801C691.67,800 693.33,798.42 695,797.5C696.67,796.58 698.33,795.92 700,795.5C701.67,795.08 703.33,795 705,795C706.67,795 708.33,795 710,795.5C711.67,796 713.33,796.75 715,798C716.67,799.25 718.5,801.25 720,803C721.5,804.75 722.83,806.75 724,808.5C725.17,810.25 726.17,812.5 727,813.5C727.83,814.5 728.5,814.08 729,814.5C729.5,814.92 729.42,816.92 730,816C730.58,815.08 731.67,811.08 732.5,809C733.33,806.92 733.92,803.92 735,803.5C736.08,803.08 737.67,806.08 739,806.5C740.33,806.92 741.5,806.42 743,806C744.5,805.58 746.33,803.5 748,804C749.67,804.5 751.53,806.83 753,809C754.47,811.17 755.88,816.83 756.8,817C757.72,817.17 757.97,812.08 758.5,810C759.03,807.92 759.42,804.83 760,804.5C760.58,804.17 761.17,807.83 762,808C762.83,808.17 763.92,806.25 765,805.5C766.08,804.75 767.5,802.92 768.5,803.5C769.5,804.08 770.17,807.08 771,809C771.83,810.92 772.5,815.33 773.5,815C774.5,814.67 775.83,808.92 777,807C778.17,805.08 779.5,803.17 780.5,803.5C781.5,803.83 782.2,807.17 783,809C783.8,810.83 784.47,814.75 785.3,814.5C786.13,814.25 787.18,809.25 788,807.5C788.82,805.75 789.45,803.75 790.2,804C790.95,804.25 791.78,807.58 792.5,809C793.22,810.42 793.75,812.92 794.5,812.5C795.25,812.08 796.28,807.92 797,806.5C797.72,805.08 798.22,803.42 798.8,804C799.38,804.58 800.02,808.33 800.5,810C800.98,811.67 801.2,814.67 801.7,814C802.2,813.33 802.78,807.58 803.5,806C804.22,804.42 805.08,804.83 806,804.5C806.92,804.17 807,804.08 809,804C811,803.92 816.5,804 818,804L818,870Z" fill="#0000ff"/>
<path d="M595,858C595.67,856.85 597.67,852.7 599,851.1C600.33,849.5 601.45,849.33 603,848.4C604.55,847.47 606.53,845.83 608.3,845.5C610.07,845.17 611.83,845.97 613.6,846.4C615.37,846.83 617.13,847.87 618.9,848.1C620.67,848.33 622.65,848.18 624.2,847.8C625.75,847.42 626.87,847.02 628.2,845.8C629.53,844.58 630.88,842.17 632.2,840.5C633.52,838.83 634.55,837.02 636.1,835.8C637.65,834.58 639.72,834.08 641.5,833.2C643.28,832.32 644.55,831.78 646.8,830.5C649.05,829.22 652.8,826.75 655,825.5C657.2,824.25 658.33,823.92 660,823C661.67,822.08 663.33,821 665,820C666.67,819 668.33,818.08 670,817C671.67,815.92 673.33,814.67 675,813.5C676.67,812.33 678.33,811 680,810C681.67,809 683.33,808.25 685,807.5C686.67,806.75 688.33,806.08 690,805.5C691.67,804.92 693.33,804.5 695,804C696.67,803.5 698.33,802.92 700,802.5C701.67,802.08 703.33,801.58 705,801.5C706.67,801.42 708.33,801.58 710,802C711.67,802.42 713.33,802.83 715,804C716.67,805.17 718.5,807.25 720,809C721.5,810.75 722.83,812.58 724,814.5C725.17,816.42 726.17,819.25 727,820.5C727.83,821.75 728.5,821.42 729,822C729.5,822.58 729.42,825 730,824C730.58,823 731.67,818.67 732.5,816C733.33,813.33 733.92,808.92 735,808C736.08,807.08 737.67,810.17 739,810.5C740.33,810.83 741.5,810.5 743,810C744.5,809.5 746.33,806.67 748,807.5C749.67,808.33 751.53,811.92 753,815C754.47,818.08 755.88,825.67 756.8,826C757.72,826.33 757.97,819.67 758.5,817C759.03,814.33 759.42,810.5 760,810C760.58,809.5 761.17,814 762,814C762.83,814 763.92,811.08 765,810C766.08,808.92 767.5,806.67 768.5,807.5C769.5,808.33 770.17,812.25 771,815C771.83,817.75 772.5,824.33 773.5,824C774.5,823.67 775.83,815.75 777,813C778.17,810.25 779.5,807.33 780.5,807.5C781.5,807.67 782.2,811.42 783,814C783.8,816.58 784.47,823.25 785.3,823C786.13,822.75 787.18,815 788,812.5C788.82,810 789.45,807.75 790.2,808C790.95,808.25 791.78,812.17 792.5,814C793.22,815.83 793.75,819.5 794.5,819C795.25,818.5 796.28,812.92 797,811C797.72,809.08 798.22,806.67 798.8,807.5C799.38,808.33 800.02,813.42 800.5,816C800.98,818.58 801.2,823.83 801.7,823C802.2,822.17 802.78,813.33 803.5,811C804.22,808.67 805.08,809.42 806,809C806.92,808.58 807,808.58 809,808.5C811,808.42 816.5,808.5 818,808.5L818,870Z" fill="#ff00ff"/>
<path d="M625,858C626.3,856.85 630.72,852.92 632.8,851.1C634.88,849.28 635.83,848.32 637.5,847.1C639.17,845.88 640.82,845.02 642.8,843.8C644.78,842.58 647.37,841.1 649.4,839.8C651.43,838.5 653.23,837.05 655,836C656.77,834.95 658.33,834.42 660,833.5C661.67,832.58 663.33,831.58 665,830.5C666.67,829.42 668.33,828.25 670,827C671.67,825.75 673.33,824.33 675,823C676.67,821.67 678.33,820.33 680,819C681.67,817.67 683.33,816.17 685,815C686.67,813.83 688.33,812.92 690,812C691.67,811.08 693.33,810.25 695,809.5C696.67,808.75 698.33,807.92 700,807.5C701.67,807.08 703.33,807.08 705,807C706.67,806.92 708.33,806.67 710,807C711.67,807.33 713.33,807.67 715,809C716.67,810.33 718.5,812.83 720,815C721.5,817.17 722.83,819.83 724,822C725.17,824.17 726.17,826.75 727,828C727.83,829.25 728.5,829.5 729,829.5C729.5,829.5 729.42,829.25 730,828C730.58,826.75 731.67,824.5 732.5,822C733.33,819.5 733.92,813.83 735,813C736.08,812.17 737.67,816.33 739,817C740.33,817.67 741.5,817.75 743,817C744.5,816.25 746.33,812.17 748,812.5C749.67,812.83 751.53,816.08 753,819C754.47,821.92 755.88,829.67 756.8,830C757.72,830.33 757.97,823.67 758.5,821C759.03,818.33 759.42,814.17 760,814C760.58,813.83 761.17,819.83 762,820C762.83,820.17 763.92,816.33 765,815C766.08,813.67 767.5,811.17 768.5,812C769.5,812.83 770.17,817.17 771,820C771.83,822.83 772.5,829.17 773.5,829C774.5,828.83 775.83,821.83 777,819C778.17,816.17 779.5,811.83 780.5,812C781.5,812.17 782.2,817.33 783,820C783.8,822.67 784.47,828.33 785.3,828C786.13,827.67 787.18,820.58 788,818C788.82,815.42 789.45,812.25 790.2,812.5C790.95,812.75 791.78,817.42 792.5,819.5C793.22,821.58 793.75,825.58 794.5,825C795.25,824.42 796.28,818.25 797,816C797.72,813.75 798.22,810.5 798.8,811.5C799.38,812.5 800.02,819.25 800.5,822C800.98,824.75 801.2,829 801.7,828C802.2,827 802.78,818.17 803.5,816C804.22,813.83 805.08,815.25 806,815C806.92,814.75 807,814.58 809,814.5C811,814.42 816.5,814.5 818,814.5L818,870Z" fill="#b3b3b3"/>
<path d="M630,858C631.47,856.85 636.45,852.7 638.8,851.1C641.15,849.5 642.33,849.28 644.1,848.4C645.87,847.52 647.58,846.7 649.4,845.8C651.22,844.9 653.23,843.63 655,843C656.77,842.37 658.33,842.67 660,842C661.67,841.33 663.33,840.17 665,839C666.67,837.83 668.33,836.42 670,835C671.67,833.58 673.33,832.17 675,830.5C676.67,828.83 678.33,826.75 680,825C681.67,823.25 683.33,821.5 685,820C686.67,818.5 688.33,817.17 690,816C691.67,814.83 693.33,813.83 695,813C696.67,812.17 698.33,811.5 700,811C701.67,810.5 703.33,810.08 705,810C706.67,809.92 708.33,810 710,810.5C711.67,811 713.33,811.58 715,813C716.67,814.42 718.5,816.92 720,819C721.5,821.08 722.83,823.42 724,825.5C725.17,827.58 726.17,830.42 727,831.5C727.83,832.58 728.5,831.92 729,832C729.5,832.08 729.42,833.17 730,832C730.58,830.83 731.67,827.67 732.5,825C733.33,822.33 733.92,816.42 735,816C736.08,815.58 737.67,821.5 739,822.5C740.33,823.5 741.5,823.33 743,822C744.5,820.67 746.33,814.5 748,814.5C749.67,814.5 751.53,818.92 753,822C754.47,825.08 755.88,832.5 756.8,833C757.72,833.5 757.97,827.5 758.5,825C759.03,822.5 759.42,818.17 760,818C760.58,817.83 761.17,824 762,824C762.83,824 763.92,819.67 765,818C766.08,816.33 767.5,813.08 768.5,814C769.5,814.92 770.17,820.42 771,823.5C771.83,826.58 772.5,832.58 773.5,832.5C774.5,832.42 775.83,826.08 777,823C778.17,819.92 779.5,813.83 780.5,814C781.5,814.17 782.2,821.08 783,824C783.8,826.92 784.47,831.92 785.3,831.5C786.13,831.08 787.18,824.33 788,821.5C788.82,818.67 789.45,814.25 790.2,814.5C790.95,814.75 791.78,820.75 792.5,823C793.22,825.25 793.75,828.75 794.5,828C795.25,827.25 796.28,820.92 797,818.5C797.72,816.08 798.22,812.25 798.8,813.5C799.38,814.75 800.02,823.08 800.5,826C800.98,828.92 801.2,832.17 801.7,831C802.2,829.83 802.78,821.17 803.5,819C804.22,816.83 805.08,818.25 806,818C806.92,817.75 807,817.58 809,817.5C811,817.42 816.5,817.5 818,817.5L818,870Z" fill="#ffffff"/>
<polygon points="262.7,808.2 264.3,812.12 269.17,812.21 265.29,814.72 266.7,818.69 262.7,816.32 258.7,818.69 260.11,814.72 256.23,812.21 261.1,812.12" fill="#000"/>
<path d="M262.55,653.95V851.55M445.1,653.95V851.55M627.65,653.95V851.55M80,752.75H810.2" stroke="#7a7a7a" stroke-width="1" fill="none"/>
</g>
<path d="M80,653.95v16.5M80,851.55v-16.5M171.28,653.95v16.5M171.28,851.55v-16.5M262.55,653.95v16.5M262.55,851.55v-16.5M353.83,653.95v16.5M353.83,851.55v-16.5M445.1,653.95v16.5M445.1,851.55v-16.5M536.38,653.95v16.5M536.38,851.55v-16.5M627.65,653.95v16.5M627.65,851.55v-16.5M718.93,653.95v16.5M718.93,851.55v-16.5M810.2,653.95v16.5M810.2,851.55v-16.5M84.18,653.95v8.5M84.18,851.55v-8.5M88.85,653.95v8.5M88.85,851.55v-8.5M94.14,653.95v8.5M94.14,851.55v-8.5M100.25,653.95v8.5M100.25,851.55v-8.5M107.48,653.95v8.5M107.48,851.55v-8.5M116.32,653.95v8.5M116.32,851.55v-8.5M127.73,653.95v8.5M127.73,851.55v-8.5M143.8,653.95v8.5M143.8,851.55v-8.5M175.45,653.95v8.5M175.45,851.55v-8.5M180.12,653.95v8.5M180.12,851.55v-8.5M185.41,653.95v8.5M185.41,851.55v-8.5M191.52,653.95v8.5M191.52,851.55v-8.5M198.75,653.95v8.5M198.75,851.55v-8.5M207.6,653.95v8.5M207.6,851.55v-8.5M219,653.95v8.5M219,851.55v-8.5M235.07,653.95v8.5M235.07,851.55v-8.5M266.73,653.95v8.5M266.73,851.55v-8.5M271.4,653.95v8.5M271.4,851.55v-8.5M276.69,653.95v8.5M276.69,851.55v-8.5M282.8,653.95v8.5M282.8,851.55v-8.5M290.03,653.95v8.5M290.03,851.55v-8.5M298.87,653.95v8.5M298.87,851.55v-8.5M310.28,653.95v8.5M310.28,851.55v-8.5M326.35,653.95v8.5M326.35,851.55v-8.5M357.58,653.95v8.5M357.58,851.55v-8.5M362.28,653.95v8.5M362.28,851.55v-8.5M367.18,653.95v8.5M367.18,851.55v-8.5M373.08,653.95v8.5M373.08,851.55v-8.5M379.88,653.95v8.5M379.88,851.55v-8.5M388.08,653.95v8.5M388.08,851.55v-8.5M397.79,653.95v8.5M397.79,851.55v-8.5M410.39,653.95v8.5M410.39,851.55v-8.5M426.09,653.95v8.5M426.09,851.55v-8.5M464.11,653.95v8.5M464.11,851.55v-8.5M479.81,653.95v8.5M479.81,851.55v-8.5M492.41,653.95v8.5M492.41,851.55v-8.5M502.12,653.95v8.5M502.12,851.55v-8.5M510.32,653.95v8.5M510.32,851.55v-8.5M517.12,653.95v8.5M517.12,851.55v-8.5M523.02,653.95v8.5M523.02,851.55v-8.5M527.92,653.95v8.5M527.92,851.55v-8.5M532.62,653.95v8.5M532.62,851.55v-8.5M563.85,653.95v8.5M563.85,851.55v-8.5M579.92,653.95v8.5M579.92,851.55v-8.5M591.33,653.95v8.5M591.33,851.55v-8.5M600.17,653.95v8.5M600.17,851.55v-8.5M607.4,653.95v8.5M607.4,851.55v-8.5M613.51,653.95v8.5M613.51,851.55v-8.5M618.8,653.95v8.5M618.8,851.55v-8.5M623.47,653.95v8.5M623.47,851.55v-8.5M655.13,653.95v8.5M655.13,851.55v-8.5M671.2,653.95v8.5M671.2,851.55v-8.5M682.6,653.95v8.5M682.6,851.55v-8.5M691.45,653.95v8.5M691.45,851.55v-8.5M698.68,653.95v8.5M698.68,851.55v-8.5M704.79,653.95v8.5M704.79,851.55v-8.5M710.08,653.95v8.5M710.08,851.55v-8.5M714.75,653.95v8.5M714.75,851.55v-8.5M746.4,653.95v8.5M746.4,851.55v-8.5M762.47,653.95v8.5M762.47,851.55v-8.5M773.88,653.95v8.5M773.88,851.55v-8.5M782.72,653.95v8.5M782.72,851.55v-8.5M789.95,653.95v8.5M789.95,851.55v-8.5M796.06,653.95v8.5M796.06,851.55v-8.5M801.35,653.95v8.5M801.35,851.55v-8.5M806.02,653.95v8.5M806.02,851.55v-8.5M80,663.83h8.5M810.2,663.83h-8.5M80,673.71h8.5M810.2,673.71h-8.5M80,683.59h8.5M810.2,683.59h-8.5M80,693.47h8.5M810.2,693.47h-8.5M80,703.35h16.5M810.2,703.35h-16.5M80,713.23h8.5M810.2,713.23h-8.5M80,723.11h8.5M810.2,723.11h-8.5M80,732.99h8.5M810.2,732.99h-8.5M80,742.87h8.5M810.2,742.87h-8.5M80,752.75h16.5M810.2,752.75h-16.5M80,762.63h8.5M810.2,762.63h-8.5M80,772.51h8.5M810.2,772.51h-8.5M80,782.39h8.5M810.2,782.39h-8.5M80,792.27h8.5M810.2,792.27h-8.5M80,802.15h16.5M810.2,802.15h-16.5M80,812.03h8.5M810.2,812.03h-8.5M80,821.91h8.5M810.2,821.91h-8.5M80,831.79h8.5M810.2,831.79h-8.5M80,841.67h8.5M810.2,841.67h-8.5" stroke="#000" stroke-width="1.4" fill="none"/>
<rect x="80" y="653.95" width="730.2" height="197.6" fill="none" stroke="#000" stroke-width="1.5"/>
<g clip-path="url(#c4)">
<rect x="80" y="868.8" width="730.2" height="197.7" fill="#ffcce6"/>
<path d="M72,962C73.67,962.42 79.92,965 82,964.5C84.08,964 84.03,959.75 84.5,959C84.97,958.25 84.68,959.64 84.8,960.02C84.92,960.39 85.04,960.8 85.2,961.25C85.36,961.69 85.57,962.26 85.75,962.69C85.93,963.11 86.14,963.51 86.3,963.78C86.46,964.05 86.58,964.2 86.7,964.32C86.82,964.43 86.88,964.5 87,964.5C87.12,964.5 87.26,964.44 87.42,964.33C87.58,964.22 87.76,964.09 87.98,963.85C88.2,963.6 88.49,963.23 88.75,962.85C89.01,962.47 89.3,961.95 89.52,961.54C89.74,961.14 89.92,960.77 90.08,960.42C90.24,960.08 90.36,959.49 90.5,959.5C90.64,959.51 90.76,960.12 90.92,960.48C91.08,960.84 91.26,961.24 91.48,961.67C91.7,962.1 91.99,962.64 92.25,963.05C92.51,963.46 92.8,963.85 93.02,964.11C93.24,964.37 93.42,964.51 93.58,964.62C93.74,964.74 93.84,964.81 94,964.8C94.16,964.79 94.33,964.73 94.54,964.59C94.75,964.45 94.98,964.29 95.26,963.98C95.55,963.67 95.92,963.21 96.25,962.72C96.58,962.24 96.95,961.58 97.24,961.08C97.52,960.57 97.75,960.09 97.96,959.67C98.17,959.24 98.32,958.49 98.5,958.5C98.68,958.51 98.83,959.26 99.04,959.7C99.25,960.15 99.48,960.63 99.76,961.16C100.05,961.68 100.42,962.36 100.75,962.86C101.08,963.35 101.45,963.83 101.74,964.15C102.02,964.47 102.25,964.64 102.46,964.78C102.67,964.92 102.82,965.01 103,965C103.18,964.99 103.33,964.91 103.54,964.75C103.75,964.58 103.98,964.39 104.26,964.02C104.55,963.65 104.92,963.1 105.25,962.53C105.58,961.95 105.95,961.17 106.24,960.57C106.52,959.96 106.75,959.4 106.96,958.89C107.17,958.38 107.3,957.5 107.5,957.5C107.7,957.5 107.9,958.38 108.16,958.89C108.42,959.4 108.69,959.96 109.04,960.57C109.39,961.17 109.85,961.95 110.25,962.53C110.65,963.1 111.11,963.65 111.46,964.02C111.81,964.39 112.08,964.58 112.34,964.75C112.6,964.91 112.77,965.01 113,965C113.23,964.99 113.44,964.9 113.72,964.71C114,964.53 114.3,964.31 114.68,963.89C115.06,963.47 115.56,962.85 116,962.2C116.44,961.54 116.94,960.66 117.32,959.97C117.7,959.29 118,958.65 118.28,958.07C118.56,957.49 118.7,956.52 119,956.5C119.3,956.48 119.66,957.43 120.08,957.98C120.5,958.52 120.95,959.12 121.52,959.77C122.09,960.42 122.84,961.25 123.5,961.86C124.16,962.48 124.91,963.06 125.48,963.46C126.05,963.85 126.5,964.06 126.92,964.23C127.34,964.4 127.66,964.48 128,964.5C128.34,964.52 128.57,964.48 128.94,964.36C129.3,964.25 129.69,964.14 130.18,963.81C130.68,963.48 131.33,962.98 131.9,962.39C132.47,961.79 133.12,960.93 133.62,960.24C134.11,959.55 134.5,958.86 134.86,958.24C135.23,957.62 135.4,956.45 135.8,956.5C136.2,956.55 136.69,957.83 137.26,958.53C137.83,959.23 138.44,960 139.22,960.7C139.99,961.4 141.01,962.22 141.9,962.74C142.79,963.26 143.81,963.6 144.58,963.84C145.36,964.07 145.97,964.09 146.54,964.15C147.11,964.21 146.59,964.23 148,964.2C149.41,964.17 153.17,964.53 155,964C156.83,963.47 157.67,962.08 159,961C160.33,959.92 161.67,958.25 163,957.5C164.33,956.75 165.67,956.62 167,956.5C168.33,956.38 169.67,956.68 171,956.8C172.33,956.92 173.33,957.03 175,957.2C176.67,957.37 179,957.8 181,957.8C183,957.8 185,957.42 187,957.2C189,956.98 191,956.7 193,956.5C195,956.3 197,956.17 199,956C201,955.83 203.33,956 205,955.5C206.67,955 207.67,954 209,953C210.33,952 211.67,950.47 213,949.5C214.33,948.53 215.67,947.48 217,947.2C218.33,946.92 219.67,947.5 221,947.8C222.33,948.1 223.83,948.22 225,949C226.17,949.78 227,951.5 228,952.5C229,953.5 229.83,954.45 231,955C232.17,955.55 234.17,955.8 235,955.8C235.83,955.8 234.5,955.07 236,955C237.5,954.93 241.67,955.9 244,955.4C246.33,954.9 248,953.73 250,952C252,950.27 253.9,946.67 256,945C258.1,943.33 260.6,942 262.6,942C264.6,942 265.93,944.1 268,945C270.07,945.9 272.33,947.13 275,947.4C277.67,947.67 280.83,947 284,946.6C287.17,946.2 290.67,945.27 294,945C297.33,944.73 300.33,945.27 304,945C307.67,944.73 312.33,944.07 316,943.4C319.67,942.73 323,942.07 326,941C329,939.93 332.33,939 334,937C335.67,935 335.5,932 336,929C336.5,926 336.17,922.17 337,919C337.83,915.83 339.33,913 341,910C342.67,907 344.83,904 347,901C349.17,898 352,894.83 354,892C356,889.17 357.5,886.67 359,884C360.5,881.33 361.83,878.33 363,876C364.17,873.67 364.9,872.5 366,870C367.1,867.5 369,862.5 369.6,861L72,855Z" fill="#0000ff"/>
<path d="M72,960C73.67,960.42 79.92,963.08 82,962.5C84.08,961.92 84.03,957.32 84.5,956.5C84.97,955.68 84.68,957.19 84.8,957.6C84.92,958.01 85.04,958.46 85.2,958.95C85.36,959.45 85.57,960.09 85.75,960.57C85.93,961.06 86.14,961.54 86.3,961.87C86.46,962.19 86.58,962.38 86.7,962.54C86.82,962.69 86.88,962.79 87,962.8C87.12,962.81 87.26,962.71 87.42,962.58C87.58,962.45 87.76,962.29 87.98,962.01C88.2,961.74 88.49,961.33 88.75,960.93C89.01,960.52 89.3,959.98 89.52,959.56C89.74,959.15 89.92,958.77 90.08,958.42C90.24,958.08 90.36,957.49 90.5,957.5C90.64,957.51 90.76,958.1 90.92,958.46C91.08,958.82 91.26,959.21 91.48,959.64C91.7,960.07 91.99,960.63 92.25,961.06C92.51,961.48 92.8,961.9 93.02,962.19C93.24,962.47 93.42,962.64 93.58,962.77C93.74,962.91 93.84,963.01 94,963C94.16,962.99 94.33,962.87 94.54,962.69C94.75,962.5 94.98,962.28 95.26,961.89C95.55,961.5 95.92,960.93 96.25,960.35C96.58,959.77 96.95,959.01 97.24,958.42C97.52,957.83 97.75,957.29 97.96,956.81C98.17,956.32 98.32,955.49 98.5,955.5C98.68,955.51 98.83,956.34 99.04,956.84C99.25,957.34 99.48,957.89 99.76,958.5C100.05,959.1 100.42,959.88 100.75,960.48C101.08,961.07 101.45,961.66 101.74,962.06C102.02,962.46 102.25,962.69 102.46,962.88C102.67,963.07 102.82,963.21 103,963.2C103.18,963.19 103.33,963.05 103.54,962.84C103.75,962.62 103.98,962.36 104.26,961.91C104.55,961.46 104.92,960.8 105.25,960.12C105.58,959.45 105.95,958.57 106.24,957.88C106.52,957.2 106.75,956.58 106.96,956.02C107.17,955.45 107.3,954.49 107.5,954.5C107.7,954.51 107.9,955.49 108.16,956.07C108.42,956.65 108.69,957.29 109.04,958C109.39,958.71 109.85,959.62 110.25,960.32C110.65,961.01 111.11,961.7 111.46,962.17C111.81,962.63 112.08,962.9 112.34,963.13C112.6,963.35 112.77,963.51 113,963.5C113.23,963.49 113.44,963.33 113.72,963.08C114,962.84 114.3,962.54 114.68,962.02C115.06,961.5 115.56,960.74 116,959.96C116.44,959.19 116.94,958.18 117.32,957.39C117.7,956.6 118,955.89 118.28,955.24C118.56,954.6 118.7,953.54 119,953.5C119.3,953.46 119.66,954.43 120.08,954.98C120.5,955.53 120.95,956.14 121.52,956.81C122.09,957.48 122.84,958.34 123.5,958.99C124.16,959.65 124.91,960.3 125.48,960.74C126.05,961.18 126.5,961.44 126.92,961.65C127.34,961.86 127.66,961.97 128,962C128.34,962.03 128.57,961.96 128.94,961.83C129.3,961.71 129.69,961.57 130.18,961.24C130.68,960.91 131.33,960.41 131.9,959.85C132.47,959.28 133.12,958.48 133.62,957.85C134.11,957.21 134.5,956.6 134.86,956.04C135.23,955.48 135.4,954.47 135.8,954.5C136.2,954.53 136.69,955.64 137.26,956.25C137.83,956.86 138.44,957.53 139.22,958.16C139.99,958.79 141.01,959.54 141.9,960.03C142.79,960.52 143.81,960.87 144.58,961.1C145.36,961.34 145.97,961.37 146.54,961.44C147.11,961.51 146.59,961.49 148,961.5C149.41,961.51 153.17,962.08 155,961.5C156.83,960.92 157.67,959.17 159,958C160.33,956.83 161.67,955.17 163,954.5C164.33,953.83 165.67,954 167,954C168.33,954 169.67,954.25 171,954.5C172.33,954.75 173.33,955.22 175,955.5C176.67,955.78 179,956.15 181,956.2C183,956.25 185,956 187,955.8C189,955.6 191,955.27 193,955C195,954.73 197,954.53 199,954.2C201,953.87 203.33,953.53 205,953C206.67,952.47 207.67,952 209,951C210.33,950 211.67,948 213,947C214.33,946 215.67,945.25 217,945C218.33,944.75 219.67,945.25 221,945.5C222.33,945.75 223.83,945.83 225,946.5C226.17,947.17 227,948.75 228,949.5C229,950.25 229.83,950.58 231,951C232.17,951.42 234.17,951.67 235,952C235.83,952.33 234.5,952.83 236,953C237.5,953.17 241.67,953.67 244,953C246.33,952.33 248,950.67 250,949C252,947.33 253.9,944.5 256,943C258.1,941.5 260.6,940 262.6,940C264.6,940 265.93,942.1 268,943C270.07,943.9 272.33,945.23 275,945.4C277.67,945.57 280.83,944.57 284,944C287.17,943.43 290.67,942.43 294,942C297.33,941.57 300.67,941.67 304,941.4C307.33,941.13 310.87,941 314,940.4C317.13,939.8 320.23,939.3 322.8,937.8C325.37,936.3 327.8,933.87 329.4,931.4C331,928.93 331.6,925.9 332.4,923C333.2,920.1 333.17,916.83 334.2,914C335.23,911.17 336.8,908.67 338.6,906C340.4,903.33 342.77,900.67 345,898C347.23,895.33 350,892.67 352,890C354,887.33 355.5,884.67 357,882C358.5,879.33 359.83,876.33 361,874C362.17,871.67 363,870.17 364,868C365,865.83 366.5,862.17 367,861L72,855Z" fill="#ff00ff"/>
<path d="M72,957.5C73.67,958.08 79.92,961.67 82,961C84.08,960.33 84.03,954.53 84.5,953.5C84.97,952.47 84.68,954.32 84.8,954.81C84.92,955.3 85.04,955.84 85.2,956.45C85.36,957.06 85.57,957.85 85.75,958.47C85.93,959.09 86.14,959.72 86.3,960.15C86.46,960.59 86.58,960.86 86.7,961.09C86.82,961.31 86.88,961.48 87,961.5C87.12,961.52 87.26,961.36 87.42,961.19C87.58,961.02 87.76,960.82 87.98,960.49C88.2,960.16 88.49,959.69 88.75,959.23C89.01,958.76 89.3,958.17 89.52,957.71C89.74,957.25 89.92,956.85 90.08,956.48C90.24,956.11 90.36,955.49 90.5,955.5C90.64,955.51 90.76,956.15 90.92,956.53C91.08,956.92 91.26,957.34 91.48,957.82C91.7,958.3 91.99,958.93 92.25,959.41C92.51,959.9 92.8,960.4 93.02,960.74C93.24,961.08 93.42,961.3 93.58,961.48C93.74,961.65 93.84,961.83 94,961.8C94.16,961.77 94.33,961.58 94.54,961.32C94.75,961.06 94.98,960.74 95.26,960.24C95.55,959.73 95.92,958.99 96.25,958.28C96.58,957.56 96.95,956.64 97.24,955.93C97.52,955.22 97.75,954.6 97.96,954.02C98.17,953.45 98.32,952.49 98.5,952.5C98.68,952.51 98.83,953.47 99.04,954.06C99.25,954.64 99.48,955.28 99.76,956C100.05,956.73 100.42,957.67 100.75,958.4C101.08,959.13 101.45,959.88 101.74,960.4C102.02,960.92 102.25,961.25 102.46,961.51C102.67,961.78 102.82,962.01 103,962C103.18,961.99 103.33,961.75 103.54,961.46C103.75,961.17 103.98,960.81 104.26,960.23C104.55,959.66 104.92,958.83 105.25,958.02C105.58,957.21 105.95,956.17 106.24,955.37C106.52,954.57 106.75,953.87 106.96,953.22C107.17,952.58 107.3,951.5 107.5,951.5C107.7,951.5 107.9,952.58 108.16,953.22C108.42,953.87 108.69,954.57 109.04,955.37C109.39,956.17 109.85,957.21 110.25,958.02C110.65,958.83 111.11,959.66 111.46,960.23C111.81,960.81 112.08,961.17 112.34,961.46C112.6,961.75 112.77,962.01 113,962C113.23,961.99 113.44,961.72 113.72,961.38C114,961.05 114.3,960.64 114.68,959.98C115.06,959.33 115.56,958.38 116,957.45C116.44,956.53 116.94,955.34 117.32,954.42C117.7,953.51 118,952.7 118.28,951.97C118.56,951.23 118.7,950.05 119,950C119.3,949.95 119.66,951.02 120.08,951.64C120.5,952.25 120.95,952.92 121.52,953.69C122.09,954.45 122.84,955.44 123.5,956.21C124.16,956.98 124.91,957.77 125.48,958.32C126.05,958.86 126.5,959.21 126.92,959.49C127.34,959.77 127.66,959.96 128,960C128.34,960.04 128.57,959.92 128.94,959.74C129.3,959.57 129.69,959.37 130.18,958.94C130.68,958.51 131.33,957.88 131.9,957.19C132.47,956.5 133.12,955.56 133.62,954.82C134.11,954.08 134.5,953.38 134.86,952.74C135.23,952.1 135.4,950.96 135.8,951C136.2,951.04 136.69,952.3 137.26,953C137.83,953.71 138.44,954.48 139.22,955.24C139.99,955.99 141.01,956.9 141.9,957.52C142.79,958.13 143.81,958.6 144.58,958.91C145.36,959.23 145.97,959.3 146.54,959.4C147.11,959.5 146.59,959.48 148,959.5C149.41,959.52 153.17,960.33 155,959.5C156.83,958.67 157.67,956.08 159,954.5C160.33,952.92 161.67,950.83 163,950C164.33,949.17 165.67,949.33 167,949.5C168.33,949.67 169.67,950.42 171,951C172.33,951.58 173.33,952.5 175,953C176.67,953.5 179,953.87 181,954C183,954.13 185,954 187,953.8C189,953.6 191,953.1 193,952.8C195,952.5 197,952.38 199,952C201,951.62 203.33,951.17 205,950.5C206.67,949.83 207.67,949.08 209,948C210.33,946.92 211.67,945 213,944C214.33,943 215.67,942.25 217,942C218.33,941.75 219.67,942.17 221,942.5C222.33,942.83 223.83,943.33 225,944C226.17,944.67 227,945.83 228,946.5C229,947.17 229.83,947.62 231,948C232.17,948.38 234.17,948.63 235,948.8C235.83,948.97 234.5,948.97 236,949C237.5,949.03 241.67,949.67 244,949C246.33,948.33 248,946.6 250,945C252,943.4 253.9,940.73 256,939.4C258.1,938.07 260.6,937 262.6,937C264.6,937 266.1,938.57 268,939.4C269.9,940.23 271.67,941.8 274,942C276.33,942.2 279,941.27 282,940.6C285,939.93 288.67,938.53 292,938C295.33,937.47 298.83,937.9 302,937.4C305.17,936.9 308.33,936.23 311,935C313.67,933.77 316.17,932.33 318,930C319.83,927.67 321,924.17 322,921C323,917.83 322.83,913.67 324,911C325.17,908.33 327,907 329,905C331,903 333.5,901.17 336,899C338.5,896.83 341.67,894.33 344,892C346.33,889.67 348.17,887.5 350,885C351.83,882.5 353.6,879.67 355,877C356.4,874.33 357.5,871.67 358.4,869C359.3,866.33 360.07,862.33 360.4,861L72,855Z" fill="#b3b3b3"/>
<path d="M72,956C73.67,956.67 79.92,960.58 82,960C84.08,959.42 84.03,953.54 84.5,952.5C84.97,951.46 84.68,953.29 84.8,953.77C84.92,954.25 85.04,954.77 85.2,955.37C85.36,955.96 85.57,956.75 85.75,957.36C85.93,957.98 86.14,958.62 86.3,959.07C86.46,959.51 86.58,959.8 86.7,960.04C86.82,960.28 86.88,960.48 87,960.5C87.12,960.52 87.26,960.34 87.42,960.16C87.58,959.98 87.76,959.76 87.98,959.42C88.2,959.09 88.49,958.61 88.75,958.15C89.01,957.68 89.3,957.1 89.52,956.65C89.74,956.2 89.92,955.81 90.08,955.45C90.24,955.09 90.36,954.49 90.5,954.5C90.64,954.51 90.76,955.14 90.92,955.53C91.08,955.92 91.26,956.34 91.48,956.83C91.7,957.31 91.99,957.95 92.25,958.45C92.51,958.95 92.8,959.47 93.02,959.83C93.24,960.2 93.42,960.43 93.58,960.63C93.74,960.82 93.84,961.03 94,961C94.16,960.97 94.33,960.73 94.54,960.43C94.75,960.13 94.98,959.77 95.26,959.21C95.55,958.65 95.92,957.85 96.25,957.08C96.58,956.31 96.95,955.33 97.24,954.58C97.52,953.83 97.75,953.18 97.96,952.59C98.17,951.99 98.32,951 98.5,951C98.68,951 98.83,951.99 99.04,952.59C99.25,953.18 99.48,953.83 99.76,954.58C100.05,955.33 100.42,956.31 100.75,957.08C101.08,957.85 101.45,958.65 101.74,959.21C102.02,959.77 102.25,960.13 102.46,960.43C102.67,960.73 102.82,961.01 103,961C103.18,960.99 103.33,960.7 103.54,960.37C103.75,960.04 103.98,959.64 104.26,959.03C104.55,958.41 104.92,957.53 105.25,956.68C105.58,955.84 105.95,954.76 106.24,953.94C106.52,953.12 106.75,952.4 106.96,951.74C107.17,951.09 107.3,949.99 107.5,950C107.7,950.01 107.9,951.11 108.16,951.78C108.42,952.44 108.69,953.17 109.04,954.01C109.39,954.85 109.85,955.94 110.25,956.81C110.65,957.67 111.11,958.57 111.46,959.19C111.81,959.82 112.08,960.23 112.34,960.56C112.6,960.89 112.77,961.21 113,961.2C113.23,961.19 113.44,960.85 113.72,960.47C114,960.09 114.3,959.63 114.68,958.92C115.06,958.21 115.56,957.2 116,956.22C116.44,955.24 116.94,954 117.32,953.05C117.7,952.1 118,951.27 118.28,950.51C118.56,949.75 118.7,948.56 119,948.5C119.3,948.44 119.66,949.54 120.08,950.16C120.5,950.79 120.95,951.48 121.52,952.26C122.09,953.05 122.84,954.07 123.5,954.88C124.16,955.69 124.91,956.53 125.48,957.12C126.05,957.7 126.5,958.09 126.92,958.4C127.34,958.71 127.66,958.96 128,959C128.34,959.04 128.57,958.88 128.94,958.65C129.3,958.41 129.69,958.14 130.18,957.6C130.68,957.06 131.33,956.26 131.9,955.42C132.47,954.58 133.12,953.43 133.62,952.54C134.11,951.65 134.5,950.81 134.86,950.06C135.23,949.3 135.4,947.96 135.8,948C136.2,948.04 136.69,949.47 137.26,950.28C137.83,951.09 138.44,951.98 139.22,952.86C139.99,953.74 141.01,954.81 141.9,955.54C142.79,956.27 143.81,956.85 144.58,957.24C145.36,957.63 145.97,957.74 146.54,957.86C147.11,957.99 146.59,957.98 148,958C149.41,958.02 153.17,958.83 155,958C156.83,957.17 157.67,954.67 159,953C160.33,951.33 161.67,949 163,948C164.33,947 165.67,946.92 167,947C168.33,947.08 169.67,947.75 171,948.5C172.33,949.25 173.33,950.75 175,951.5C176.67,952.25 179,952.83 181,953C183,953.17 185,952.75 187,952.5C189,952.25 191,951.83 193,951.5C195,951.17 197,950.92 199,950.5C201,950.08 203.33,949.67 205,949C206.67,948.33 207.67,947.58 209,946.5C210.33,945.42 211.67,943.58 213,942.5C214.33,941.42 215.67,940.33 217,940C218.33,939.67 219.67,940.17 221,940.5C222.33,940.83 223.83,941.25 225,942C226.17,942.75 227,944.25 228,945C229,945.75 229.83,946.17 231,946.5C232.17,946.83 234.17,946.92 235,947C235.83,947.08 234.5,947.07 236,947C237.5,946.93 241.67,947.43 244,946.6C246.33,945.77 248,943.6 250,942C252,940.4 253.9,938.17 256,937C258.1,935.83 260.6,934.93 262.6,935C264.6,935.07 266.1,936.57 268,937.4C269.9,938.23 271.67,939.9 274,940C276.33,940.1 279,938.83 282,938C285,937.17 288.67,935.67 292,935C295.33,934.33 299,934.67 302,934C305,933.33 307.83,932.33 310,931C312.17,929.67 313.67,928.33 315,926C316.33,923.67 317.17,920 318,917C318.83,914 318.67,910.33 320,908C321.33,905.67 323.67,904.83 326,903C328.33,901.17 331.33,899.17 334,897C336.67,894.83 339.67,892.33 342,890C344.33,887.67 346.17,885.33 348,883C349.83,880.67 351.67,878.33 353,876C354.33,873.67 355.17,871.5 356,869C356.83,866.5 357.67,862.33 358,861L72,855Z" fill="#ffffff"/>
<path d="M72,971C73.67,972.17 80,976.6 82,978C82.08,977.7 82.26,977.04 82.42,976.5C82.58,975.95 82.76,975.35 82.98,974.72C83.2,974.09 83.49,973.3 83.75,972.73C84.01,972.16 84.3,971.65 84.52,971.31C84.74,970.97 84.92,970.82 85.08,970.68C85.24,970.55 85.36,970.48 85.5,970.5C85.64,970.52 85.76,970.58 85.92,970.81C86.08,971.03 86.26,971.28 86.48,971.85C86.7,972.42 86.99,973.27 87.25,974.22C87.51,975.16 87.8,976.49 88.02,977.53C88.24,978.58 88.42,979.58 88.58,980.49C88.74,981.41 88.92,982.5 89,983C89.08,982.46 89.26,981.28 89.42,980.29C89.58,979.31 89.76,978.23 89.98,977.1C90.2,975.97 90.49,974.54 90.75,973.51C91.01,972.49 91.3,971.57 91.52,970.95C91.74,970.34 91.92,970.07 92.08,969.83C92.24,969.59 92.35,969.5 92.5,969.5C92.65,969.5 92.79,969.59 92.98,969.85C93.17,970.12 93.37,970.4 93.62,971.06C93.87,971.72 94.21,972.71 94.5,973.81C94.79,974.91 95.13,976.45 95.38,977.66C95.63,978.87 95.83,980.04 96.02,981.09C96.21,982.15 96.4,983.42 96.5,984C96.6,983.42 96.79,982.15 96.98,981.09C97.17,980.04 97.37,978.87 97.62,977.66C97.87,976.45 98.21,974.91 98.5,973.81C98.79,972.71 99.13,971.72 99.38,971.06C99.63,970.4 99.83,970.12 100.02,969.85C100.21,969.59 100.32,969.5 100.5,969.5C100.68,969.5 100.87,969.6 101.1,969.87C101.33,970.14 101.58,970.43 101.9,971.12C102.22,971.8 102.63,972.82 103,973.96C103.37,975.1 103.78,976.69 104.1,977.94C104.42,979.2 104.67,980.4 104.9,981.49C105.13,982.59 105.38,983.9 105.5,984.5C105.61,983.89 105.83,982.56 106.04,981.45C106.25,980.35 106.48,979.13 106.76,977.85C107.05,976.58 107.42,974.97 107.75,973.82C108.08,972.67 108.45,971.63 108.74,970.94C109.02,970.25 109.25,969.94 109.46,969.67C109.67,969.4 109.78,969.3 110,969.3C110.22,969.3 110.48,969.4 110.78,969.68C111.08,969.97 111.41,970.28 111.82,970.99C112.23,971.71 112.77,972.78 113.25,973.97C113.73,975.16 114.27,976.82 114.68,978.14C115.09,979.45 115.42,980.71 115.72,981.85C116.02,983 116.34,984.37 116.5,985C116.66,984.36 116.98,982.96 117.28,981.79C117.58,980.63 117.91,979.34 118.32,978C118.73,976.67 119.27,974.97 119.75,973.76C120.23,972.54 120.77,971.45 121.18,970.72C121.59,970 121.92,969.68 122.22,969.39C122.52,969.1 122.68,969.02 123,969C123.32,968.98 123.7,969.04 124.14,969.3C124.58,969.55 125.06,969.79 125.66,970.51C126.26,971.23 127.05,972.31 127.75,973.61C128.45,974.91 129.24,976.79 129.84,978.3C130.44,979.81 130.92,981.32 131.36,982.68C131.8,984.05 132.27,985.74 132.5,986.5C132.75,985.67 133.27,983.8 133.76,982.33C134.25,980.86 134.78,979.25 135.44,977.68C136.1,976.11 136.98,974.2 137.75,972.93C138.52,971.65 139.4,970.68 140.06,970.02C140.72,969.37 141.25,969.21 141.74,969.01C142.23,968.8 141.96,968.38 143,968.8C144.04,969.22 146.58,970.3 148,971.5C149.42,972.7 150.33,974.75 151.5,976C152.67,977.25 153.92,978 155,979C156.08,980 157.08,981.33 158,982C158.92,982.67 159.67,983.17 160.5,983C161.33,982.83 162.08,982 163,981C163.92,980 165,978.25 166,977C167,975.75 168,974.53 169,973.5C170,972.47 171,971.42 172,970.8C173,970.18 173.5,970.07 175,969.8C176.5,969.53 179,969.3 181,969.2C183,969.1 185,969.15 187,969.2C189,969.25 191,969.37 193,969.5C195,969.63 197,969.78 199,970C201,970.22 203.33,970.47 205,970.8C206.67,971.13 207.67,971.55 209,972C210.33,972.45 211.67,973.08 213,973.5C214.33,973.92 215.33,974.28 217,974.5C218.67,974.72 221,974.85 223,974.8C225,974.75 227,974.3 229,974.2C231,974.1 233.83,974.23 235,974.2C236.17,974.17 234.5,973.93 236,974C237.5,974.07 241.67,974.17 244,974.6C246.33,975.03 248,975.8 250,976.6C252,977.4 253.9,978.6 256,979.4C258.1,980.2 259.93,981.13 262.6,981.4C265.27,981.67 268.77,981.13 272,981C275.23,980.87 278,980.53 282,980.6C286,980.67 291.33,981.17 296,981.4C300.67,981.63 305.67,981.73 310,982C314.33,982.27 318,982.5 322,983C326,983.5 330.67,984.17 334,985C337.33,985.83 340.17,986 342,988C343.83,990 344,994.17 345,997C346,999.83 346.5,1002.67 348,1005C349.5,1007.33 351.67,1008.67 354,1011C356.33,1013.33 359.33,1016.33 362,1019C364.67,1021.67 367.33,1024 370,1027C372.67,1030 375.67,1033.67 378,1037C380.33,1040.33 382.17,1043.67 384,1047C385.83,1050.33 387.33,1053.73 389,1057C390.67,1060.27 392.67,1063.93 394,1066.6C395.33,1069.27 396.5,1071.93 397,1073L72,1085Z" fill="#0000ff"/>
<path d="M72,973C73.67,974.5 80,980.2 82,982C82.08,981.63 82.26,980.83 82.42,980.15C82.58,979.47 82.76,978.72 82.98,977.91C83.2,977.1 83.49,976.07 83.75,975.3C84.01,974.53 84.3,973.8 84.52,973.3C84.74,972.81 84.92,972.55 85.08,972.34C85.24,972.12 85.36,971.98 85.5,972C85.64,972.02 85.76,972.17 85.92,972.47C86.08,972.78 86.26,973.14 86.48,973.83C86.7,974.52 86.99,975.54 87.25,976.62C87.51,977.69 87.8,979.14 88.02,980.28C88.24,981.41 88.42,982.46 88.58,983.41C88.74,984.36 88.92,985.48 89,986C89.08,985.44 89.26,984.22 89.42,983.19C89.58,982.15 89.76,981.02 89.98,979.79C90.2,978.56 90.49,976.98 90.75,975.81C91.01,974.65 91.3,973.53 91.52,972.78C91.74,972.03 91.92,971.64 92.08,971.31C92.24,970.98 92.35,970.8 92.5,970.8C92.65,970.8 92.79,970.98 92.98,971.31C93.17,971.64 93.37,972.03 93.62,972.78C93.87,973.53 94.21,974.65 94.5,975.81C94.79,976.98 95.13,978.56 95.38,979.79C95.63,981.02 95.83,982.15 96.02,983.19C96.21,984.22 96.4,985.44 96.5,986C96.6,985.44 96.79,984.22 96.98,983.19C97.17,982.15 97.37,981.02 97.62,979.79C97.87,978.56 98.21,976.98 98.5,975.81C98.79,974.65 99.13,973.53 99.38,972.78C99.63,972.03 99.83,971.64 100.02,971.31C100.21,970.98 100.32,970.8 100.5,970.8C100.68,970.8 100.87,970.99 101.1,971.33C101.33,971.67 101.58,972.07 101.9,972.85C102.22,973.62 102.63,974.77 103,975.98C103.37,977.18 103.78,978.81 104.1,980.08C104.42,981.35 104.67,982.53 104.9,983.6C105.13,984.67 105.38,985.92 105.5,986.5C105.61,985.91 105.83,984.63 106.04,983.54C106.25,982.45 106.48,981.25 106.76,979.96C107.05,978.67 107.42,977.01 107.75,975.78C108.08,974.55 108.45,973.38 108.74,972.59C109.02,971.8 109.25,971.39 109.46,971.04C109.67,970.69 109.78,970.49 110,970.5C110.22,970.51 110.48,970.7 110.78,971.07C111.08,971.44 111.41,971.88 111.82,972.72C112.23,973.56 112.77,974.8 113.25,976.11C113.73,977.41 114.27,979.18 114.68,980.55C115.09,981.92 115.42,983.2 115.72,984.36C116.02,985.51 116.34,986.87 116.5,987.5C116.66,986.86 116.98,985.48 117.28,984.3C117.58,983.12 117.91,981.83 118.32,980.43C118.73,979.03 119.27,977.24 119.75,975.91C120.23,974.58 120.77,973.31 121.18,972.46C121.59,971.6 121.92,971.16 122.22,970.78C122.52,970.41 122.68,970.22 123,970.2C123.32,970.18 123.7,970.32 124.14,970.66C124.58,971 125.06,971.38 125.66,972.25C126.26,973.13 127.05,974.44 127.75,975.9C128.45,977.36 129.24,979.41 129.84,981.03C130.44,982.64 130.92,984.2 131.36,985.61C131.8,987.02 132.27,988.72 132.5,989.5C132.75,988.65 133.27,986.78 133.76,985.26C134.25,983.74 134.78,982.06 135.44,980.38C136.1,978.69 136.98,976.6 137.75,975.15C138.52,973.71 139.4,972.5 140.06,971.69C140.72,970.89 141.25,970.61 141.74,970.33C142.23,970.05 141.96,969.56 143,970C144.04,970.44 146.58,971.58 148,973C149.42,974.42 150.33,976.83 151.5,978.5C152.67,980.17 153.92,981.58 155,983C156.08,984.42 157.08,986 158,987C158.92,988 159.67,989.17 160.5,989C161.33,988.83 162.08,987.5 163,986C163.92,984.5 165,981.75 166,980C167,978.25 168,976.8 169,975.5C170,974.2 171,972.95 172,972.2C173,971.45 173.5,971.33 175,971C176.5,970.67 179,970.33 181,970.2C183,970.07 185,970.15 187,970.2C189,970.25 191,970.33 193,970.5C195,970.67 197,970.87 199,971.2C201,971.53 203.33,972 205,972.5C206.67,973 207.67,973.62 209,974.2C210.33,974.78 211.67,975.53 213,976C214.33,976.47 215.33,976.8 217,977C218.67,977.2 221,977.23 223,977.2C225,977.17 227,976.87 229,976.8C231,976.73 233.83,976.83 235,976.8C236.17,976.77 234.5,976.57 236,976.6C237.5,976.63 241.67,976.6 244,977C246.33,977.4 248,978.17 250,979C252,979.83 253.9,981.17 256,982C258.1,982.83 259.93,983.77 262.6,984C265.27,984.23 268.77,983.57 272,983.4C275.23,983.23 278,982.8 282,983C286,983.2 291.33,984.2 296,984.6C300.67,985 305.67,985.07 310,985.4C314.33,985.73 318.67,986 322,986.6C325.33,987.2 327.83,987.93 330,989C332.17,990.07 333.5,991 335,993C336.5,995 337.5,998.5 339,1001C340.5,1003.5 342,1005.83 344,1008C346,1010.17 348.5,1011.5 351,1014C353.5,1016.5 356.33,1020.17 359,1023C361.67,1025.83 364.5,1028.17 367,1031C369.5,1033.83 371.83,1037 374,1040C376.17,1043 378.17,1046 380,1049C381.83,1052 383.6,1055.07 385,1058C386.4,1060.93 387.4,1064.1 388.4,1066.6C389.4,1069.1 390.57,1071.93 391,1073L72,1085Z" fill="#ff00ff"/>
<path d="M72,975C73.67,976.83 80,983.8 82,986C82.08,985.58 82.26,984.67 82.42,983.89C82.58,983.1 82.76,982.23 82.98,981.26C83.2,980.29 83.49,979.04 83.75,978.08C84.01,977.11 84.3,976.14 84.52,975.47C84.74,974.81 84.92,974.41 85.08,974.08C85.24,973.75 85.36,973.45 85.5,973.5C85.64,973.55 85.76,973.89 85.92,974.4C86.08,974.91 86.26,975.54 86.48,976.58C86.7,977.62 86.99,979.13 87.25,980.64C87.51,982.14 87.8,984.1 88.02,985.61C88.24,987.12 88.42,988.47 88.58,989.7C88.74,990.93 88.92,992.34 89,993C89.08,992.29 89.26,990.77 89.42,989.45C89.58,988.12 89.76,986.67 89.98,985.04C90.2,983.42 90.49,981.31 90.75,979.69C91.01,978.07 91.3,976.44 91.52,975.32C91.74,974.2 91.92,973.52 92.08,972.97C92.24,972.42 92.35,972.01 92.5,972C92.65,971.99 92.79,972.4 92.98,972.92C93.17,973.45 93.37,974.09 93.62,975.16C93.87,976.22 94.21,977.78 94.5,979.32C94.79,980.86 95.13,982.87 95.38,984.42C95.63,985.97 95.83,987.35 96.02,988.62C96.21,989.88 96.4,991.32 96.5,992C96.6,991.32 96.79,989.86 96.98,988.58C97.17,987.31 97.37,985.91 97.62,984.35C97.87,982.78 98.21,980.75 98.5,979.19C98.79,977.63 99.13,976.07 99.38,974.99C99.63,973.91 99.83,973.27 100.02,972.73C100.21,972.2 100.32,971.78 100.5,971.8C100.68,971.82 100.87,972.24 101.1,972.83C101.33,973.41 101.58,974.12 101.9,975.31C102.22,976.49 102.63,978.21 103,979.93C103.37,981.64 103.78,983.87 104.1,985.59C104.42,987.31 104.67,988.84 104.9,990.24C105.13,991.65 105.38,993.25 105.5,994C105.61,993.24 105.83,991.61 106.04,990.19C106.25,988.77 106.48,987.22 106.76,985.47C107.05,983.73 107.42,981.47 107.75,979.74C108.08,978 108.45,976.25 108.74,975.05C109.02,973.85 109.25,973.13 109.46,972.54C109.67,971.95 109.78,971.49 110,971.5C110.22,971.51 110.48,971.97 110.78,972.59C111.08,973.2 111.41,973.96 111.82,975.21C112.23,976.46 112.77,978.29 113.25,980.1C113.73,981.92 114.27,984.27 114.68,986.09C115.09,987.92 115.42,989.54 115.72,991.02C116.02,992.51 116.34,994.2 116.5,995C116.66,994.19 116.98,992.48 117.28,990.97C117.58,989.47 117.91,987.82 118.32,985.98C118.73,984.14 119.27,981.75 119.75,979.91C120.23,978.07 120.77,976.23 121.18,974.96C121.59,973.69 121.92,972.93 122.22,972.3C122.52,971.67 122.68,971.25 123,971.2C123.32,971.15 123.7,971.49 124.14,972.03C124.58,972.56 125.06,973.19 125.66,974.39C126.26,975.59 127.05,977.38 127.75,979.24C128.45,981.11 129.24,983.63 129.84,985.59C130.44,987.55 130.92,989.37 131.36,991.02C131.8,992.67 132.27,994.6 132.5,995.5C132.75,994.53 133.27,992.42 133.76,990.65C134.25,988.89 134.78,986.95 135.44,984.92C136.1,982.89 136.98,980.32 137.75,978.47C138.52,976.63 139.4,974.96 140.06,973.85C140.72,972.74 141.25,972.25 141.74,971.81C142.23,971.37 141.96,970.75 143,971.2C144.04,971.65 146.58,972.87 148,974.5C149.42,976.13 150.33,978.75 151.5,981C152.67,983.25 153.92,986.25 155,988C156.08,989.75 157.08,990.75 158,991.5C158.92,992.25 159.67,992.83 160.5,992.5C161.33,992.17 162.08,991.08 163,989.5C163.92,987.92 165,985.08 166,983C167,980.92 168,978.58 169,977C170,975.42 171,974.33 172,973.5C173,972.67 173.5,972.42 175,972C176.5,971.58 179,971.17 181,971C183,970.83 185,970.92 187,971C189,971.08 191,971.25 193,971.5C195,971.75 197,972.05 199,972.5C201,972.95 203.33,973.58 205,974.2C206.67,974.82 207.67,975.53 209,976.2C210.33,976.87 211.67,977.73 213,978.2C214.33,978.67 215.33,978.83 217,979C218.67,979.17 221,979.2 223,979.2C225,979.2 227,979.03 229,979C231,978.97 233.83,979 235,979C236.17,979 234.5,978.93 236,979C237.5,979.07 241.67,979 244,979.4C246.33,979.8 248,980.47 250,981.4C252,982.33 253.9,984 256,985C258.1,986 259.93,987.07 262.6,987.4C265.27,987.73 268.77,987.13 272,987C275.23,986.87 278,986.43 282,986.6C286,986.77 291.33,987.53 296,988C300.67,988.47 306,988.9 310,989.4C314,989.9 317.33,990.07 320,991C322.67,991.93 324.5,993.33 326,995C327.5,996.67 328,998.83 329,1001C330,1003.17 330.5,1005.83 332,1008C333.5,1010.17 335.67,1011.83 338,1014C340.33,1016.17 343.33,1018.5 346,1021C348.67,1023.5 351.33,1026.5 354,1029C356.67,1031.5 359.5,1033.5 362,1036C364.5,1038.5 366.83,1041.33 369,1044C371.17,1046.67 373.33,1049.33 375,1052C376.67,1054.67 377.83,1057.57 379,1060C380.17,1062.43 381.1,1064.43 382,1066.6C382.9,1068.77 384,1071.93 384.4,1073L72,1085Z" fill="#b3b3b3"/>
<path d="M72,976C73.67,977.83 80,984.8 82,987C82.08,986.59 82.26,985.72 82.42,984.95C82.58,984.18 82.76,983.34 82.98,982.39C83.2,981.44 83.49,980.2 83.75,979.24C84.01,978.27 84.3,977.29 84.52,976.6C84.74,975.92 84.92,975.49 85.08,975.14C85.24,974.79 85.36,974.42 85.5,974.5C85.64,974.58 85.76,975 85.92,975.6C86.08,976.21 86.26,976.94 86.48,978.12C86.7,979.29 86.99,980.99 87.25,982.65C87.51,984.31 87.8,986.44 88.02,988.07C88.24,989.71 88.42,991.16 88.58,992.48C88.74,993.8 88.92,995.3 89,996C89.08,995.25 89.26,993.64 89.42,992.23C89.58,990.82 89.76,989.27 89.98,987.52C90.2,985.77 90.49,983.49 90.75,981.72C91.01,979.94 91.3,978.13 91.52,976.87C91.74,975.61 91.92,974.83 92.08,974.18C92.24,973.54 92.35,973.01 92.5,973C92.65,972.99 92.79,973.51 92.98,974.13C93.17,974.75 93.37,975.5 93.62,976.7C93.87,977.9 94.21,979.64 94.5,981.34C94.79,983.03 95.13,985.21 95.38,986.89C95.63,988.57 95.83,990.04 96.02,991.39C96.21,992.75 96.4,994.28 96.5,995C96.6,994.27 96.79,992.73 96.98,991.36C97.17,990 97.37,988.51 97.62,986.82C97.87,985.12 98.21,982.93 98.5,981.21C98.79,979.5 99.13,977.75 99.38,976.54C99.63,975.32 99.83,974.56 100.02,973.94C100.21,973.32 100.32,972.79 100.5,972.8C100.68,972.81 100.87,973.35 101.1,974.02C101.33,974.68 101.58,975.49 101.9,976.79C102.22,978.08 102.63,979.95 103,981.78C103.37,983.61 103.78,985.96 104.1,987.76C104.42,989.57 104.67,991.16 104.9,992.62C105.13,994.07 105.38,995.72 105.5,996.5C105.61,995.71 105.83,994.04 106.04,992.57C106.25,991.09 106.48,989.48 106.76,987.65C107.05,985.82 107.42,983.45 107.75,981.59C108.08,979.74 108.45,977.85 108.74,976.54C109.02,975.23 109.25,974.41 109.46,973.73C109.67,973.06 109.78,972.49 110,972.5C110.22,972.51 110.48,973.1 110.78,973.81C111.08,974.53 111.41,975.4 111.82,976.79C112.23,978.18 112.77,980.19 113.25,982.16C113.73,984.13 114.27,986.66 114.68,988.6C115.09,990.54 115.42,992.25 115.72,993.82C116.02,995.39 116.34,997.16 116.5,998C116.66,997.15 116.98,995.36 117.28,993.77C117.58,992.19 117.91,990.45 118.32,988.49C118.73,986.52 119.27,983.97 119.75,981.98C120.23,979.99 120.77,977.95 121.18,976.54C121.59,975.13 121.92,974.25 122.22,973.53C122.52,972.8 122.68,972.25 123,972.2C123.32,972.15 123.7,972.59 124.14,973.2C124.58,973.82 125.06,974.56 125.66,975.9C126.26,977.24 127.05,979.22 127.75,981.24C128.45,983.27 129.24,985.97 129.84,988.06C130.44,990.15 130.92,992.06 131.36,993.8C131.8,995.54 132.27,997.56 132.5,998.5C132.75,997.48 133.27,995.28 133.76,993.42C134.25,991.56 134.78,989.51 135.44,987.35C136.1,985.18 136.98,982.42 137.75,980.41C138.52,978.4 139.4,976.54 140.06,975.3C140.72,974.06 141.25,973.46 141.74,972.95C142.23,972.43 141.96,971.69 143,972.2C144.04,972.71 146.58,974.2 148,976C149.42,977.8 150.33,980.5 151.5,983C152.67,985.5 153.92,989.17 155,991C156.08,992.83 157.08,993.33 158,994C158.92,994.67 159.67,995.33 160.5,995C161.33,994.67 162.08,993.67 163,992C163.92,990.33 165,987.25 166,985C167,982.75 168,980.25 169,978.5C170,976.75 171,975.42 172,974.5C173,973.58 173.5,973.45 175,973C176.5,972.55 179,971.97 181,971.8C183,971.63 185,971.83 187,972C189,972.17 191,972.47 193,972.8C195,973.13 197,973.5 199,974C201,974.5 203.33,975.17 205,975.8C206.67,976.43 207.67,977.18 209,977.8C210.33,978.42 211.67,979.1 213,979.5C214.33,979.9 215.33,980.03 217,980.2C218.67,980.37 221,980.5 223,980.5C225,980.5 227,980.25 229,980.2C231,980.15 233.83,980.13 235,980.2C236.17,980.27 234.5,980.47 236,980.6C237.5,980.73 241.67,980.53 244,981C246.33,981.47 248,982.4 250,983.4C252,984.4 253.9,986 256,987C258.1,988 259.93,989.07 262.6,989.4C265.27,989.73 268.77,989.13 272,989C275.23,988.87 278,988.43 282,988.6C286,988.77 291.33,989.53 296,990C300.67,990.47 306.17,990.73 310,991.4C313.83,992.07 316.83,992.9 319,994C321.17,995.1 322,996.33 323,998C324,999.67 324.17,1002 325,1004C325.83,1006 326.33,1007.83 328,1010C329.67,1012.17 332.5,1014.67 335,1017C337.5,1019.33 340.33,1021.5 343,1024C345.67,1026.5 348.33,1029.5 351,1032C353.67,1034.5 356.5,1036.5 359,1039C361.5,1041.5 363.83,1044.33 366,1047C368.17,1049.67 370.33,1052.5 372,1055C373.67,1057.5 374.93,1060.07 376,1062C377.07,1063.93 377.67,1064.77 378.4,1066.6C379.13,1068.43 380.07,1071.93 380.4,1073L72,1085Z" fill="#ffffff"/>
<path d="M494,861C494.5,862.5 495.67,866.67 497,870C498.33,873.33 500,877.33 502,881C504,884.67 506.33,888.33 509,892C511.67,895.67 514.83,899.33 518,903C521.17,906.67 524.5,910.17 528,914C531.5,917.83 535.5,922.17 539,926C542.5,929.83 546.17,933.83 549,937C551.83,940.17 553.83,943.07 556,945C558.17,946.93 559,947.67 562,948.6C565,949.53 570,950.2 574,950.6C578,951 582.33,951.1 586,951C589.67,950.9 592.67,949.73 596,950C599.33,950.27 602.83,951.93 606,952.6C609.17,953.27 612.33,954.33 615,954C617.67,953.67 619.9,951.43 622,950.6C624.1,949.77 625.6,948.6 627.6,949C629.6,949.4 631.93,951.5 634,953C636.07,954.5 637.83,956.67 640,958C642.17,959.33 645.33,960.33 647,961C648.67,961.67 648.5,961.87 650,962C651.5,962.13 654,961.93 656,961.8C658,961.67 660,961.37 662,961.2C664,961.03 666.17,960.8 668,960.8C669.83,960.8 671.33,960.83 673,961.2C674.67,961.57 676.17,962.45 678,963C679.83,963.55 682,964.13 684,964.5C686,964.87 688,964.98 690,965.2C692,965.42 694,965.63 696,965.8C698,965.97 700,966.08 702,966.2C704,966.32 706,966.43 708,966.5C710,966.57 712,966.6 714,966.6C716,966.6 718.33,966.6 720,966.5C721.67,966.4 722.83,966.28 724,966C725.17,965.72 726,965.13 727,964.8C728,964.47 729,964.8 730,964C731,963.2 732,960.75 733,960C734,959.25 734.83,959.42 736,959.5C737.17,959.58 738.67,959.92 740,960.5C741.33,961.08 742.67,962.12 744,963C745.33,963.88 746.5,965.27 748,965.8C749.5,966.33 751.58,966.42 753,966.2C754.42,965.98 755.58,965.4 756.5,964.5C757.42,963.6 757.92,961.88 758.5,960.8C759.08,959.72 759.45,958.05 760,958C760.55,957.95 761.13,959.75 761.8,960.5C762.47,961.25 762.88,961.58 764,962.5C765.12,963.42 767.33,965.38 768.5,966C769.67,966.62 770.17,966.7 771,966.2C771.83,965.7 772.67,964.28 773.5,963C774.33,961.72 775.08,958.47 776,958.5C776.92,958.53 778,961.92 779,963.2C780,964.48 781.08,966.15 782,966.2C782.92,966.25 783.63,964.62 784.5,963.5C785.37,962.38 786.37,959.42 787.2,959.5C788.03,959.58 788.78,962.92 789.5,964C790.22,965.08 790.88,966.17 791.5,966C792.12,965.83 792.65,964 793.2,963C793.75,962 794.17,959.83 794.8,960C795.43,960.17 796.33,963.03 797,964C797.67,964.97 798.22,966 798.8,965.8C799.38,965.6 799.83,963.47 800.5,962.8C801.17,962.13 802.13,961.52 802.8,961.8C803.47,962.08 804.02,963.77 804.5,964.5C804.98,965.23 805.28,966.45 805.7,966.2C806.12,965.95 806.57,964.2 807,963C807.43,961.8 807.72,958.75 808.3,959C808.88,959.25 808.88,963.58 810.5,964.5C812.12,965.42 816.75,964.5 818,964.5L818,855Z" fill="#0000ff"/>
<path d="M498.4,861C499,862.5 500.57,866.83 502,870C503.43,873.17 505,876.67 507,880C509,883.33 511.33,886.5 514,890C516.67,893.5 519.83,897.33 523,901C526.17,904.67 529.5,908.17 533,912C536.5,915.83 540.5,920.17 544,924C547.5,927.83 551.17,931.83 554,935C556.83,938.17 558.67,941.07 561,943C563.33,944.93 565.17,945.77 568,946.6C570.83,947.43 574.67,947.67 578,948C581.33,948.33 585,948.7 588,948.6C591,948.5 593,947.17 596,947.4C599,947.63 602.83,949.33 606,950C609.17,950.67 612.33,951.63 615,951.4C617.67,951.17 619.9,949.33 622,948.6C624.1,947.87 625.6,946.6 627.6,947C629.6,947.4 631.93,949.5 634,951C636.07,952.5 637.83,954.67 640,956C642.17,957.33 645.33,958.58 647,959C648.67,959.42 648.5,958.63 650,958.5C651.5,958.37 654,958.32 656,958.2C658,958.08 660,957.92 662,957.8C664,957.68 666.17,957.43 668,957.5C669.83,957.57 671.33,957.78 673,958.2C674.67,958.62 676.17,959.4 678,960C679.83,960.6 682,961.3 684,961.8C686,962.3 688,962.63 690,963C692,963.37 694,963.72 696,964C698,964.28 700,964.5 702,964.7C704,964.9 706,965.07 708,965.2C710,965.33 712,965.48 714,965.5C716,965.52 718.33,965.42 720,965.3C721.67,965.18 722.83,965.1 724,964.8C725.17,964.5 726,963.88 727,963.5C728,963.12 729,963.42 730,962.5C731,961.58 732,958.83 733,958C734,957.17 734.83,957.42 736,957.5C737.17,957.58 738.67,957.88 740,958.5C741.33,959.12 742.67,960.2 744,961.2C745.33,962.2 746.5,963.83 748,964.5C749.5,965.17 751.58,965.45 753,965.2C754.42,964.95 755.58,964.03 756.5,963C757.42,961.97 757.92,960.17 758.5,959C759.08,957.83 759.45,956.08 760,956C760.55,955.92 761.13,957.75 761.8,958.5C762.47,959.25 762.88,959.45 764,960.5C765.12,961.55 767.33,964.05 768.5,964.8C769.67,965.55 770.17,965.55 771,965C771.83,964.45 772.67,962.92 773.5,961.5C774.33,960.08 775.08,956.5 776,956.5C776.92,956.5 778,960.05 779,961.5C780,962.95 781.08,965.12 782,965.2C782.92,965.28 783.63,963.28 784.5,962C785.37,960.72 786.37,957.42 787.2,957.5C788.03,957.58 788.78,961.25 789.5,962.5C790.22,963.75 790.88,965.17 791.5,965C792.12,964.83 792.65,962.7 793.2,961.5C793.75,960.3 794.17,957.63 794.8,957.8C795.43,957.97 796.33,961.33 797,962.5C797.67,963.67 798.22,964.97 798.8,964.8C799.38,964.63 799.83,962.33 800.5,961.5C801.17,960.67 802.13,959.52 802.8,959.8C803.47,960.08 804.02,962.25 804.5,963.2C804.98,964.15 805.28,965.83 805.7,965.5C806.12,965.17 806.57,962.7 807,961.2C807.43,959.7 807.72,956.23 808.3,956.5C808.88,956.77 808.88,961.75 810.5,962.8C812.12,963.85 816.75,962.8 818,962.8L818,855Z" fill="#ff00ff"/>
<path d="M508.4,861C509,862.5 510.57,867 512,870C513.43,873 515,876 517,879C519,882 521.5,885 524,888C526.5,891 529,893.83 532,897C535,900.17 538.67,903.83 542,907C545.33,910.17 549,913 552,916C555,919 557.5,922 560,925C562.5,928 564.83,931.4 567,934C569.17,936.6 570.83,939.03 573,940.6C575.17,942.17 577.17,942.73 580,943.4C582.83,944.07 587.33,944.4 590,944.6C592.67,944.8 593.33,944.27 596,944.6C598.67,944.93 602.83,946.13 606,946.6C609.17,947.07 612.33,947.6 615,947.4C617.67,947.2 619.9,945.87 622,945.4C624.1,944.93 625.6,944.17 627.6,944.6C629.6,945.03 631.93,946.53 634,948C636.07,949.47 637.83,951.97 640,953.4C642.17,954.83 645.33,956.17 647,956.6C648.67,957.03 648.5,956.13 650,956C651.5,955.87 654,955.88 656,955.8C658,955.72 660,955.63 662,955.5C664,955.37 666.17,955 668,955C669.83,955 671.33,955.08 673,955.5C674.67,955.92 676.17,956.83 678,957.5C679.83,958.17 682,958.88 684,959.5C686,960.12 688,960.7 690,961.2C692,961.7 694,962.12 696,962.5C698,962.88 700,963.22 702,963.5C704,963.78 706,964.03 708,964.2C710,964.37 712,964.45 714,964.5C716,964.55 718.33,964.63 720,964.5C721.67,964.37 722.83,964.12 724,963.7C725.17,963.28 726,962.53 727,962C728,961.47 729,961.58 730,960.5C731,959.42 732,956.5 733,955.5C734,954.5 734.83,954.33 736,954.5C737.17,954.67 738.67,955.67 740,956.5C741.33,957.33 742.67,958.38 744,959.5C745.33,960.62 746.5,962.42 748,963.2C749.5,963.98 751.58,964.57 753,964.2C754.42,963.83 755.58,962.28 756.5,961C757.42,959.72 757.92,957.83 758.5,956.5C759.08,955.17 759.45,953.08 760,953C760.55,952.92 761.13,955.08 761.8,956C762.47,956.92 762.88,957.22 764,958.5C765.12,959.78 767.33,962.78 768.5,963.7C769.67,964.62 770.17,964.7 771,964C771.83,963.3 772.67,961.25 773.5,959.5C774.33,957.75 775.08,953.45 776,953.5C776.92,953.55 778,958.02 779,959.8C780,961.58 781.08,964.13 782,964.2C782.92,964.27 783.63,961.73 784.5,960.2C785.37,958.67 786.37,954.87 787.2,955C788.03,955.13 788.78,959.47 789.5,961C790.22,962.53 790.88,964.4 791.5,964.2C792.12,964 792.65,961.25 793.2,959.8C793.75,958.35 794.17,955.27 794.8,955.5C795.43,955.73 796.33,959.82 797,961.2C797.67,962.58 798.22,964 798.8,963.8C799.38,963.6 799.83,961 800.5,960C801.17,959 802.13,957.47 802.8,957.8C803.47,958.13 804.02,960.85 804.5,962C804.98,963.15 805.28,965.12 805.7,964.7C806.12,964.28 806.57,961.37 807,959.5C807.43,957.63 807.72,953.22 808.3,953.5C808.88,953.78 808.88,959.92 810.5,961.2C812.12,962.48 816.75,961.2 818,961.2L818,855Z" fill="#b3b3b3"/>
<path d="M512.4,861C513,862.5 514.73,867.33 516,870C517.27,872.67 518.33,874.5 520,877C521.67,879.5 523.67,882 526,885C528.33,888 531,891.83 534,895C537,898.17 540.67,901 544,904C547.33,907 551,910 554,913C557,916 559.5,918.83 562,922C564.5,925.17 566.83,929.17 569,932C571.17,934.83 573,937.33 575,939C577,940.67 578.5,941.33 581,942C583.5,942.67 587.5,942.83 590,943C592.5,943.17 593.33,942.67 596,943C598.67,943.33 602.83,944.5 606,945C609.17,945.5 612.33,946.17 615,946C617.67,945.83 619.9,944.5 622,944C624.1,943.5 625.6,942.57 627.6,943C629.6,943.43 631.93,945.1 634,946.6C636.07,948.1 637.83,950.6 640,952C642.17,953.4 645.33,954.5 647,955C648.67,955.5 648.5,955.03 650,955C651.5,954.97 654,954.88 656,954.8C658,954.72 660,954.63 662,954.5C664,954.37 666.17,954 668,954C669.83,954 671.33,954.08 673,954.5C674.67,954.92 676.17,955.83 678,956.5C679.83,957.17 682,957.83 684,958.5C686,959.17 688,959.92 690,960.5C692,961.08 694,961.58 696,962C698,962.42 700,962.72 702,963C704,963.28 706,963.53 708,963.7C710,963.87 712,963.95 714,964C716,964.05 718.33,964.17 720,964C721.67,963.83 722.83,963.5 724,963C725.17,962.5 726,961.67 727,961C728,960.33 729,960.17 730,959C731,957.83 732,955.08 733,954C734,952.92 734.83,952.33 736,952.5C737.17,952.67 738.67,954 740,955C741.33,956 742.67,957.25 744,958.5C745.33,959.75 746.5,961.67 748,962.5C749.5,963.33 751.58,963.92 753,963.5C754.42,963.08 755.58,961.42 756.5,960C757.42,958.58 757.92,956.5 758.5,955C759.08,953.5 759.45,951.08 760,951C760.55,950.92 761.13,953.5 761.8,954.5C762.47,955.5 762.88,955.58 764,957C765.12,958.42 767.33,961.97 768.5,963C769.67,964.03 770.17,964.03 771,963.2C771.83,962.37 772.67,959.95 773.5,958C774.33,956.05 775.08,951.42 776,951.5C776.92,951.58 778,956.5 779,958.5C780,960.5 781.08,963.42 782,963.5C782.92,963.58 783.63,960.67 784.5,959C785.37,957.33 786.37,953.33 787.2,953.5C788.03,953.67 788.78,958.33 789.5,960C790.22,961.67 790.88,963.75 791.5,963.5C792.12,963.25 792.65,960.08 793.2,958.5C793.75,956.92 794.17,953.75 794.8,954C795.43,954.25 796.33,958.5 797,960C797.67,961.5 798.22,963.17 798.8,963C799.38,962.83 799.83,960.08 800.5,959C801.17,957.92 802.13,956.17 802.8,956.5C803.47,956.83 804.02,959.75 804.5,961C804.98,962.25 805.28,964.5 805.7,964C806.12,963.5 806.57,960.08 807,958C807.43,955.92 807.72,951.17 808.3,951.5C808.88,951.83 808.88,958.58 810.5,960C812.12,961.42 816.75,960 818,960L818,855Z" fill="#ffffff"/>
<path d="M520,1073C520.5,1072 522,1068.83 523,1067C524,1065.17 524.67,1064.17 526,1062C527.33,1059.83 529.33,1056.83 531,1054C532.67,1051.17 534.17,1047.83 536,1045C537.83,1042.17 539.83,1040 542,1037C544.17,1034 547,1030.33 549,1027C551,1023.67 552.83,1020.33 554,1017C555.17,1013.67 555.67,1010.33 556,1007C556.33,1003.67 556,1000.17 556,997C556,993.83 556,989.8 556,988C557.2,987.48 559.67,986.07 562,985.4C564.33,984.73 566.67,984.23 570,984C573.33,983.77 578,984.17 582,984C586,983.83 590.33,983.43 594,983C597.67,982.57 601,981.4 604,981.4C607,981.4 609.33,982.4 612,983C614.67,983.6 617.4,984.67 620,985C622.6,985.33 625.27,985.5 627.6,985C629.93,984.5 631.6,983.33 634,982C636.4,980.67 639.67,978.23 642,977C644.33,975.77 646.67,975.02 648,974.6C649.33,974.18 648.67,974.47 650,974.5C651.33,974.53 654,974.72 656,974.8C658,974.88 660,974.93 662,975C664,975.07 666.17,975.2 668,975.2C669.83,975.2 671.67,975.37 673,975C674.33,974.63 674.83,973.63 676,973C677.17,972.37 678.67,971.67 680,971.2C681.33,970.73 682.33,970.48 684,970.2C685.67,969.92 688,969.67 690,969.5C692,969.33 694,969.25 696,969.2C698,969.15 700,969.1 702,969.2C704,969.3 706,969.42 708,969.8C710,970.18 712.33,970.72 714,971.5C715.67,972.28 716.67,973.25 718,974.5C719.33,975.75 720.67,977.42 722,979C723.33,980.58 724.83,982.83 726,984C727.17,985.17 727.83,986.5 729,986C730.17,985.5 731.83,982.83 733,981C734.17,979.17 734.83,976.75 736,975C737.17,973.25 738.67,971.42 740,970.5C741.33,969.58 742.67,969.5 744,969.5C745.33,969.5 746.75,969.58 748,970.5C749.25,971.42 750.33,973.25 751.5,975C752.67,976.75 754,979.42 755,981C756,982.58 757,983.8 757.5,984.5C758,983.2 759.08,980.25 760,978C760.92,975.75 762.08,972.47 763,971C763.92,969.53 764.58,969.2 765.5,969.2C766.42,969.2 767.58,969.7 768.5,971C769.42,972.3 770.17,975 771,977C771.83,979 773,981.8 773.5,983C774,981.6 775.25,978.08 776,976C776.75,973.92 777.42,971.63 778,970.5C778.58,969.37 778.92,969.03 779.5,969.2C780.08,969.37 780.83,970.2 781.5,971.5C782.17,972.8 782.87,975.25 783.5,977C784.13,978.75 784.94,981 785.3,982C785.68,980.6 786.58,977.08 787.2,975C787.82,972.92 788.37,970 789,969.5C789.63,969 790.33,970.58 791,972C791.67,973.42 792.42,976.33 793,978C793.58,979.67 794.2,981.2 794.5,982C794.8,980.6 795.45,977.03 796,975C796.55,972.97 797.22,970.05 797.8,969.8C798.38,969.55 798.88,971.55 799.5,973.5C800.12,975.45 801.1,979.9 801.5,981.5C801.76,980 802.35,975.92 802.8,974C803.25,972.08 803.67,969.92 804.2,970C804.73,970.08 805.37,972.83 806,974.5C806.63,976.17 807.6,978.9 808,980C808.5,978.8 808.83,975 810.5,974C812.17,973 816.75,974 818,974L818,1085L480,1085Z" fill="#0000ff"/>
<path d="M526,1073C526.5,1072 528.17,1068.67 529,1067C529.83,1065.33 529.9,1065 531,1063C532.1,1061 533.93,1057.83 535.6,1055C537.27,1052.17 539.1,1048.83 541,1046C542.9,1043.17 544.83,1040.83 547,1038C549.17,1035.17 552,1032.17 554,1029C556,1025.83 557.73,1022.33 559,1019C560.27,1015.67 561.1,1012.33 561.6,1009C562.1,1005.67 561.77,1002 562,999C562.23,996 562.17,992.73 563,991C563.83,989.27 565.17,989.2 567,988.6C568.83,988 571.17,987.6 574,987.4C576.83,987.2 580.67,987.53 584,987.4C587.33,987.27 590.67,987.07 594,986.6C597.33,986.13 601,984.7 604,984.6C607,984.5 609.33,985.43 612,986C614.67,986.57 617.4,987.67 620,988C622.6,988.33 625.27,988.57 627.6,988C629.93,987.43 631.6,986.03 634,984.6C636.4,983.17 639.67,980.6 642,979.4C644.33,978.2 646.67,977.83 648,977.4C649.33,976.97 648.67,976.87 650,976.8C651.33,976.73 654,976.93 656,977C658,977.07 660,977.12 662,977.2C664,977.28 666.17,977.5 668,977.5C669.83,977.5 671.67,977.53 673,977.2C674.33,976.87 674.83,976.12 676,975.5C677.17,974.88 678.67,974.08 680,973.5C681.33,972.92 682.33,972.45 684,972C685.67,971.55 688,971.1 690,970.8C692,970.5 694,970.3 696,970.2C698,970.1 700,970.07 702,970.2C704,970.33 706,970.53 708,971C710,971.47 712.33,972.08 714,973C715.67,973.92 716.67,975.17 718,976.5C719.33,977.83 720.67,979.33 722,981C723.33,982.67 724.83,985.17 726,986.5C727.17,987.83 727.83,989.5 729,989C730.17,988.5 731.83,985.5 733,983.5C734.17,981.5 734.83,978.95 736,977C737.17,975.05 738.67,972.88 740,971.8C741.33,970.72 742.67,970.5 744,970.5C745.33,970.5 746.75,970.72 748,971.8C749.25,972.88 750.33,975.05 751.5,977C752.67,978.95 754,981.75 755,983.5C756,985.25 757,986.7 757.5,987.5C758,986.1 759.08,982.95 760,980.5C760.92,978.05 762.08,974.52 763,972.8C763.92,971.08 764.58,970.2 765.5,970.2C766.42,970.2 767.58,971.25 768.5,972.8C769.42,974.35 770.17,977.3 771,979.5C771.83,981.7 773,984.7 773.5,986C774,984.5 775.25,980.83 776,978.5C776.75,976.17 777.42,973.38 778,972C778.58,970.62 778.92,970.03 779.5,970.2C780.08,970.37 780.83,971.45 781.5,973C782.17,974.55 782.87,977.5 783.5,979.5C784.13,981.5 784.94,983.9 785.3,985C785.68,983.5 786.58,979.92 787.2,977.5C787.82,975.08 788.37,971.12 789,970.5C789.63,969.88 790.33,972.13 791,973.8C791.67,975.47 792.42,978.63 793,980.5C793.58,982.37 794.2,984.1 794.5,985C794.8,983.5 795.45,979.87 796,977.5C796.55,975.13 797.22,971.13 797.8,970.8C798.38,970.47 798.88,973.22 799.5,975.5C800.12,977.78 801.1,982.7 801.5,984.5C801.76,982.8 802.35,978.25 802.8,976C803.25,973.75 803.67,970.92 804.2,971C804.73,971.08 805.37,974.67 806,976.5C806.63,978.33 807.6,980.9 808,982C808.5,980.7 808.83,976.58 810.5,975.5C812.17,974.42 816.75,975.5 818,975.5L818,1085L480,1085Z" fill="#ff00ff"/>
<path d="M530,1073C530.4,1072 531.57,1068.67 532.4,1067C533.23,1065.33 533.73,1065 535,1063C536.27,1061 538.17,1057.67 540,1055C541.83,1052.33 543.83,1049.67 546,1047C548.17,1044.33 550.5,1041.5 553,1039C555.5,1036.5 558.67,1034.83 561,1032C563.33,1029.17 565.33,1025.17 567,1022C568.67,1018.83 570.1,1015.83 571,1013C571.9,1010.17 571.97,1007.5 572.4,1005C572.83,1002.5 572.67,999.67 573.6,998C574.53,996.33 575.93,995.83 578,995C580.07,994.17 583.33,993.67 586,993C588.67,992.33 591,991.73 594,991C597,990.27 601,988.87 604,988.6C607,988.33 609.33,989 612,989.4C614.67,989.8 617.4,990.8 620,991C622.6,991.2 625.27,991.2 627.6,990.6C629.93,990 631.6,988.83 634,987.4C636.4,985.97 639.67,983.33 642,982C644.33,980.67 646.67,979.82 648,979.4C649.33,978.98 648.67,979.43 650,979.5C651.33,979.57 654,979.72 656,979.8C658,979.88 660,979.97 662,980C664,980.03 666.17,980.08 668,980C669.83,979.92 671.67,979.87 673,979.5C674.33,979.13 674.83,978.47 676,977.8C677.17,977.13 678.67,976.17 680,975.5C681.33,974.83 682.33,974.35 684,973.8C685.67,973.25 688,972.58 690,972.2C692,971.82 694,971.62 696,971.5C698,971.38 700,971.33 702,971.5C704,971.67 706,971.92 708,972.5C710,973.08 712.33,974 714,975C715.67,976 716.67,977 718,978.5C719.33,980 720.67,982.08 722,984C723.33,985.92 724.83,988.58 726,990C727.17,991.42 727.83,993 729,992.5C730.17,992 731.83,989.17 733,987C734.17,984.83 734.83,981.75 736,979.5C737.17,977.25 738.67,974.78 740,973.5C741.33,972.22 742.67,971.8 744,971.8C745.33,971.8 746.75,972.22 748,973.5C749.25,974.78 750.33,977.08 751.5,979.5C752.67,981.92 754,985.75 755,988C756,990.25 757,992 757.5,993C758,991.2 759.08,987 760,984C760.92,981 762.08,977.08 763,975C763.92,972.92 764.58,971.5 765.5,971.5C766.42,971.5 767.58,973.08 768.5,975C769.42,976.92 770.17,980.17 771,983C771.83,985.83 773,990.2 773.5,992C774,990 775.25,985 776,982C776.75,979 777.42,975.75 778,974C778.58,972.25 778.92,971.33 779.5,971.5C780.08,971.67 780.83,972.92 781.5,975C782.17,977.08 782.87,981.33 783.5,984C784.13,986.67 784.94,989.6 785.3,991C785.68,989 786.58,984.2 787.2,981C787.82,977.8 788.37,972.63 789,971.8C789.63,970.97 790.33,973.8 791,976C791.67,978.2 792.42,982.5 793,985C793.58,987.5 794.2,989.8 794.5,991C794.8,989 795.45,984.17 796,981C796.55,977.83 797.22,972.5 797.8,972C798.38,971.5 798.88,975 799.5,978C800.12,981 801.1,987.6 801.5,990C801.76,987.8 802.35,981.97 802.8,979C803.25,976.03 803.67,972.2 804.2,972.2C804.73,972.2 805.37,976.95 806,979C806.63,981.05 807.6,983.4 808,984.5C808.5,983.1 808.83,978.67 810.5,977.5C812.17,976.33 816.75,977.5 818,977.5L818,1085L480,1085Z" fill="#b3b3b3"/>
<path d="M533,1073C533.43,1072 534.77,1068.67 535.6,1067C536.43,1065.33 536.77,1065 538,1063C539.23,1061 541.17,1057.5 543,1055C544.83,1052.5 546.83,1050.5 549,1048C551.17,1045.5 553.5,1042.17 556,1040C558.5,1037.83 561.5,1037.17 564,1035C566.5,1032.83 569.17,1029.83 571,1027C572.83,1024.17 573.67,1021 575,1018C576.33,1015 577.67,1011.67 579,1009C580.33,1006.33 581.5,1004 583,1002C584.5,1000 586.17,998.33 588,997C589.83,995.67 591.33,994.93 594,994C596.67,993.07 601,991.73 604,991.4C607,991.07 609.33,991.67 612,992C614.67,992.33 617.4,993.3 620,993.4C622.6,993.5 625.27,993.33 627.6,992.6C629.93,991.87 631.6,990.53 634,989C636.4,987.47 639.67,984.73 642,983.4C644.33,982.07 646.67,981.4 648,981C649.33,980.6 648.67,980.97 650,981C651.33,981.03 654,981.12 656,981.2C658,981.28 660,981.45 662,981.5C664,981.55 666.17,981.62 668,981.5C669.83,981.38 671.67,981.18 673,980.8C674.33,980.42 674.83,979.87 676,979.2C677.17,978.53 678.67,977.5 680,976.8C681.33,976.1 682.33,975.55 684,975C685.67,974.45 688,973.87 690,973.5C692,973.13 694,972.92 696,972.8C698,972.68 700,972.63 702,972.8C704,972.97 706,973.18 708,973.8C710,974.42 712.33,975.47 714,976.5C715.67,977.53 716.67,978.5 718,980C719.33,981.5 720.67,983.58 722,985.5C723.33,987.42 724.83,990 726,991.5C727.17,993 727.83,994.92 729,994.5C730.17,994.08 731.83,991.25 733,989C734.17,986.75 734.83,983.37 736,981C737.17,978.63 738.67,976.17 740,974.8C741.33,973.43 742.67,972.8 744,972.8C745.33,972.8 746.75,973.35 748,974.8C749.25,976.25 750.33,978.88 751.5,981.5C752.67,984.12 754,988.25 755,990.5C756,992.75 757,994.1 757.5,995C758,993.2 759.08,989.08 760,986C760.92,982.92 762.08,978.75 763,976.5C763.92,974.25 764.58,972.5 765.5,972.5C766.42,972.5 767.58,974.42 768.5,976.5C769.42,978.58 770.17,982 771,985C771.83,988 773,992.6 773.5,994.5C774,992.4 775.25,987.17 776,984C776.75,980.83 777.42,977.42 778,975.5C778.58,973.58 778.92,972.33 779.5,972.5C780.08,972.67 780.83,974.25 781.5,976.5C782.17,978.75 782.87,983.08 783.5,986C784.13,988.92 784.94,992.4 785.3,994C785.68,991.8 786.58,986.53 787.2,983C787.82,979.47 788.37,973.72 789,972.8C789.63,971.88 790.33,975.13 791,977.5C791.67,979.87 792.42,984.25 793,987C793.58,989.75 794.2,992.6 794.5,994C794.8,991.8 795.45,986.5 796,983C796.55,979.5 797.22,973.58 797.8,973C798.38,972.42 798.88,976.17 799.5,979.5C800.12,982.83 801.1,990.3 801.5,993C801.76,990.5 802.35,983.8 802.8,980.5C803.25,977.2 803.67,973.2 804.2,973.2C804.73,973.2 805.37,978.45 806,980.5C806.63,982.55 807.6,984.5 808,985.5C808.5,984.1 808.83,979.67 810.5,978.5C812.17,977.33 816.75,978.5 818,978.5L818,1085L480,1085Z" fill="#ffffff"/>
<polygon points="262.7,953.4 264.3,957.32 269.17,957.41 265.29,959.92 266.7,963.89 262.7,961.52 258.7,963.89 260.11,959.92 256.23,957.41 261.1,957.32" fill="#000"/>
<path d="M262.55,868.8V1066.5M445.1,868.8V1066.5M627.65,868.8V1066.5M80,967.65H810.2" stroke="#7a7a7a" stroke-width="1" fill="none"/>
</g>
<path d="M80,868.8v16.5M80,1066.5v-16.5M171.28,868.8v16.5M171.28,1066.5v-16.5M262.55,868.8v16.5M262.55,1066.5v-16.5M353.83,868.8v16.5M353.83,1066.5v-16.5M445.1,868.8v16.5M445.1,1066.5v-16.5M536.38,868.8v16.5M536.38,1066.5v-16.5M627.65,868.8v16.5M627.65,1066.5v-16.5M718.93,868.8v16.5M718.93,1066.5v-16.5M810.2,868.8v16.5M810.2,1066.5v-16.5M84.18,868.8v8.5M84.18,1066.5v-8.5M88.85,868.8v8.5M88.85,1066.5v-8.5M94.14,868.8v8.5M94.14,1066.5v-8.5M100.25,868.8v8.5M100.25,1066.5v-8.5M107.48,868.8v8.5M107.48,1066.5v-8.5M116.32,868.8v8.5M116.32,1066.5v-8.5M127.73,868.8v8.5M127.73,1066.5v-8.5M143.8,868.8v8.5M143.8,1066.5v-8.5M175.45,868.8v8.5M175.45,1066.5v-8.5M180.12,868.8v8.5M180.12,1066.5v-8.5M185.41,868.8v8.5M185.41,1066.5v-8.5M191.52,868.8v8.5M191.52,1066.5v-8.5M198.75,868.8v8.5M198.75,1066.5v-8.5M207.6,868.8v8.5M207.6,1066.5v-8.5M219,868.8v8.5M219,1066.5v-8.5M235.07,868.8v8.5M235.07,1066.5v-8.5M266.73,868.8v8.5M266.73,1066.5v-8.5M271.4,868.8v8.5M271.4,1066.5v-8.5M276.69,868.8v8.5M276.69,1066.5v-8.5M282.8,868.8v8.5M282.8,1066.5v-8.5M290.03,868.8v8.5M290.03,1066.5v-8.5M298.87,868.8v8.5M298.87,1066.5v-8.5M310.28,868.8v8.5M310.28,1066.5v-8.5M326.35,868.8v8.5M326.35,1066.5v-8.5M357.58,868.8v8.5M357.58,1066.5v-8.5M362.28,868.8v8.5M362.28,1066.5v-8.5M367.18,868.8v8.5M367.18,1066.5v-8.5M373.08,868.8v8.5M373.08,1066.5v-8.5M379.88,868.8v8.5M379.88,1066.5v-8.5M388.08,868.8v8.5M388.08,1066.5v-8.5M397.79,868.8v8.5M397.79,1066.5v-8.5M410.39,868.8v8.5M410.39,1066.5v-8.5M426.09,868.8v8.5M426.09,1066.5v-8.5M464.11,868.8v8.5M464.11,1066.5v-8.5M479.81,868.8v8.5M479.81,1066.5v-8.5M492.41,868.8v8.5M492.41,1066.5v-8.5M502.12,868.8v8.5M502.12,1066.5v-8.5M510.32,868.8v8.5M510.32,1066.5v-8.5M517.12,868.8v8.5M517.12,1066.5v-8.5M523.02,868.8v8.5M523.02,1066.5v-8.5M527.92,868.8v8.5M527.92,1066.5v-8.5M532.62,868.8v8.5M532.62,1066.5v-8.5M563.85,868.8v8.5M563.85,1066.5v-8.5M579.92,868.8v8.5M579.92,1066.5v-8.5M591.33,868.8v8.5M591.33,1066.5v-8.5M600.17,868.8v8.5M600.17,1066.5v-8.5M607.4,868.8v8.5M607.4,1066.5v-8.5M613.51,868.8v8.5M613.51,1066.5v-8.5M618.8,868.8v8.5M618.8,1066.5v-8.5M623.47,868.8v8.5M623.47,1066.5v-8.5M655.13,868.8v8.5M655.13,1066.5v-8.5M671.2,868.8v8.5M671.2,1066.5v-8.5M682.6,868.8v8.5M682.6,1066.5v-8.5M691.45,868.8v8.5M691.45,1066.5v-8.5M698.68,868.8v8.5M698.68,1066.5v-8.5M704.79,868.8v8.5M704.79,1066.5v-8.5M710.08,868.8v8.5M710.08,1066.5v-8.5M714.75,868.8v8.5M714.75,1066.5v-8.5M746.4,868.8v8.5M746.4,1066.5v-8.5M762.47,868.8v8.5M762.47,1066.5v-8.5M773.88,868.8v8.5M773.88,1066.5v-8.5M782.72,868.8v8.5M782.72,1066.5v-8.5M789.95,868.8v8.5M789.95,1066.5v-8.5M796.06,868.8v8.5M796.06,1066.5v-8.5M801.35,868.8v8.5M801.35,1066.5v-8.5M806.02,868.8v8.5M806.02,1066.5v-8.5M80,878.68h8.5M810.2,878.68h-8.5M80,888.57h8.5M810.2,888.57h-8.5M80,898.45h8.5M810.2,898.45h-8.5M80,908.34h8.5M810.2,908.34h-8.5M80,918.22h16.5M810.2,918.22h-16.5M80,928.11h8.5M810.2,928.11h-8.5M80,937.99h8.5M810.2,937.99h-8.5M80,947.88h8.5M810.2,947.88h-8.5M80,957.76h8.5M810.2,957.76h-8.5M80,967.65h16.5M810.2,967.65h-16.5M80,977.53h8.5M810.2,977.53h-8.5M80,987.42h8.5M810.2,987.42h-8.5M80,997.3h8.5M810.2,997.3h-8.5M80,1007.19h8.5M810.2,1007.19h-8.5M80,1017.07h16.5M810.2,1017.07h-16.5M80,1026.96h8.5M810.2,1026.96h-8.5M80,1036.84h8.5M810.2,1036.84h-8.5M80,1046.73h8.5M810.2,1046.73h-8.5M80,1056.61h8.5M810.2,1056.61h-8.5" stroke="#000" stroke-width="1.4" fill="none"/>
<rect x="80" y="868.8" width="730.2" height="197.7" fill="none" stroke="#000" stroke-width="1.5"/>
<g style="filter:grayscale(1)">
<text x="71.8" y="17.3" text-anchor="end" class="tl">1</text>
<text x="71.8" y="66.7" text-anchor="end" class="tl">0.5</text>
<text x="71.8" y="116.1" text-anchor="end" class="tl">0</text>
<text x="71.8" y="165.5" text-anchor="end" class="tl">-0.5</text>
<text x="71.8" y="214.9" text-anchor="end" class="tl">-1</text>
<text x="71.8" y="232.05" text-anchor="end" class="tl">1</text>
<text x="71.8" y="281.45" text-anchor="end" class="tl">0.5</text>
<text x="71.8" y="330.85" text-anchor="end" class="tl">0</text>
<text x="71.8" y="380.25" text-anchor="end" class="tl">-0.5</text>
<text x="71.8" y="429.65" text-anchor="end" class="tl">-1</text>
<text x="71.8" y="446.6" text-anchor="end" class="tl">0.5</text>
<text x="71.8" y="496.05" text-anchor="end" class="tl">0.25</text>
<text x="71.8" y="545.5" text-anchor="end" class="tl">0</text>
<text x="71.8" y="594.95" text-anchor="end" class="tl">-0.25</text>
<text x="71.8" y="644.4" text-anchor="end" class="tl">-0.5</text>
<text x="71.8" y="661.45" text-anchor="end" class="tl">0.5</text>
<text x="71.8" y="710.85" text-anchor="end" class="tl">0.25</text>
<text x="71.8" y="760.25" text-anchor="end" class="tl">0</text>
<text x="71.8" y="809.65" text-anchor="end" class="tl">-0.25</text>
<text x="71.8" y="859.05" text-anchor="end" class="tl">-0.5</text>
<text x="71.8" y="876.3" text-anchor="end" class="tl">0.5</text>
<text x="71.8" y="925.72" text-anchor="end" class="tl">0.25</text>
<text x="71.8" y="975.15" text-anchor="end" class="tl">0</text>
<text x="71.8" y="1024.57" text-anchor="end" class="tl">-0.25</text>
<text x="71.8" y="1074" text-anchor="end" class="tl">-0.5</text>
<text x="80.5" y="1089.3" text-anchor="middle" class="tl">-100</text>
<text x="171.78" y="1089.3" text-anchor="middle" class="tl">-10</text>
<text x="263.05" y="1089.3" text-anchor="middle" class="tl">-1</text>
<text x="354.33" y="1089.3" text-anchor="middle" class="tl">-0.1</text>
<text x="445.6" y="1089.3" text-anchor="middle" class="tl">0</text>
<text x="536.88" y="1089.3" text-anchor="middle" class="tl">0.1</text>
<text x="628.15" y="1089.3" text-anchor="middle" class="tl">1</text>
<text x="719.43" y="1089.3" text-anchor="middle" class="tl">10</text>
<text x="810.7" y="1089.3" text-anchor="middle" class="tl">100</text>
<text x="445.1" y="1109.3" text-anchor="middle" class="xe">ε</text>
<text transform="translate(17,108.6) rotate(-90)" text-anchor="middle" class="yl">(1 + <tspan class="eps">ε</tspan><tspan class="sub" dy="10">ee</tspan><tspan dy="-10">​</tspan> − <tspan class="eps">ε</tspan><tspan class="sub" dy="10">μμ</tspan><tspan dy="-10">​</tspan>) / <tspan class="eps">ε</tspan></text>
<text transform="translate(17,323.35) rotate(-90)" text-anchor="middle" class="yl">(<tspan class="eps">ε</tspan><tspan class="sub" dy="10">ττ</tspan><tspan dy="-10">​</tspan> − <tspan class="eps">ε</tspan><tspan class="sub" dy="10">μμ</tspan><tspan dy="-10">​</tspan>) / <tspan class="eps">ε</tspan></text>
<text transform="translate(17,538) rotate(-90)" text-anchor="middle" class="yl"><tspan class="eps">ε</tspan><tspan class="sub" dy="10">eμ</tspan><tspan dy="-10">​</tspan> / <tspan class="eps">ε</tspan></text>
<text transform="translate(17,752.75) rotate(-90)" text-anchor="middle" class="yl"><tspan class="eps">ε</tspan><tspan class="sub" dy="10">eτ</tspan><tspan dy="-10">​</tspan> / <tspan class="eps">ε</tspan></text>
<text transform="translate(17,967.65) rotate(-90)" text-anchor="middle" class="yl"><tspan class="eps">ε</tspan><tspan class="sub" dy="10">μτ</tspan><tspan dy="-10">​</tspan> / <tspan class="eps">ε</tspan></text>
</g>
</svg>
</body></html>
